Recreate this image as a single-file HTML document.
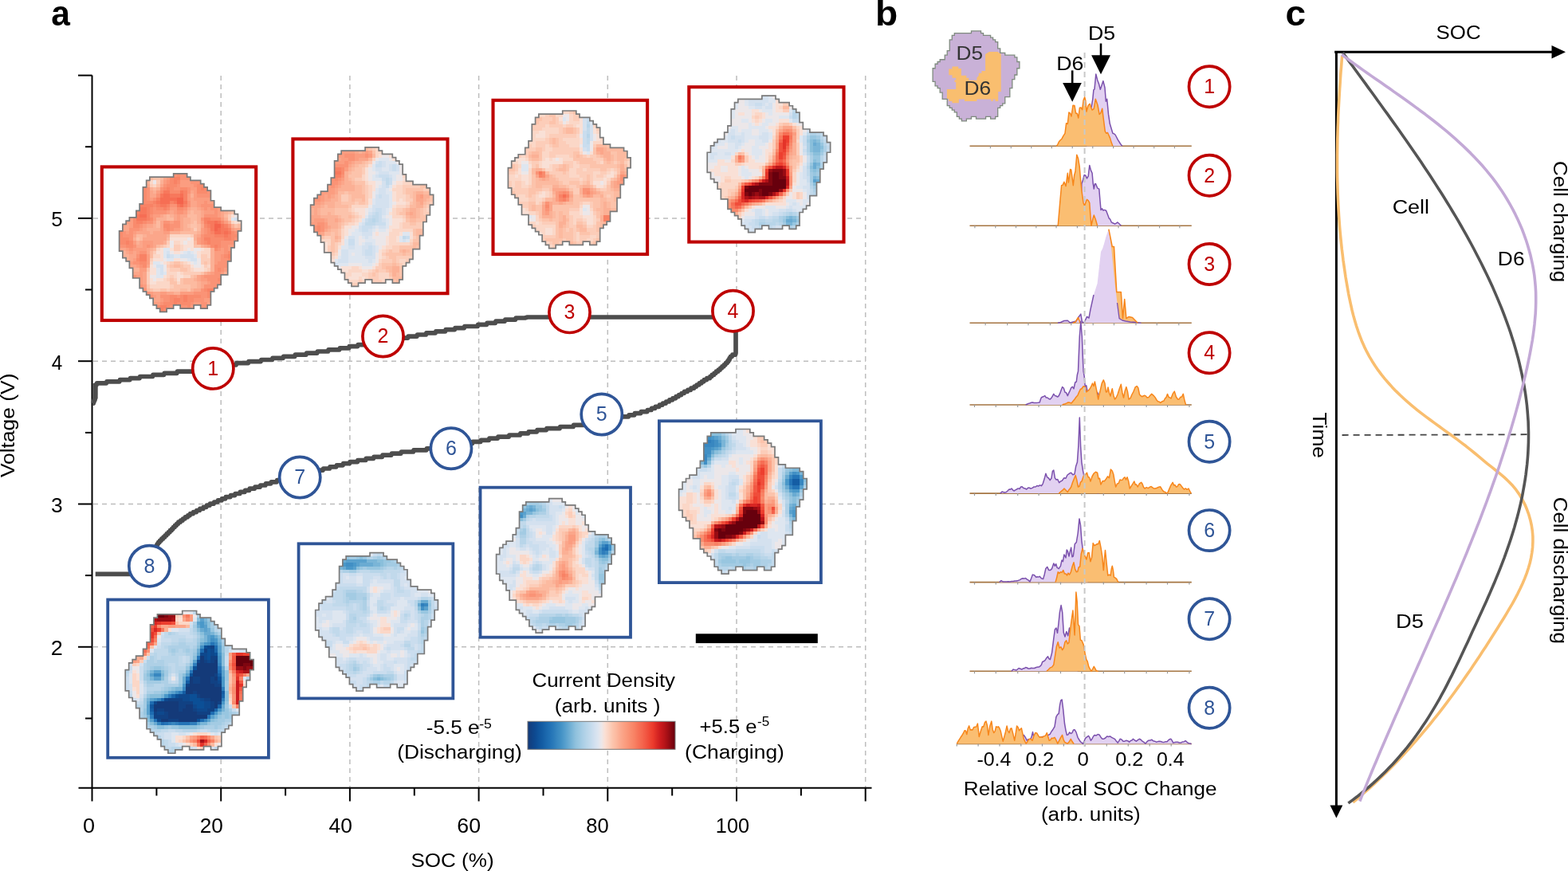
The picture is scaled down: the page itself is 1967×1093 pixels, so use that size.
<!DOCTYPE html>
<html><head><meta charset="utf-8"><title>Figure</title>
<style>html,body{margin:0;padding:0;background:#fff;} svg{display:block;}</style>
</head><body>
<svg width="1967" height="1093" viewBox="0 0 1967 1093" font-family="'Liberation Sans', Arial, Helvetica, sans-serif">
<rect width="1967" height="1093" fill="#fff"/>
<line x1="277.2" y1="95" x2="277.2" y2="988" stroke="#BDBDBD" stroke-width="1.5" stroke-dasharray="6,5"/>
<line x1="438.9" y1="95" x2="438.9" y2="988" stroke="#BDBDBD" stroke-width="1.5" stroke-dasharray="6,5"/>
<line x1="600.6" y1="95" x2="600.6" y2="988" stroke="#BDBDBD" stroke-width="1.5" stroke-dasharray="6,5"/>
<line x1="762.3" y1="95" x2="762.3" y2="988" stroke="#BDBDBD" stroke-width="1.5" stroke-dasharray="6,5"/>
<line x1="924" y1="95" x2="924" y2="988" stroke="#BDBDBD" stroke-width="1.5" stroke-dasharray="6,5"/>
<line x1="1085.7" y1="95" x2="1085.7" y2="988" stroke="#BDBDBD" stroke-width="1.5" stroke-dasharray="6,5"/>
<line x1="117" y1="811.8" x2="1086" y2="811.8" stroke="#BDBDBD" stroke-width="1.5" stroke-dasharray="6,5"/>
<line x1="117" y1="632.5" x2="1086" y2="632.5" stroke="#BDBDBD" stroke-width="1.5" stroke-dasharray="6,5"/>
<line x1="117" y1="453.2" x2="1086" y2="453.2" stroke="#BDBDBD" stroke-width="1.5" stroke-dasharray="6,5"/>
<line x1="117" y1="273.9" x2="1086" y2="273.9" stroke="#BDBDBD" stroke-width="1.5" stroke-dasharray="6,5"/>
<line x1="115.5" y1="94.5" x2="115.5" y2="989.5" stroke="#000" stroke-width="2"/>
<line x1="98.5" y1="988.8" x2="1093.5" y2="988.8" stroke="#000" stroke-width="2"/>
<line x1="107" y1="901.5" x2="115.5" y2="901.5" stroke="#000" stroke-width="2"/>
<line x1="98" y1="811.8" x2="115.5" y2="811.8" stroke="#000" stroke-width="2"/>
<line x1="107" y1="722.1" x2="115.5" y2="722.1" stroke="#000" stroke-width="2"/>
<line x1="98" y1="632.5" x2="115.5" y2="632.5" stroke="#000" stroke-width="2"/>
<line x1="107" y1="542.9" x2="115.5" y2="542.9" stroke="#000" stroke-width="2"/>
<line x1="98" y1="453.2" x2="115.5" y2="453.2" stroke="#000" stroke-width="2"/>
<line x1="107" y1="363.5" x2="115.5" y2="363.5" stroke="#000" stroke-width="2"/>
<line x1="98" y1="273.9" x2="115.5" y2="273.9" stroke="#000" stroke-width="2"/>
<line x1="107" y1="184.2" x2="115.5" y2="184.2" stroke="#000" stroke-width="2"/>
<line x1="98" y1="94.6" x2="115.5" y2="94.6" stroke="#000" stroke-width="2"/>
<line x1="115.5" y1="988" x2="115.5" y2="1005.5" stroke="#000" stroke-width="2"/>
<line x1="196.4" y1="988" x2="196.4" y2="998.5" stroke="#000" stroke-width="2"/>
<line x1="277.2" y1="988" x2="277.2" y2="1005.5" stroke="#000" stroke-width="2"/>
<line x1="358.1" y1="988" x2="358.1" y2="998.5" stroke="#000" stroke-width="2"/>
<line x1="438.9" y1="988" x2="438.9" y2="1005.5" stroke="#000" stroke-width="2"/>
<line x1="519.8" y1="988" x2="519.8" y2="998.5" stroke="#000" stroke-width="2"/>
<line x1="600.6" y1="988" x2="600.6" y2="1005.5" stroke="#000" stroke-width="2"/>
<line x1="681.5" y1="988" x2="681.5" y2="998.5" stroke="#000" stroke-width="2"/>
<line x1="762.3" y1="988" x2="762.3" y2="1005.5" stroke="#000" stroke-width="2"/>
<line x1="843.2" y1="988" x2="843.2" y2="998.5" stroke="#000" stroke-width="2"/>
<line x1="924" y1="988" x2="924" y2="1005.5" stroke="#000" stroke-width="2"/>
<line x1="1004.9" y1="988" x2="1004.9" y2="998.5" stroke="#000" stroke-width="2"/>
<line x1="1085.7" y1="988" x2="1085.7" y2="1005.5" stroke="#000" stroke-width="2"/>
<text x="63.85" y="822.30" font-size="25" textLength="14.99" lengthAdjust="spacingAndGlyphs">2</text>
<text x="64.14" y="643.00" font-size="25" textLength="14.67" lengthAdjust="spacingAndGlyphs">3</text>
<text x="64.71" y="463.70" font-size="25" textLength="13.52" lengthAdjust="spacingAndGlyphs">4</text>
<text x="64.17" y="284.40" font-size="25" textLength="14.37" lengthAdjust="spacingAndGlyphs">5</text>
<text x="103.92" y="1044.80" font-size="25" textLength="15.06" lengthAdjust="spacingAndGlyphs">0</text>
<text x="250.69" y="1044.80" font-size="25" textLength="29.15" lengthAdjust="spacingAndGlyphs">20</text>
<text x="412.47" y="1044.80" font-size="25" textLength="29.38" lengthAdjust="spacingAndGlyphs">40</text>
<text x="573.37" y="1044.80" font-size="25" textLength="29.69" lengthAdjust="spacingAndGlyphs">60</text>
<text x="735.38" y="1044.80" font-size="25" textLength="28.45" lengthAdjust="spacingAndGlyphs">80</text>
<text x="897.88" y="1044.80" font-size="25" textLength="42.08" lengthAdjust="spacingAndGlyphs">100</text>
<text x="515.40" y="1088.10" font-size="24.7" textLength="104.27" lengthAdjust="spacingAndGlyphs">SOC (%)</text>
<text transform="translate(17.90,599.06) rotate(-90)" font-size="24.7" textLength="130.53" lengthAdjust="spacingAndGlyphs">Voltage (V)</text>
<text x="64.23" y="31.70" font-size="45" font-weight="bold" textLength="23.61" lengthAdjust="spacingAndGlyphs">a</text>
<polygon points="116.5,481 122.6,481 122.6,500 117.5,508.5 116.5,508.5" fill="#4D4D4D"/>
<polyline points="116.5,506.1 117.2,506.1 117.4,504 118,504 118.2,501.9 118.9,501.9 119.1,499.8 119.3,499.8 119.3,497.7 119.3,497.7 119.3,495.6 119.4,495.6 119.4,493.5 119.4,493.5 119.4,491.4 119.4,491.4 119.4,489.3 119.4,489.3 119.4,487.2 119.5,487.2 119.5,485.1 119.5,485.1 119.5,483 121.2,483 121.6,480.9 133.4,480.9 133.9,478.8 149.9,478.8 150.4,476.7 162.9,476.7 163.4,474.6 175.1,474.6 175.6,472.5 191.4,472.5 191.9,470.4 205.6,470.4 206.1,468.3 221.9,468.3 222.4,466.2 244.1,466.2 244.6,464.1 259,464.1 259.5,462 272.4,462 272.9,459.9 284.3,459.9 284.8,457.8 296.2,457.8 296.7,455.7 311.4,455.7 311.9,453.6 327.1,453.6 327.7,451.5 341.4,451.5 341.9,449.4 355.1,449.4 355.6,447.3 369.8,447.3 370.3,445.2 384,445.2 384.5,443.1 397.8,443.1 398.3,441 411.5,441 412,438.9 425.8,438.9 426.3,436.8 437.7,436.8 438.2,434.7 448.6,434.7 449.1,432.6 459,432.6 459.5,430.5 471.5,430.5 472,428.4 484,428.4 484.5,426.3 498.6,426.3 499.1,424.2 511.6,424.2 512.1,422.1 523,422.1 523.5,420 534.3,420 534.8,417.9 546.2,417.9 546.7,415.8 558.6,415.8 559.1,413.7 570.4,413.7 570.9,411.6 582.3,411.6 582.8,409.5 599.1,409.5 599.6,407.4 610.5,407.4 611,405.3 621.4,405.3 621.9,403.2 633.2,403.2 633.7,401.1 646.6,401.1 647.1,399 658.5,399 661.7,398 923,398 923,443.1 922.5,445.2 918.8,445.2 918.4,447.3 916.5,447.3 916.2,449.4 915.2,449.4 915,451.5 913.9,451.5 913.7,453.6 912.5,453.6 912.2,455.7 910.4,455.7 910,457.8 908.3,457.8 907.9,459.9 905.9,459.9 905.5,462 903.6,462 903.2,464.1 901.2,464.1 900.8,466.2 898.4,466.2 898,468.3 896,468.3 895.6,470.4 893.2,470.4 892.8,472.5 890.8,472.5 890.4,474.6 886.8,474.6 886.4,476.7 883.3,476.7 882.9,478.8 880.3,478.8 879.9,480.9 877.3,480.9 876.9,483 874,483 873.5,485.1 871,485.1 870.6,487.2 866.9,487.2 866.4,489.3 862.8,489.3 862.3,491.4 858.6,491.4 858.2,493.5 855.1,493.5 854.6,495.6 851.6,495.6 851.1,497.7 848,497.7 847.6,499.8 843.9,499.8 843.5,501.9 839.8,501.9 839.3,504 835.6,504 835.2,506.1 831.5,506.1 831,508.2 827.3,508.2 826.9,510.3 822.2,510.3 821.7,512.4 817.5,512.4 817,514.5 812.3,514.5 811.8,516.6 804.2,516.6 803.7,518.7 796.3,518.7 795.8,520.8 789,520.8 788.5,522.9 779.2,522.9 778.7,525 768.3,525 767.8,527.1 757,527.1 756.5,529.2 745.5,529.2 745,531.3 734,531.3 733.5,533.4 719.6,533.4 719.1,535.5 702.7,535.5 702.2,537.6 685.8,537.6 685.3,539.7 673.9,539.7 673.4,541.8 663.1,541.8 662.6,543.9 652.8,543.9 652.3,546 638.8,546 638.3,548.1 624.8,548.1 624.3,550.2 613.8,550.2 613.3,552.3 603.4,552.3 602.9,554.4 592.9,554.4 592.4,556.5 580.4,556.5 579.9,558.6 568.5,558.6 568,560.7 551.9,560.7 551.4,562.8 535.3,562.8 534.8,564.9 518.9,564.9 518.4,567 503.4,567 502.9,569.1 491.4,569.1 490.9,571.2 479.9,571.2 479.4,573.3 469,573.3 468.5,575.4 459.2,575.4 458.7,577.5 448.8,577.5 448.4,579.6 439,579.6 438.5,581.7 430.6,581.7 430.2,583.8 422.3,583.8 421.8,585.9 413.9,585.9 413.4,588 405.6,588 405.1,590.1 396.7,590.1 396.2,592.2 387.8,592.2 387.3,594.3 379,594.3 378.5,596.4 370.6,596.4 370.1,598.5 362.8,598.5 362.3,600.6 354.9,600.6 354.4,602.7 347.6,602.7 347.1,604.8 340.2,604.8 339.7,606.9 333.4,606.9 332.9,609 326.7,609 326.2,611.1 319.9,611.1 319.4,613.2 313.2,613.2 312.7,615.3 307.5,615.3 307,617.4 301.3,617.4 300.8,619.5 295.1,619.5 294.6,621.6 289.4,621.6 288.9,623.7 283.2,623.7 282.7,625.8 278.5,625.8 278.1,627.9 273.4,627.9 272.9,630 268.7,630 268.2,632.1 263.5,632.1 263.1,634.2 259.4,634.2 259,636.3 255.3,636.3 254.9,638.4 250.8,638.4 250.3,640.5 246.7,640.5 246.3,642.6 242.6,642.6 242.2,644.7 238.6,644.7 238.2,646.8 235.7,646.8 235.3,648.9 232.4,648.9 232,651 229.5,651 229.1,653.1 226.7,653.1 226.3,655.2 223.8,655.2 223.5,657.3 221.7,657.3 221.3,659.4 219.5,659.4 219.2,661.5 217.4,661.5 217,663.6 215.6,663.6 215.2,665.7 213.4,665.7 213.1,667.8 211.3,667.8 210.9,669.9 209.1,669.9 208.8,672 207,672 206.6,674.1 204.9,674.1 204.5,676.2 202.7,676.2 202.3,678.3 200.6,678.3 200.2,680.4 198.8,680.4 198.4,682.5 197.3,682.5 197.1,684.6 196.3,684.6 196.1,686.7 195.5,686.7 195.3,688.8 194.5,688.8 194.3,690.9 193.6,690.9 193.4,693 192.6,693 192.4,695.1 191.8,695.1 191.6,697.2 190.8,697.2 190.6,699.3 190,699.3 189.9,701.4 189.7,701.4 189.6,703.5 189.3,703.5 189.3,705.6 189,705.6 189,707.7 188.8,707.7 188.7,709.8 188.5,709.8 188.4,711.9 188.1,711.9 188,714 187.8,714 187.7,716.1 187.5,716.1 187.4,718.2 187.2,718.2 187.1,720.3 187,720.3 187,720.4 119.7,720.4" fill="none" stroke="#4D4D4D" stroke-width="5.7" stroke-linejoin="round"/>
<rect x="127.8" y="209.4" width="193.4" height="192.6" fill="#fff" stroke="#BE0000" stroke-width="4.1"/>
<rect x="367.4" y="174.4" width="194.1" height="193.8" fill="#fff" stroke="#BE0000" stroke-width="4.1"/>
<rect x="618.5" y="125.8" width="193.6" height="193.2" fill="#fff" stroke="#BE0000" stroke-width="4.1"/>
<rect x="864.3" y="109.2" width="194.2" height="194.4" fill="#fff" stroke="#BE0000" stroke-width="4.1"/>
<rect x="826.9" y="528.3" width="203" height="202.8" fill="#fff" stroke="#2F5597" stroke-width="3.8"/>
<rect x="602.5" y="611.7" width="188.5" height="188" fill="#fff" stroke="#2F5597" stroke-width="3.8"/>
<rect x="374.6" y="682.3" width="193.7" height="194.1" fill="#fff" stroke="#2F5597" stroke-width="3.8"/>
<rect x="135.2" y="752.5" width="201.7" height="198.3" fill="#fff" stroke="#2F5597" stroke-width="3.8"/>
<g transform="translate(149.6,217.9) scale(4.2528,4.2293)" shape-rendering="crispEdges">
<path d="M0 23 L0 17 L1 17 L1 15 L2 15 L2 14 L3 14 L3 13 L5 13 L5 11 L6 11 L6 9 L7 9 L7 4 L8 4 L8 2 L9 2 L9 1 L16 1 L16 0 L20 0 L20 1 L21 1 L21 2 L24 2 L24 3 L25 3 L25 4 L26 4 L26 5 L27 5 L27 8 L28 8 L28 10 L30 10 L30 11 L34 11 L34 12 L35 12 L35 14 L36 14 L36 17 L35 17 L35 20 L34 20 L34 22 L33 22 L33 26 L32 26 L32 30 L30 30 L30 33 L29 33 L29 34 L28 34 L28 35 L27 35 L27 39 L26 39 L26 40 L24 40 L24 39 L22 39 L22 40 L18 40 L18 39 L16 39 L16 40 L14 40 L14 41 L12 41 L12 40 L11 40 L11 39 L10 39 L10 37 L9 37 L9 36 L8 36 L8 35 L7 35 L7 34 L6 34 L6 31 L4 31 L4 28 L3 28 L3 26 L2 26 L2 25 L1 25 L1 23 Z" fill="#fa9a7d"/>
<path fill="#fa9376" d="M16 0h1v1h-1zM18 0h2v1h-2zM18 1h3v1h-3zM14 2h1v1h-1zM21 2h3v1h-3zM13 3h1v1h-1zM17 3h1v1h-1zM22 3h1v1h-1zM8 4h1v1h-1zM12 4h1v1h-1zM16 4h2v1h-2zM20 4h1v1h-1zM8 5h1v1h-1zM20 5h1v1h-1zM26 5h1v1h-1zM8 6h1v1h-1zM11 6h1v1h-1zM23 6h4v1h-4zM8 7h1v1h-1zM10 7h1v1h-1zM20 8h1v1h-1zM25 8h1v1h-1zM15 9h2v1h-2zM20 9h1v1h-1zM24 9h4v1h-4zM10 10h1v1h-1zM19 10h1v1h-1zM25 10h1v1h-1zM27 10h2v1h-2zM10 11h4v1h-4zM17 11h2v1h-2zM28 11h1v1h-1zM9 12h1v1h-1zM25 12h4v1h-4zM24 13h1v1h-1zM8 14h2v1h-2zM13 14h2v1h-2zM16 14h2v1h-2zM6 15h1v1h-1zM15 15h3v1h-3zM32 15h1v1h-1zM3 16h3v1h-3zM13 16h1v1h-1zM15 16h1v1h-1zM25 16h1v1h-1zM1 17h1v1h-1zM3 17h1v1h-1zM25 17h1v1h-1zM34 17h1v1h-1zM1 18h3v1h-3zM24 18h1v1h-1zM3 19h1v1h-1zM24 19h1v1h-1zM34 19h1v1h-1zM24 20h1v1h-1zM30 20h4v1h-4zM0 21h2v1h-2zM4 21h1v1h-1zM8 21h1v1h-1zM30 21h2v1h-2zM3 22h1v1h-1zM29 22h1v1h-1zM31 22h1v1h-1zM6 23h2v1h-2zM31 23h1v1h-1zM5 24h1v1h-1zM30 24h1v1h-1zM30 25h2v1h-2zM4 26h2v1h-2zM29 26h3v1h-3zM6 27h1v1h-1zM28 27h4v1h-4zM28 28h1v1h-1zM30 28h1v1h-1zM28 29h2v1h-2zM4 30h1v1h-1zM25 30h5v1h-5zM26 31h3v1h-3zM27 32h3v1h-3zM6 33h1v1h-1zM25 33h4v1h-4zM7 34h1v1h-1zM24 34h1v1h-1zM8 35h1v1h-1zM22 35h4v1h-4zM9 36h1v1h-1zM12 36h3v1h-3zM17 36h1v1h-1zM24 36h2v1h-2zM13 37h2v1h-2zM22 37h3v1h-3zM12 38h1v1h-1zM21 38h1v1h-1zM24 38h2v1h-2zM15 39h1v1h-1zM18 39h2v1h-2zM24 39h2v1h-2z"/>
<path fill="#f98b6d" d="M17 0h1v1h-1zM15 1h1v1h-1zM15 2h1v1h-1zM17 2h1v1h-1zM14 3h3v1h-3zM23 3h2v1h-2zM7 4h1v1h-1zM13 4h1v1h-1zM15 4h1v1h-1zM18 4h2v1h-2zM23 4h1v1h-1zM25 4h1v1h-1zM7 5h1v1h-1zM12 5h1v1h-1zM15 5h3v1h-3zM23 5h3v1h-3zM7 6h1v1h-1zM7 7h1v1h-1zM7 8h3v1h-3zM10 9h1v1h-1zM9 10h1v1h-1zM11 10h2v1h-2zM14 10h1v1h-1zM17 10h2v1h-2zM9 11h1v1h-1zM4 13h1v1h-1zM9 13h1v1h-1zM27 13h3v1h-3zM4 14h1v1h-1zM7 14h1v1h-1zM30 14h1v1h-1zM4 15h2v1h-2zM13 15h2v1h-2zM25 15h1v1h-1zM14 16h1v1h-1zM26 16h1v1h-1zM0 17h1v1h-1zM26 17h1v1h-1zM33 17h1v1h-1zM0 18h1v1h-1zM25 18h3v1h-3zM33 18h2v1h-2zM0 19h3v1h-3zM27 19h4v1h-4zM33 19h1v1h-1zM0 20h2v1h-2zM3 20h1v1h-1zM25 20h1v1h-1zM27 20h3v1h-3zM2 21h2v1h-2zM27 21h1v1h-1zM29 21h1v1h-1zM28 22h1v1h-1zM32 23h1v1h-1zM31 24h1v1h-1zM5 25h1v1h-1zM32 25h1v1h-1zM6 26h2v1h-2zM7 27h1v1h-1zM29 28h1v1h-1zM29 31h1v1h-1zM25 34h1v1h-1zM26 35h1v1h-1zM15 36h2v1h-2zM18 36h1v1h-1zM20 36h4v1h-4zM26 36h1v1h-1zM15 37h1v1h-1zM18 37h1v1h-1zM20 37h2v1h-2zM13 38h3v1h-3zM17 38h4v1h-4zM11 39h1v1h-1zM14 39h1v1h-1zM20 39h1v1h-1zM13 40h1v1h-1z"/>
<path fill="#fcbaa0" d="M9 1h1v1h-1zM12 1h1v1h-1zM10 4h1v1h-1zM21 11h1v1h-1zM32 11h1v1h-1zM14 12h1v1h-1zM20 12h3v1h-3zM31 12h1v1h-1zM14 13h2v1h-2zM21 13h2v1h-2zM11 14h1v1h-1zM21 14h1v1h-1zM11 15h1v1h-1zM20 15h1v1h-1zM23 15h1v1h-1zM35 15h1v1h-1zM21 16h1v1h-1zM23 16h1v1h-1zM18 17h5v1h-5zM5 18h2v1h-2zM6 19h1v1h-1zM14 19h1v1h-1zM22 20h1v1h-1zM11 21h1v1h-1zM10 22h1v1h-1zM9 23h1v1h-1zM9 24h1v1h-1zM16 27h2v1h-2zM22 30h1v1h-1zM19 31h3v1h-3zM19 32h4v1h-4zM21 33h2v1h-2zM8 34h1v1h-1zM18 34h2v1h-2z"/>
<path fill="#fcc3ab" d="M10 1h2v1h-2zM11 3h1v1h-1zM33 11h1v1h-1zM22 14h1v1h-1zM21 15h2v1h-2zM34 15h1v1h-1zM5 19h1v1h-1zM12 21h1v1h-1zM22 21h2v1h-2zM16 26h2v1h-2zM25 26h1v1h-1zM15 27h1v1h-1zM18 27h1v1h-1zM8 28h1v1h-1zM18 28h2v1h-2zM24 29h1v1h-1zM21 30h1v1h-1zM15 31h1v1h-1zM18 31h1v1h-1zM15 32h2v1h-2zM18 32h1v1h-1zM8 33h1v1h-1zM16 33h5v1h-5zM9 34h1v1h-1zM12 34h2v1h-2zM15 34h3v1h-3zM20 34h1v1h-1z"/>
<path fill="#fba68a" d="M13 1h1v1h-1zM8 3h1v1h-1zM12 3h1v1h-1zM9 5h1v1h-1zM21 5h1v1h-1zM9 6h2v1h-2zM21 7h1v1h-1zM21 8h2v1h-2zM21 9h2v1h-2zM20 10h1v1h-1zM23 10h1v1h-1zM15 11h1v1h-1zM24 11h1v1h-1zM30 11h1v1h-1zM12 12h1v1h-1zM16 12h1v1h-1zM18 12h2v1h-2zM24 12h1v1h-1zM30 12h1v1h-1zM16 13h1v1h-1zM18 13h1v1h-1zM10 14h1v1h-1zM12 14h1v1h-1zM18 14h1v1h-1zM1 15h2v1h-2zM8 15h2v1h-2zM12 15h1v1h-1zM18 15h1v1h-1zM24 15h1v1h-1zM1 16h2v1h-2zM7 16h1v1h-1zM12 16h1v1h-1zM18 16h1v1h-1zM34 16h2v1h-2zM5 17h4v1h-4zM10 17h3v1h-3zM4 18h1v1h-1zM8 18h6v1h-6zM23 18h1v1h-1zM7 19h7v1h-7zM6 20h1v1h-1zM10 20h3v1h-3zM5 21h2v1h-2zM10 21h1v1h-1zM25 21h1v1h-1zM0 22h2v1h-2zM8 22h1v1h-1zM2 23h1v1h-1zM4 23h1v1h-1zM8 23h1v1h-1zM3 24h2v1h-2zM3 25h1v1h-1zM3 27h2v1h-2zM8 27h1v1h-1zM4 29h2v1h-2zM7 29h1v1h-1zM26 29h1v1h-1zM7 30h1v1h-1zM23 30h1v1h-1zM7 31h1v1h-1zM23 31h1v1h-1zM7 32h1v1h-1zM24 32h2v1h-2zM24 33h1v1h-1zM22 34h2v1h-2zM10 35h2v1h-2zM14 35h2v1h-2zM11 36h1v1h-1zM10 37h2v1h-2zM26 38h1v1h-1z"/>
<path fill="#fb9d80" d="M14 1h1v1h-1zM13 2h1v1h-1zM18 2h3v1h-3zM18 3h4v1h-4zM21 4h2v1h-2zM11 5h1v1h-1zM22 5h1v1h-1zM20 6h1v1h-1zM22 6h1v1h-1zM9 7h1v1h-1zM20 7h1v1h-1zM22 7h5v1h-5zM23 8h2v1h-2zM26 8h2v1h-2zM23 9h1v1h-1zM15 10h2v1h-2zM24 10h1v1h-1zM26 10h1v1h-1zM29 10h1v1h-1zM14 11h1v1h-1zM16 11h1v1h-1zM19 11h1v1h-1zM25 11h3v1h-3zM29 11h1v1h-1zM10 12h2v1h-2zM17 12h1v1h-1zM29 12h1v1h-1zM3 13h1v1h-1zM10 13h1v1h-1zM17 13h1v1h-1zM30 13h1v1h-1zM2 14h2v1h-2zM15 14h1v1h-1zM24 14h1v1h-1zM31 14h1v1h-1zM3 15h1v1h-1zM7 15h1v1h-1zM6 16h1v1h-1zM16 16h2v1h-2zM24 16h1v1h-1zM33 16h1v1h-1zM2 17h1v1h-1zM4 17h1v1h-1zM13 17h2v1h-2zM24 17h1v1h-1zM23 19h1v1h-1zM4 20h1v1h-1zM7 20h3v1h-3zM23 20h1v1h-1zM7 21h1v1h-1zM9 21h1v1h-1zM26 21h1v1h-1zM32 21h2v1h-2zM2 22h1v1h-1zM4 22h4v1h-4zM30 22h1v1h-1zM32 22h1v1h-1zM3 23h1v1h-1zM5 23h1v1h-1zM28 23h3v1h-3zM8 24h1v1h-1zM28 24h2v1h-2zM4 25h1v1h-1zM8 25h1v1h-1zM28 25h2v1h-2zM3 26h1v1h-1zM8 26h1v1h-1zM28 26h1v1h-1zM5 27h1v1h-1zM6 28h2v1h-2zM31 28h1v1h-1zM6 29h1v1h-1zM27 29h1v1h-1zM30 29h1v1h-1zM5 30h2v1h-2zM24 30h1v1h-1zM6 31h1v1h-1zM24 31h2v1h-2zM6 32h1v1h-1zM26 32h1v1h-1zM7 33h1v1h-1zM9 35h1v1h-1zM12 35h2v1h-2zM18 35h4v1h-4zM10 36h1v1h-1zM12 37h1v1h-1zM25 37h2v1h-2zM10 38h2v1h-2zM22 38h2v1h-2zM21 39h1v1h-1z"/>
<path fill="#f88265" d="M16 1h2v1h-2zM16 2h1v1h-1zM14 4h1v1h-1zM24 4h1v1h-1zM19 5h1v1h-1zM19 6h1v1h-1zM11 7h1v1h-1zM19 7h1v1h-1zM10 8h1v1h-1zM15 8h1v1h-1zM6 9h4v1h-4zM11 9h1v1h-1zM14 9h1v1h-1zM19 9h1v1h-1zM8 10h1v1h-1zM13 10h1v1h-1zM5 11h1v1h-1zM8 11h1v1h-1zM8 12h1v1h-1zM8 13h1v1h-1zM25 13h2v1h-2zM5 14h2v1h-2zM25 14h1v1h-1zM26 15h1v1h-1zM31 15h1v1h-1zM32 16h1v1h-1zM27 17h1v1h-1zM28 18h3v1h-3zM32 18h1v1h-1zM25 19h2v1h-2zM31 19h2v1h-2zM2 20h1v1h-1zM26 20h1v1h-1zM28 21h1v1h-1zM6 24h2v1h-2zM32 24h1v1h-1zM6 25h2v1h-2zM26 34h2v1h-2zM19 36h1v1h-1zM16 37h2v1h-2zM19 37h1v1h-1zM16 38h1v1h-1zM12 39h2v1h-2zM12 40h1v1h-1z"/>
<path fill="#fbb095" d="M8 2h1v1h-1zM12 2h1v1h-1zM9 4h1v1h-1zM11 4h1v1h-1zM10 5h1v1h-1zM21 6h1v1h-1zM21 10h2v1h-2zM20 11h1v1h-1zM22 11h2v1h-2zM31 11h1v1h-1zM13 12h1v1h-1zM15 12h1v1h-1zM23 12h1v1h-1zM11 13h3v1h-3zM19 13h2v1h-2zM23 13h1v1h-1zM31 13h1v1h-1zM19 14h2v1h-2zM23 14h1v1h-1zM32 14h1v1h-1zM10 15h1v1h-1zM19 15h1v1h-1zM33 15h1v1h-1zM8 16h4v1h-4zM19 16h2v1h-2zM9 17h1v1h-1zM15 17h3v1h-3zM23 17h1v1h-1zM7 18h1v1h-1zM14 18h1v1h-1zM22 18h1v1h-1zM4 19h1v1h-1zM22 19h1v1h-1zM5 20h1v1h-1zM13 20h1v1h-1zM24 21h1v1h-1zM9 22h1v1h-1zM27 22h1v1h-1zM1 23h1v1h-1zM27 23h1v1h-1zM1 24h2v1h-2zM27 24h1v1h-1zM2 25h1v1h-1zM27 25h1v1h-1zM27 26h1v1h-1zM27 27h1v1h-1zM4 28h2v1h-2zM27 28h1v1h-1zM25 29h1v1h-1zM31 29h1v1h-1zM22 31h1v1h-1zM23 32h1v1h-1zM23 33h1v1h-1zM21 34h1v1h-1zM16 35h2v1h-2z"/>
<path fill="#fbd7c7" d="M9 2h1v1h-1zM10 3h1v1h-1zM33 14h1v1h-1zM35 14h1v1h-1zM15 18h6v1h-6zM16 20h2v1h-2zM14 21h1v1h-1zM18 21h1v1h-1zM11 22h1v1h-1zM18 22h1v1h-1zM25 22h2v1h-2zM24 23h3v1h-3zM10 24h2v1h-2zM26 24h1v1h-1zM9 26h1v1h-1zM14 26h1v1h-1zM19 26h1v1h-1zM26 27h1v1h-1zM14 28h1v1h-1zM21 28h1v1h-1zM25 28h1v1h-1zM14 29h3v1h-3zM18 29h1v1h-1zM14 30h1v1h-1zM16 30h1v1h-1zM19 30h2v1h-2zM13 31h1v1h-1zM11 32h4v1h-4zM17 32h1v1h-1zM9 33h6v1h-6z"/>
<path fill="#ece7e9" d="M10 2h1v1h-1zM34 12h1v1h-1zM20 19h1v1h-1zM15 20h1v1h-1zM19 20h1v1h-1zM15 21h1v1h-1zM20 22h1v1h-1zM22 22h2v1h-2zM15 23h1v1h-1zM18 23h1v1h-1zM22 23h1v1h-1zM13 25h1v1h-1zM18 25h2v1h-2zM23 25h1v1h-1zM12 26h1v1h-1zM21 26h1v1h-1zM23 26h1v1h-1zM10 27h1v1h-1zM13 27h1v1h-1zM22 27h2v1h-2zM13 28h1v1h-1zM9 30h2v1h-2zM10 31h1v1h-1z"/>
<path fill="#fccdb9" d="M11 2h1v1h-1zM9 3h1v1h-1zM32 12h1v1h-1zM32 13h1v1h-1zM22 16h1v1h-1zM21 18h1v1h-1zM14 20h1v1h-1zM13 21h1v1h-1zM16 21h2v1h-2zM16 22h2v1h-2zM10 23h1v1h-1zM24 24h2v1h-2zM9 25h1v1h-1zM24 25h3v1h-3zM15 26h1v1h-1zM18 26h1v1h-1zM24 26h1v1h-1zM26 26h1v1h-1zM14 27h1v1h-1zM19 27h2v1h-2zM25 27h1v1h-1zM15 28h3v1h-3zM20 28h1v1h-1zM26 28h1v1h-1zM8 29h1v1h-1zM19 29h5v1h-5zM8 30h1v1h-1zM15 30h1v1h-1zM8 31h1v1h-1zM14 31h1v1h-1zM16 31h1v1h-1zM8 32h1v1h-1zM15 33h1v1h-1zM10 34h2v1h-2zM14 34h1v1h-1z"/>
<path fill="#f7785c" d="M13 5h2v1h-2zM18 5h1v1h-1zM12 6h1v1h-1zM15 6h3v1h-3zM11 8h1v1h-1zM16 8h1v1h-1zM19 8h1v1h-1zM12 9h2v1h-2zM17 9h1v1h-1zM6 10h2v1h-2zM6 11h2v1h-2zM5 12h1v1h-1zM5 13h3v1h-3zM26 14h2v1h-2zM29 14h1v1h-1zM27 15h1v1h-1zM30 15h1v1h-1zM27 16h1v1h-1zM30 16h2v1h-2zM30 17h1v1h-1zM32 17h1v1h-1zM31 18h1v1h-1z"/>
<path fill="#f66e54" d="M13 6h2v1h-2zM18 6h1v1h-1zM12 7h5v1h-5zM12 8h3v1h-3zM18 9h1v1h-1zM6 12h2v1h-2zM28 14h1v1h-1zM29 16h1v1h-1zM28 17h2v1h-2zM31 17h1v1h-1z"/>
<path fill="#f4634c" d="M17 7h2v1h-2zM17 8h2v1h-2zM28 15h2v1h-2zM28 16h1v1h-1z"/>
<path fill="#f9e0d6" d="M33 12h1v1h-1zM34 14h1v1h-1zM15 19h5v1h-5zM21 19h1v1h-1zM18 20h1v1h-1zM20 20h2v1h-2zM19 21h3v1h-3zM12 22h1v1h-1zM15 22h1v1h-1zM19 22h1v1h-1zM21 22h1v1h-1zM24 22h1v1h-1zM11 23h2v1h-2zM16 23h2v1h-2zM23 23h1v1h-1zM12 24h1v1h-1zM23 24h1v1h-1zM10 25h3v1h-3zM16 25h2v1h-2zM13 26h1v1h-1zM20 26h1v1h-1zM9 27h1v1h-1zM21 27h1v1h-1zM24 27h1v1h-1zM9 28h2v1h-2zM22 28h3v1h-3zM9 29h2v1h-2zM17 29h1v1h-1zM13 30h1v1h-1zM17 30h2v1h-2zM9 31h1v1h-1zM11 31h2v1h-2zM17 31h1v1h-1zM9 32h2v1h-2z"/>
<path fill="#dee6f0" d="M33 13h1v1h-1zM13 22h2v1h-2zM13 23h1v1h-1zM19 23h1v1h-1zM21 23h1v1h-1zM13 24h1v1h-1zM16 24h2v1h-2zM22 24h1v1h-1zM14 25h2v1h-2zM20 25h1v1h-1zM10 26h2v1h-2zM22 26h1v1h-1zM11 28h1v1h-1zM11 29h1v1h-1zM13 29h1v1h-1zM11 30h2v1h-2z"/>
<path fill="#d4e1ef" d="M34 13h1v1h-1zM14 23h1v1h-1zM20 23h1v1h-1zM15 24h1v1h-1zM18 24h4v1h-4zM21 25h2v1h-2zM11 27h2v1h-2zM12 28h1v1h-1zM12 29h1v1h-1z"/>
<path fill="#caddee" d="M14 24h1v1h-1z"/>
<path d="M0 23 L0 17 L1 17 L1 15 L2 15 L2 14 L3 14 L3 13 L5 13 L5 11 L6 11 L6 9 L7 9 L7 4 L8 4 L8 2 L9 2 L9 1 L16 1 L16 0 L20 0 L20 1 L21 1 L21 2 L24 2 L24 3 L25 3 L25 4 L26 4 L26 5 L27 5 L27 8 L28 8 L28 10 L30 10 L30 11 L34 11 L34 12 L35 12 L35 14 L36 14 L36 17 L35 17 L35 20 L34 20 L34 22 L33 22 L33 26 L32 26 L32 30 L30 30 L30 33 L29 33 L29 34 L28 34 L28 35 L27 35 L27 39 L26 39 L26 40 L24 40 L24 39 L22 39 L22 40 L18 40 L18 39 L16 39 L16 40 L14 40 L14 41 L12 41 L12 40 L11 40 L11 39 L10 39 L10 37 L9 37 L9 36 L8 36 L8 35 L7 35 L7 34 L6 34 L6 31 L4 31 L4 28 L3 28 L3 26 L2 26 L2 25 L1 25 L1 23 Z" fill="none" stroke="#7a7a7a" stroke-width="1.7" vector-effect="non-scaling-stroke" shape-rendering="auto"/>
</g>
<g transform="translate(389.6,184.8) scale(4.2800,4.2600)" shape-rendering="crispEdges">
<path d="M0 23 L0 17 L1 17 L1 15 L2 15 L2 14 L3 14 L3 13 L5 13 L5 11 L6 11 L6 9 L7 9 L7 4 L8 4 L8 2 L9 2 L9 1 L16 1 L16 0 L20 0 L20 1 L21 1 L21 2 L24 2 L24 3 L25 3 L25 4 L26 4 L26 5 L27 5 L27 8 L28 8 L28 10 L30 10 L30 11 L34 11 L34 12 L35 12 L35 14 L36 14 L36 17 L35 17 L35 20 L34 20 L34 22 L33 22 L33 26 L32 26 L32 30 L30 30 L30 33 L29 33 L29 34 L28 34 L28 35 L27 35 L27 39 L26 39 L26 40 L24 40 L24 39 L22 39 L22 40 L18 40 L18 39 L16 39 L16 40 L14 40 L14 41 L12 41 L12 40 L11 40 L11 39 L10 39 L10 37 L9 37 L9 36 L8 36 L8 35 L7 35 L7 34 L6 34 L6 31 L4 31 L4 28 L3 28 L3 26 L2 26 L2 25 L1 25 L1 23 Z" fill="#fcc9b3"/>
<path fill="#fcbaa0" d="M16 0h1v1h-1zM18 2h1v1h-1zM17 3h1v1h-1zM15 4h1v1h-1zM13 5h1v1h-1zM12 6h1v1h-1zM11 7h1v1h-1zM11 9h1v1h-1zM12 10h1v1h-1zM13 11h2v1h-2zM13 12h2v1h-2zM8 13h2v1h-2zM11 13h4v1h-4zM30 13h1v1h-1zM33 13h2v1h-2zM8 14h1v1h-1zM12 14h4v1h-4zM30 14h1v1h-1zM8 15h1v1h-1zM12 15h1v1h-1zM15 15h1v1h-1zM30 15h1v1h-1zM34 15h1v1h-1zM7 16h2v1h-2zM30 16h1v1h-1zM33 16h1v1h-1zM4 17h1v1h-1zM7 17h4v1h-4zM29 17h2v1h-2zM3 18h4v1h-4zM28 18h1v1h-1zM31 18h1v1h-1zM3 19h2v1h-2zM6 19h1v1h-1zM31 19h1v1h-1zM8 20h1v1h-1zM11 20h1v1h-1zM28 20h1v1h-1zM31 20h1v1h-1zM9 21h1v1h-1zM29 21h2v1h-2zM8 22h1v1h-1zM8 23h1v1h-1zM6 24h2v1h-2zM31 24h2v1h-2zM4 25h2v1h-2zM7 25h1v1h-1zM31 25h2v1h-2zM8 26h1v1h-1zM7 27h1v1h-1zM30 28h2v1h-2zM30 29h1v1h-1zM26 30h1v1h-1zM28 30h1v1h-1zM27 31h1v1h-1zM24 34h1v1h-1zM22 35h2v1h-2zM23 36h1v1h-1zM25 37h1v1h-1zM24 38h3v1h-3zM25 39h1v1h-1z"/>
<path fill="#fcc3ab" d="M17 0h1v1h-1zM18 1h1v1h-1zM16 4h1v1h-1zM14 5h2v1h-2zM13 6h2v1h-2zM12 7h3v1h-3zM11 8h4v1h-4zM12 9h1v1h-1zM13 10h3v1h-3zM15 11h1v1h-1zM32 11h2v1h-2zM15 12h1v1h-1zM28 12h5v1h-5zM10 13h1v1h-1zM15 13h1v1h-1zM28 13h2v1h-2zM11 14h1v1h-1zM29 14h1v1h-1zM35 14h1v1h-1zM11 15h1v1h-1zM13 15h2v1h-2zM35 15h1v1h-1zM9 16h4v1h-4zM14 16h2v1h-2zM29 16h1v1h-1zM34 16h1v1h-1zM11 17h1v1h-1zM33 17h1v1h-1zM7 18h4v1h-4zM27 18h1v1h-1zM32 18h1v1h-1zM7 19h5v1h-5zM26 19h2v1h-2zM32 19h1v1h-1zM9 20h2v1h-2zM12 20h1v1h-1zM32 20h2v1h-2zM10 21h2v1h-2zM28 21h1v1h-1zM31 21h3v1h-3zM9 22h1v1h-1zM29 22h2v1h-2zM8 24h1v1h-1zM30 24h1v1h-1zM6 25h1v1h-1zM8 25h1v1h-1zM30 25h1v1h-1zM3 26h1v1h-1zM6 26h1v1h-1zM31 26h1v1h-1zM6 27h1v1h-1zM8 27h1v1h-1zM30 27h2v1h-2zM6 28h1v1h-1zM6 29h1v1h-1zM26 29h4v1h-4zM31 29h1v1h-1zM6 30h1v1h-1zM23 30h1v1h-1zM29 30h1v1h-1zM22 31h5v1h-5zM28 31h2v1h-2zM23 32h2v1h-2zM24 33h1v1h-1zM21 34h3v1h-3zM25 34h1v1h-1zM21 35h1v1h-1zM26 35h1v1h-1zM19 36h1v1h-1zM22 36h1v1h-1zM26 36h1v1h-1zM18 37h1v1h-1zM23 37h1v1h-1zM26 37h1v1h-1zM24 39h1v1h-1z"/>
<path fill="#fccdb9" d="M18 0h1v1h-1zM17 4h1v1h-1zM16 5h1v1h-1zM15 6h1v1h-1zM15 7h1v1h-1zM13 9h2v1h-2zM16 11h1v1h-1zM27 11h5v1h-5zM16 12h1v1h-1zM27 12h1v1h-1zM33 12h2v1h-2zM16 13h1v1h-1zM27 13h1v1h-1zM9 14h2v1h-2zM16 14h1v1h-1zM28 14h1v1h-1zM9 15h2v1h-2zM16 15h1v1h-1zM28 15h2v1h-2zM13 16h1v1h-1zM16 16h1v1h-1zM35 16h1v1h-1zM28 17h1v1h-1zM34 17h1v1h-1zM11 18h1v1h-1zM25 18h2v1h-2zM33 18h1v1h-1zM12 19h1v1h-1zM25 19h1v1h-1zM33 19h2v1h-2zM13 20h1v1h-1zM27 20h1v1h-1zM12 21h1v1h-1zM10 22h1v1h-1zM27 22h2v1h-2zM31 22h2v1h-2zM9 23h1v1h-1zM27 23h6v1h-6zM4 26h2v1h-2zM30 26h1v1h-1zM7 28h1v1h-1zM29 28h1v1h-1zM5 29h1v1h-1zM7 29h1v1h-1zM24 29h2v1h-2zM5 30h1v1h-1zM7 30h1v1h-1zM22 30h1v1h-1zM24 30h2v1h-2zM6 31h1v1h-1zM21 31h1v1h-1zM22 32h1v1h-1zM25 32h5v1h-5zM21 33h3v1h-3zM25 33h1v1h-1zM28 33h1v1h-1zM20 34h1v1h-1zM26 34h1v1h-1zM19 35h2v1h-2zM18 36h1v1h-1zM20 36h2v1h-2zM17 37h1v1h-1zM19 37h1v1h-1zM17 38h3v1h-3zM23 38h1v1h-1zM14 39h1v1h-1zM18 39h3v1h-3zM12 40h2v1h-2z"/>
<path fill="#fbd7c7" d="M19 0h1v1h-1zM19 1h2v1h-2zM19 2h1v1h-1zM18 3h1v1h-1zM15 8h1v1h-1zM27 8h1v1h-1zM15 9h1v1h-1zM16 10h1v1h-1zM27 10h3v1h-3zM17 11h1v1h-1zM25 11h2v1h-2zM17 12h1v1h-1zM24 12h3v1h-3zM17 13h1v1h-1zM25 13h2v1h-2zM17 14h1v1h-1zM25 14h3v1h-3zM25 15h1v1h-1zM27 15h1v1h-1zM28 16h1v1h-1zM12 17h5v1h-5zM25 17h3v1h-3zM12 18h1v1h-1zM24 18h1v1h-1zM34 18h1v1h-1zM13 19h1v1h-1zM24 19h1v1h-1zM14 20h1v1h-1zM24 20h3v1h-3zM13 21h1v1h-1zM27 21h1v1h-1zM11 22h2v1h-2zM26 22h1v1h-1zM26 23h1v1h-1zM9 24h1v1h-1zM24 24h6v1h-6zM9 25h1v1h-1zM23 25h3v1h-3zM9 26h1v1h-1zM23 26h2v1h-2zM3 27h3v1h-3zM23 27h2v1h-2zM29 27h1v1h-1zM5 28h1v1h-1zM8 28h1v1h-1zM23 28h6v1h-6zM22 29h2v1h-2zM21 30h1v1h-1zM7 31h1v1h-1zM6 32h1v1h-1zM21 32h1v1h-1zM20 33h1v1h-1zM26 33h2v1h-2zM27 34h1v1h-1zM12 35h2v1h-2zM11 36h4v1h-4zM17 36h1v1h-1zM10 37h2v1h-2zM15 37h2v1h-2zM20 37h3v1h-3zM10 38h1v1h-1zM14 38h1v1h-1zM16 38h1v1h-1zM20 38h3v1h-3zM11 39h3v1h-3zM15 39h1v1h-1zM21 39h1v1h-1z"/>
<path fill="#fb9d80" d="M9 1h4v1h-4zM16 1h1v1h-1zM8 2h2v1h-2zM13 2h3v1h-3zM17 2h1v1h-1zM9 3h2v1h-2zM13 3h1v1h-1zM7 4h3v1h-3zM11 4h1v1h-1zM10 6h1v1h-1zM9 9h1v1h-1zM8 10h1v1h-1zM5 11h1v1h-1zM7 11h1v1h-1zM5 12h2v1h-2zM3 13h4v1h-4zM3 14h1v1h-1zM5 14h1v1h-1zM32 14h1v1h-1zM3 15h1v1h-1zM1 16h2v1h-2zM1 21h3v1h-3zM0 22h2v1h-2zM4 22h1v1h-1zM4 23h1v1h-1zM2 25h1v1h-1z"/>
<path fill="#fba68a" d="M13 1h1v1h-1zM15 1h1v1h-1zM17 1h1v1h-1zM8 3h1v1h-1zM14 3h3v1h-3zM12 4h1v1h-1zM11 5h1v1h-1zM9 10h1v1h-1zM8 11h1v1h-1zM7 12h1v1h-1zM7 13h1v1h-1zM4 14h1v1h-1zM6 14h1v1h-1zM31 14h1v1h-1zM4 15h2v1h-2zM31 15h2v1h-2zM3 16h1v1h-1zM32 16h1v1h-1zM0 17h3v1h-3zM1 18h1v1h-1zM1 19h1v1h-1zM29 19h1v1h-1zM0 20h3v1h-3zM0 21h1v1h-1zM4 21h1v1h-1zM7 21h1v1h-1zM5 23h1v1h-1zM4 24h1v1h-1zM3 25h1v1h-1z"/>
<path fill="#fbb095" d="M14 1h1v1h-1zM13 4h2v1h-2zM12 5h1v1h-1zM11 6h1v1h-1zM10 7h1v1h-1zM10 8h1v1h-1zM10 9h1v1h-1zM10 10h2v1h-2zM9 11h4v1h-4zM8 12h5v1h-5zM31 13h2v1h-2zM7 14h1v1h-1zM33 14h2v1h-2zM6 15h2v1h-2zM33 15h1v1h-1zM4 16h3v1h-3zM31 16h1v1h-1zM3 17h1v1h-1zM5 17h2v1h-2zM31 17h2v1h-2zM0 18h1v1h-1zM2 18h1v1h-1zM29 18h2v1h-2zM0 19h1v1h-1zM2 19h1v1h-1zM5 19h1v1h-1zM28 19h1v1h-1zM30 19h1v1h-1zM3 20h5v1h-5zM29 20h2v1h-2zM5 21h2v1h-2zM8 21h1v1h-1zM5 22h3v1h-3zM6 23h2v1h-2zM5 24h1v1h-1zM7 26h1v1h-1zM27 30h1v1h-1zM24 35h2v1h-2zM24 36h2v1h-2zM24 37h1v1h-1z"/>
<path fill="#fa9376" d="M10 2h3v1h-3zM16 2h1v1h-1zM11 3h2v1h-2zM10 4h1v1h-1zM7 5h4v1h-4zM9 8h1v1h-1zM6 9h1v1h-1zM8 9h1v1h-1zM6 10h2v1h-2zM6 11h1v1h-1zM2 14h1v1h-1zM1 15h2v1h-2zM2 22h2v1h-2zM1 23h1v1h-1zM3 23h1v1h-1zM1 24h1v1h-1zM3 24h1v1h-1z"/>
<path fill="#f9e0d6" d="M20 2h1v1h-1zM23 2h1v1h-1zM24 3h1v1h-1zM17 5h1v1h-1zM16 6h1v1h-1zM16 7h1v1h-1zM16 8h1v1h-1zM16 9h1v1h-1zM27 9h1v1h-1zM17 10h2v1h-2zM25 10h2v1h-2zM18 11h1v1h-1zM24 11h1v1h-1zM18 12h1v1h-1zM24 13h1v1h-1zM24 14h1v1h-1zM17 15h1v1h-1zM24 15h1v1h-1zM26 15h1v1h-1zM17 16h1v1h-1zM25 16h3v1h-3zM24 17h1v1h-1zM13 18h3v1h-3zM14 19h2v1h-2zM23 19h1v1h-1zM15 20h1v1h-1zM14 21h1v1h-1zM24 21h3v1h-3zM13 22h1v1h-1zM24 22h2v1h-2zM10 23h2v1h-2zM23 23h3v1h-3zM10 24h1v1h-1zM23 24h1v1h-1zM10 25h1v1h-1zM19 25h1v1h-1zM26 25h1v1h-1zM29 25h1v1h-1zM22 26h1v1h-1zM25 26h1v1h-1zM29 26h1v1h-1zM9 27h1v1h-1zM22 27h1v1h-1zM25 27h1v1h-1zM4 28h1v1h-1zM9 28h1v1h-1zM22 28h1v1h-1zM4 29h1v1h-1zM8 29h1v1h-1zM21 29h1v1h-1zM4 30h1v1h-1zM20 30h1v1h-1zM20 31h1v1h-1zM7 32h1v1h-1zM20 32h1v1h-1zM6 33h1v1h-1zM19 34h1v1h-1zM9 35h3v1h-3zM14 35h1v1h-1zM18 35h1v1h-1zM9 36h2v1h-2zM15 36h2v1h-2zM12 37h3v1h-3zM11 38h3v1h-3zM15 38h1v1h-1z"/>
<path fill="#ece7e9" d="M21 2h2v1h-2zM19 3h1v1h-1zM23 3h1v1h-1zM18 4h1v1h-1zM25 4h1v1h-1zM26 5h1v1h-1zM17 6h1v1h-1zM26 6h1v1h-1zM17 7h2v1h-2zM26 7h1v1h-1zM17 8h1v1h-1zM25 8h2v1h-2zM17 9h1v1h-1zM25 9h2v1h-2zM19 10h2v1h-2zM24 10h1v1h-1zM19 11h1v1h-1zM23 12h1v1h-1zM18 13h1v1h-1zM18 14h1v1h-1zM24 16h1v1h-1zM17 17h1v1h-1zM16 18h1v1h-1zM23 18h1v1h-1zM16 19h1v1h-1zM22 20h2v1h-2zM23 21h1v1h-1zM23 22h1v1h-1zM12 23h2v1h-2zM11 24h2v1h-2zM19 24h1v1h-1zM22 24h1v1h-1zM11 25h1v1h-1zM18 25h1v1h-1zM20 25h3v1h-3zM10 26h1v1h-1zM14 26h1v1h-1zM18 26h4v1h-4zM14 27h2v1h-2zM19 27h3v1h-3zM14 28h1v1h-1zM19 28h3v1h-3zM20 29h1v1h-1zM8 30h1v1h-1zM8 31h1v1h-1zM12 31h1v1h-1zM19 31h1v1h-1zM19 32h1v1h-1zM19 33h1v1h-1zM11 34h4v1h-4zM18 34h1v1h-1zM8 35h1v1h-1zM15 35h3v1h-3z"/>
<path fill="#dee6f0" d="M20 3h3v1h-3zM22 4h3v1h-3zM18 5h1v1h-1zM22 5h1v1h-1zM18 6h1v1h-1zM21 6h2v1h-2zM19 7h1v1h-1zM23 7h3v1h-3zM18 8h1v1h-1zM24 8h1v1h-1zM18 9h3v1h-3zM24 9h1v1h-1zM20 11h1v1h-1zM23 11h1v1h-1zM19 12h1v1h-1zM22 12h1v1h-1zM19 13h1v1h-1zM22 13h2v1h-2zM23 14h1v1h-1zM18 15h1v1h-1zM23 15h1v1h-1zM18 16h1v1h-1zM23 16h1v1h-1zM23 17h1v1h-1zM17 18h1v1h-1zM22 18h1v1h-1zM22 19h1v1h-1zM16 20h1v1h-1zM21 20h1v1h-1zM15 21h1v1h-1zM22 21h1v1h-1zM14 22h1v1h-1zM22 22h1v1h-1zM19 23h1v1h-1zM22 23h1v1h-1zM13 24h1v1h-1zM18 24h1v1h-1zM20 24h2v1h-2zM12 25h3v1h-3zM27 25h2v1h-2zM13 26h1v1h-1zM15 26h1v1h-1zM17 26h1v1h-1zM26 26h1v1h-1zM10 27h1v1h-1zM13 27h1v1h-1zM16 27h3v1h-3zM26 27h1v1h-1zM28 27h1v1h-1zM10 28h1v1h-1zM13 28h1v1h-1zM15 28h1v1h-1zM18 28h1v1h-1zM9 29h2v1h-2zM13 29h2v1h-2zM19 29h1v1h-1zM11 30h4v1h-4zM19 30h1v1h-1zM11 31h1v1h-1zM13 31h2v1h-2zM8 32h1v1h-1zM11 32h5v1h-5zM7 33h1v1h-1zM11 33h6v1h-6zM18 33h1v1h-1zM8 34h3v1h-3zM15 34h3v1h-3z"/>
<path fill="#d4e1ef" d="M19 4h1v1h-1zM21 4h1v1h-1zM21 5h1v1h-1zM23 5h1v1h-1zM25 5h1v1h-1zM19 6h2v1h-2zM23 6h1v1h-1zM25 6h1v1h-1zM20 7h3v1h-3zM19 8h1v1h-1zM23 8h1v1h-1zM21 10h1v1h-1zM21 11h1v1h-1zM20 12h2v1h-2zM20 13h2v1h-2zM19 14h1v1h-1zM21 14h2v1h-2zM19 15h4v1h-4zM19 16h4v1h-4zM18 17h5v1h-5zM18 18h1v1h-1zM21 18h1v1h-1zM17 19h1v1h-1zM21 19h1v1h-1zM21 21h1v1h-1zM15 22h1v1h-1zM14 23h1v1h-1zM18 23h1v1h-1zM20 23h2v1h-2zM14 24h1v1h-1zM17 24h1v1h-1zM15 25h3v1h-3zM11 26h2v1h-2zM16 26h1v1h-1zM27 27h1v1h-1zM16 28h2v1h-2zM11 29h2v1h-2zM15 29h2v1h-2zM18 29h1v1h-1zM9 30h2v1h-2zM15 30h1v1h-1zM18 30h1v1h-1zM9 31h2v1h-2zM15 31h1v1h-1zM18 31h1v1h-1zM9 32h2v1h-2zM16 32h3v1h-3zM8 33h3v1h-3zM17 33h1v1h-1zM7 34h1v1h-1z"/>
<path fill="#caddee" d="M20 4h1v1h-1zM19 5h2v1h-2zM24 5h1v1h-1zM24 6h1v1h-1zM20 8h3v1h-3zM21 9h1v1h-1zM23 9h1v1h-1zM23 10h1v1h-1zM22 11h1v1h-1zM20 14h1v1h-1zM19 18h2v1h-2zM18 19h1v1h-1zM20 19h1v1h-1zM17 20h1v1h-1zM20 20h1v1h-1zM16 21h1v1h-1zM20 21h1v1h-1zM19 22h3v1h-3zM15 23h3v1h-3zM15 24h2v1h-2zM28 26h1v1h-1zM11 27h2v1h-2zM11 28h2v1h-2zM17 29h1v1h-1zM16 30h2v1h-2zM16 31h2v1h-2z"/>
<path fill="#f88265" d="M7 6h2v1h-2zM7 8h2v1h-2z"/>
<path fill="#f98b6d" d="M9 6h1v1h-1zM9 7h1v1h-1zM7 9h1v1h-1zM2 23h1v1h-1zM2 24h1v1h-1z"/>
<path fill="#f7785c" d="M7 7h2v1h-2z"/>
<path fill="#c1d9eb" d="M22 9h1v1h-1zM22 10h1v1h-1zM19 19h1v1h-1zM18 20h2v1h-2zM17 21h1v1h-1zM19 21h1v1h-1zM16 22h3v1h-3zM27 26h1v1h-1z"/>
<path fill="#b8d5e9" d="M18 21h1v1h-1z"/>
<path d="M0 23 L0 17 L1 17 L1 15 L2 15 L2 14 L3 14 L3 13 L5 13 L5 11 L6 11 L6 9 L7 9 L7 4 L8 4 L8 2 L9 2 L9 1 L16 1 L16 0 L20 0 L20 1 L21 1 L21 2 L24 2 L24 3 L25 3 L25 4 L26 4 L26 5 L27 5 L27 8 L28 8 L28 10 L30 10 L30 11 L34 11 L34 12 L35 12 L35 14 L36 14 L36 17 L35 17 L35 20 L34 20 L34 22 L33 22 L33 26 L32 26 L32 30 L30 30 L30 33 L29 33 L29 34 L28 34 L28 35 L27 35 L27 39 L26 39 L26 40 L24 40 L24 39 L22 39 L22 40 L18 40 L18 39 L16 39 L16 40 L14 40 L14 41 L12 41 L12 40 L11 40 L11 39 L10 39 L10 37 L9 37 L9 36 L8 36 L8 35 L7 35 L7 34 L6 34 L6 31 L4 31 L4 28 L3 28 L3 26 L2 26 L2 25 L1 25 L1 23 Z" fill="none" stroke="#7a7a7a" stroke-width="1.7" vector-effect="non-scaling-stroke" shape-rendering="auto"/>
</g>
<g transform="translate(637.4,139) scale(4.2700,4.2100)" shape-rendering="crispEdges">
<path d="M0 23 L0 17 L1 17 L1 15 L2 15 L2 14 L3 14 L3 13 L5 13 L5 11 L6 11 L6 9 L7 9 L7 4 L8 4 L8 2 L9 2 L9 1 L16 1 L16 0 L20 0 L20 1 L21 1 L21 2 L24 2 L24 3 L25 3 L25 4 L26 4 L26 5 L27 5 L27 8 L28 8 L28 10 L30 10 L30 11 L34 11 L34 12 L35 12 L35 14 L36 14 L36 17 L35 17 L35 20 L34 20 L34 22 L33 22 L33 26 L32 26 L32 30 L30 30 L30 33 L29 33 L29 34 L28 34 L28 35 L27 35 L27 39 L26 39 L26 40 L24 40 L24 39 L22 39 L22 40 L18 40 L18 39 L16 39 L16 40 L14 40 L14 41 L12 41 L12 40 L11 40 L11 39 L10 39 L10 37 L9 37 L9 36 L8 36 L8 35 L7 35 L7 34 L6 34 L6 31 L4 31 L4 28 L3 28 L3 26 L2 26 L2 25 L1 25 L1 23 Z" fill="#fccbb6"/>
<path fill="#fbd7c7" d="M16 0h2v1h-2zM9 1h2v1h-2zM14 1h2v1h-2zM18 1h1v1h-1zM18 2h1v1h-1zM15 3h1v1h-1zM18 3h3v1h-3zM11 4h1v1h-1zM16 4h1v1h-1zM19 4h1v1h-1zM25 4h1v1h-1zM10 5h5v1h-5zM7 6h2v1h-2zM11 6h4v1h-4zM26 6h1v1h-1zM7 7h1v1h-1zM11 7h1v1h-1zM20 7h1v1h-1zM7 8h4v1h-4zM16 8h5v1h-5zM27 8h1v1h-1zM6 9h2v1h-2zM17 9h4v1h-4zM25 9h3v1h-3zM7 10h1v1h-1zM11 10h1v1h-1zM18 10h3v1h-3zM11 11h2v1h-2zM10 12h2v1h-2zM21 12h1v1h-1zM4 13h1v1h-1zM10 13h2v1h-2zM14 13h4v1h-4zM23 13h1v1h-1zM5 14h1v1h-1zM10 14h1v1h-1zM12 14h1v1h-1zM16 14h3v1h-3zM1 15h2v1h-2zM6 15h1v1h-1zM9 15h1v1h-1zM19 15h1v1h-1zM27 15h1v1h-1zM35 15h1v1h-1zM3 16h1v1h-1zM9 16h1v1h-1zM12 16h1v1h-1zM19 16h2v1h-2zM35 16h1v1h-1zM6 17h1v1h-1zM11 17h2v1h-2zM18 17h2v1h-2zM22 17h1v1h-1zM30 17h1v1h-1zM2 18h1v1h-1zM6 18h1v1h-1zM18 18h2v1h-2zM25 18h2v1h-2zM29 18h1v1h-1zM31 18h1v1h-1zM0 19h2v1h-2zM3 19h1v1h-1zM6 19h1v1h-1zM18 19h3v1h-3zM25 19h1v1h-1zM28 19h1v1h-1zM0 20h4v1h-4zM6 20h1v1h-1zM21 20h1v1h-1zM25 20h3v1h-3zM29 20h1v1h-1zM1 21h1v1h-1zM4 21h1v1h-1zM6 21h1v1h-1zM1 22h1v1h-1zM4 22h2v1h-2zM28 22h1v1h-1zM9 24h1v1h-1zM11 24h1v1h-1zM3 25h2v1h-2zM8 25h1v1h-1zM11 25h1v1h-1zM3 26h3v1h-3zM8 26h2v1h-2zM8 27h1v1h-1zM22 27h2v1h-2zM21 28h1v1h-1zM5 29h1v1h-1zM24 29h1v1h-1zM6 30h2v1h-2zM18 30h3v1h-3zM8 31h1v1h-1zM19 31h3v1h-3zM25 31h1v1h-1zM8 32h1v1h-1zM19 32h1v1h-1zM22 32h1v1h-1zM25 32h1v1h-1zM6 33h2v1h-2zM9 33h1v1h-1zM19 33h1v1h-1zM25 33h1v1h-1zM8 34h6v1h-6zM23 34h2v1h-2zM8 35h3v1h-3zM13 35h1v1h-1zM10 36h1v1h-1zM13 36h1v1h-1zM20 36h1v1h-1zM20 37h1v1h-1zM24 37h2v1h-2zM20 38h1v1h-1zM23 38h2v1h-2zM11 39h1v1h-1zM12 40h1v1h-1z"/>
<path fill="#fccdb9" d="M18 0h1v1h-1zM11 1h1v1h-1zM19 1h2v1h-2zM10 2h3v1h-3zM14 2h1v1h-1zM19 2h2v1h-2zM9 3h3v1h-3zM14 3h1v1h-1zM7 4h4v1h-4zM12 4h4v1h-4zM17 4h2v1h-2zM7 5h3v1h-3zM15 5h1v1h-1zM20 5h1v1h-1zM26 5h1v1h-1zM15 6h1v1h-1zM20 6h1v1h-1zM12 7h8v1h-8zM11 8h1v1h-1zM15 8h1v1h-1zM8 9h4v1h-4zM15 9h2v1h-2zM6 10h1v1h-1zM8 10h3v1h-3zM12 10h1v1h-1zM15 10h3v1h-3zM25 10h1v1h-1zM5 11h3v1h-3zM10 11h1v1h-1zM13 11h8v1h-8zM5 12h1v1h-1zM12 12h7v1h-7zM3 13h1v1h-1zM5 13h1v1h-1zM12 13h2v1h-2zM18 13h1v1h-1zM22 13h1v1h-1zM24 13h2v1h-2zM25 14h3v1h-3zM35 14h1v1h-1zM7 15h2v1h-2zM16 15h3v1h-3zM20 15h1v1h-1zM26 15h1v1h-1zM31 15h1v1h-1zM34 15h1v1h-1zM2 16h1v1h-1zM7 16h1v1h-1zM13 16h2v1h-2zM18 16h1v1h-1zM21 16h3v1h-3zM2 17h1v1h-1zM13 17h1v1h-1zM20 17h2v1h-2zM23 17h4v1h-4zM29 17h1v1h-1zM31 17h1v1h-1zM0 18h2v1h-2zM12 18h4v1h-4zM17 18h1v1h-1zM20 18h5v1h-5zM27 18h2v1h-2zM14 19h4v1h-4zM21 19h2v1h-2zM24 19h1v1h-1zM26 19h2v1h-2zM31 19h1v1h-1zM15 20h6v1h-6zM22 20h1v1h-1zM24 20h1v1h-1zM0 21h1v1h-1zM2 21h2v1h-2zM16 21h2v1h-2zM21 21h1v1h-1zM24 21h1v1h-1zM29 21h1v1h-1zM0 22h1v1h-1zM2 22h2v1h-2zM6 22h1v1h-1zM18 22h2v1h-2zM25 22h1v1h-1zM1 23h5v1h-5zM10 23h2v1h-2zM19 23h2v1h-2zM27 23h2v1h-2zM2 24h4v1h-4zM8 24h1v1h-1zM12 24h1v1h-1zM19 24h2v1h-2zM2 25h1v1h-1zM5 25h1v1h-1zM7 25h1v1h-1zM12 25h1v1h-1zM29 25h1v1h-1zM6 26h2v1h-2zM10 26h1v1h-1zM3 27h3v1h-3zM9 27h1v1h-1zM21 27h1v1h-1zM24 27h1v1h-1zM4 28h2v1h-2zM24 28h1v1h-1zM18 29h3v1h-3zM8 30h1v1h-1zM25 30h1v1h-1zM18 31h1v1h-1zM9 32h1v1h-1zM18 32h1v1h-1zM20 32h2v1h-2zM26 32h1v1h-1zM10 33h4v1h-4zM18 33h1v1h-1zM22 33h1v1h-1zM7 34h1v1h-1zM18 34h2v1h-2zM25 34h1v1h-1zM17 35h1v1h-1zM19 35h1v1h-1zM23 35h3v1h-3zM19 36h1v1h-1zM24 36h3v1h-3zM10 37h4v1h-4zM19 37h1v1h-1zM21 37h3v1h-3zM26 37h1v1h-1zM10 38h1v1h-1zM16 38h1v1h-1zM19 38h1v1h-1zM21 38h2v1h-2zM25 38h1v1h-1zM12 39h1v1h-1zM15 39h1v1h-1zM20 39h2v1h-2zM24 39h1v1h-1zM13 40h1v1h-1z"/>
<path fill="#fcc3ab" d="M19 0h1v1h-1zM12 1h2v1h-2zM8 2h2v1h-2zM13 2h1v1h-1zM8 3h1v1h-1zM12 3h2v1h-2zM16 5h1v1h-1zM19 5h1v1h-1zM16 6h1v1h-1zM19 6h1v1h-1zM12 8h1v1h-1zM14 8h1v1h-1zM12 9h1v1h-1zM14 9h1v1h-1zM13 10h2v1h-2zM29 10h1v1h-1zM8 11h2v1h-2zM25 11h1v1h-1zM6 12h1v1h-1zM9 12h1v1h-1zM19 12h2v1h-2zM25 12h1v1h-1zM30 12h2v1h-2zM9 13h1v1h-1zM19 13h1v1h-1zM21 13h1v1h-1zM26 13h1v1h-1zM31 13h1v1h-1zM6 14h1v1h-1zM9 14h1v1h-1zM19 14h6v1h-6zM31 14h1v1h-1zM34 14h1v1h-1zM21 15h5v1h-5zM28 15h1v1h-1zM30 15h1v1h-1zM32 15h1v1h-1zM1 16h1v1h-1zM8 16h1v1h-1zM15 16h1v1h-1zM17 16h1v1h-1zM24 16h8v1h-8zM34 16h1v1h-1zM0 17h2v1h-2zM10 17h1v1h-1zM14 17h1v1h-1zM17 17h1v1h-1zM27 17h2v1h-2zM32 17h1v1h-1zM16 18h1v1h-1zM32 18h1v1h-1zM7 19h1v1h-1zM13 19h1v1h-1zM23 19h1v1h-1zM7 20h1v1h-1zM14 20h1v1h-1zM23 20h1v1h-1zM30 20h1v1h-1zM7 21h1v1h-1zM15 21h1v1h-1zM18 21h3v1h-3zM22 21h1v1h-1zM7 22h1v1h-1zM10 22h3v1h-3zM17 22h1v1h-1zM20 22h1v1h-1zM29 22h1v1h-1zM6 23h4v1h-4zM12 23h1v1h-1zM18 23h1v1h-1zM26 23h1v1h-1zM29 23h1v1h-1zM1 24h1v1h-1zM6 24h2v1h-2zM28 24h3v1h-3zM6 25h1v1h-1zM19 25h2v1h-2zM28 25h1v1h-1zM30 25h1v1h-1zM19 26h8v1h-8zM29 26h2v1h-2zM6 27h2v1h-2zM19 27h2v1h-2zM25 27h2v1h-2zM30 27h2v1h-2zM6 28h1v1h-1zM8 28h2v1h-2zM13 28h8v1h-8zM25 28h2v1h-2zM30 28h2v1h-2zM6 29h1v1h-1zM8 29h2v1h-2zM13 29h5v1h-5zM25 29h1v1h-1zM9 30h1v1h-1zM14 30h1v1h-1zM16 30h2v1h-2zM26 30h1v1h-1zM9 31h1v1h-1zM14 31h1v1h-1zM17 31h1v1h-1zM26 31h1v1h-1zM10 32h2v1h-2zM13 32h2v1h-2zM14 33h1v1h-1zM17 33h1v1h-1zM20 33h2v1h-2zM26 33h1v1h-1zM14 34h1v1h-1zM17 34h1v1h-1zM22 34h1v1h-1zM26 34h1v1h-1zM14 35h1v1h-1zM16 35h1v1h-1zM18 35h1v1h-1zM20 35h1v1h-1zM26 35h1v1h-1zM14 36h1v1h-1zM16 36h3v1h-3zM21 36h3v1h-3zM14 37h1v1h-1zM16 37h3v1h-3zM11 38h5v1h-5zM17 38h2v1h-2zM26 38h1v1h-1zM13 39h2v1h-2zM19 39h1v1h-1zM25 39h1v1h-1z"/>
<path fill="#ece7e9" d="M16 1h2v1h-2zM17 2h1v1h-1zM16 3h1v1h-1zM21 7h1v1h-1zM25 7h1v1h-1zM25 8h1v1h-1zM24 9h1v1h-1zM21 10h1v1h-1zM24 10h1v1h-1zM24 11h1v1h-1zM22 12h1v1h-1zM14 14h1v1h-1zM4 15h2v1h-2zM4 18h2v1h-2zM27 21h1v1h-1zM22 28h2v1h-2zM23 29h1v1h-1zM22 30h2v1h-2zM7 31h1v1h-1zM6 32h2v1h-2z"/>
<path fill="#f9e0d6" d="M15 2h1v1h-1zM21 2h1v1h-1zM17 3h1v1h-1zM21 3h1v1h-1zM20 4h2v1h-2zM21 5h1v1h-1zM25 5h1v1h-1zM9 6h2v1h-2zM21 6h1v1h-1zM25 6h1v1h-1zM8 7h3v1h-3zM26 7h1v1h-1zM21 8h1v1h-1zM26 8h1v1h-1zM21 9h1v1h-1zM21 11h1v1h-1zM24 12h1v1h-1zM2 14h3v1h-3zM11 14h1v1h-1zM13 14h1v1h-1zM15 14h1v1h-1zM3 15h1v1h-1zM10 15h6v1h-6zM6 16h1v1h-1zM10 16h2v1h-2zM3 17h1v1h-1zM3 18h1v1h-1zM30 18h1v1h-1zM2 19h1v1h-1zM4 19h2v1h-2zM29 19h2v1h-2zM4 20h2v1h-2zM28 20h1v1h-1zM5 21h1v1h-1zM25 21h2v1h-2zM28 21h1v1h-1zM26 22h2v1h-2zM10 24h1v1h-1zM9 25h2v1h-2zM4 29h1v1h-1zM21 29h1v1h-1zM4 30h2v1h-2zM21 30h1v1h-1zM24 30h1v1h-1zM22 31h3v1h-3zM23 32h2v1h-2zM8 33h1v1h-1zM23 33h2v1h-2zM11 35h2v1h-2zM9 36h1v1h-1zM11 36h2v1h-2z"/>
<path fill="#dee6f0" d="M16 2h1v1h-1zM24 3h1v1h-1zM23 12h1v1h-1zM4 16h2v1h-2zM4 17h2v1h-2zM22 29h1v1h-1zM6 31h1v1h-1z"/>
<path fill="#d4e1ef" d="M22 2h1v1h-1zM22 3h1v1h-1zM22 4h1v1h-1zM24 4h1v1h-1zM22 5h1v1h-1zM24 5h1v1h-1zM24 6h1v1h-1zM24 7h1v1h-1zM24 8h1v1h-1zM22 11h1v1h-1z"/>
<path fill="#caddee" d="M23 2h1v1h-1zM22 6h1v1h-1zM22 7h1v1h-1zM22 8h1v1h-1zM22 9h1v1h-1zM22 10h2v1h-2zM23 11h1v1h-1z"/>
<path fill="#c1d9eb" d="M23 3h1v1h-1zM23 5h1v1h-1zM23 6h1v1h-1zM23 8h1v1h-1zM23 9h1v1h-1z"/>
<path fill="#b8d5e9" d="M23 4h1v1h-1zM23 7h1v1h-1z"/>
<path fill="#fcbaa0" d="M17 5h2v1h-2zM17 6h2v1h-2zM13 8h1v1h-1zM13 9h1v1h-1zM26 10h3v1h-3zM29 11h5v1h-5zM7 12h2v1h-2zM32 12h3v1h-3zM6 13h1v1h-1zM20 13h1v1h-1zM27 13h1v1h-1zM30 13h1v1h-1zM32 13h3v1h-3zM7 14h2v1h-2zM28 14h1v1h-1zM30 14h1v1h-1zM32 14h2v1h-2zM29 15h1v1h-1zM33 15h1v1h-1zM16 16h1v1h-1zM32 16h1v1h-1zM7 17h1v1h-1zM15 17h2v1h-2zM34 17h1v1h-1zM7 18h1v1h-1zM11 18h1v1h-1zM12 19h1v1h-1zM8 20h1v1h-1zM12 20h2v1h-2zM31 20h1v1h-1zM8 21h7v1h-7zM23 21h1v1h-1zM8 22h2v1h-2zM15 22h2v1h-2zM21 22h1v1h-1zM24 22h1v1h-1zM30 23h1v1h-1zM27 24h1v1h-1zM31 24h2v1h-2zM13 25h1v1h-1zM21 25h1v1h-1zM25 25h2v1h-2zM31 25h2v1h-2zM11 26h2v1h-2zM27 26h2v1h-2zM31 26h1v1h-1zM17 27h2v1h-2zM27 27h1v1h-1zM29 27h1v1h-1zM7 28h1v1h-1zM27 28h1v1h-1zM29 28h1v1h-1zM7 29h1v1h-1zM26 29h2v1h-2zM30 29h2v1h-2zM13 30h1v1h-1zM15 30h1v1h-1zM27 30h1v1h-1zM13 31h1v1h-1zM15 31h1v1h-1zM12 32h1v1h-1zM15 32h1v1h-1zM17 32h1v1h-1zM27 33h1v1h-1zM16 34h1v1h-1zM20 34h2v1h-2zM27 34h1v1h-1zM15 35h1v1h-1zM21 35h2v1h-2zM15 36h1v1h-1zM15 37h1v1h-1zM18 39h1v1h-1z"/>
<path fill="#fba68a" d="M26 11h2v1h-2zM27 12h1v1h-1zM33 18h1v1h-1zM8 19h1v1h-1zM11 19h1v1h-1zM10 20h1v1h-1zM32 20h1v1h-1zM31 21h1v1h-1zM31 22h2v1h-2zM13 23h4v1h-4zM24 23h1v1h-1zM25 24h1v1h-1zM18 25h1v1h-1zM22 25h1v1h-1zM24 25h1v1h-1zM12 27h1v1h-1zM15 27h1v1h-1zM10 28h1v1h-1zM12 28h1v1h-1zM10 29h1v1h-1zM12 29h1v1h-1zM10 30h1v1h-1z"/>
<path fill="#fbb095" d="M28 11h1v1h-1zM26 12h1v1h-1zM28 12h2v1h-2zM7 13h2v1h-2zM28 13h2v1h-2zM29 14h1v1h-1zM33 16h1v1h-1zM8 17h2v1h-2zM33 17h1v1h-1zM34 18h1v1h-1zM32 19h1v1h-1zM9 20h1v1h-1zM11 20h1v1h-1zM30 21h1v1h-1zM13 22h2v1h-2zM22 22h2v1h-2zM30 22h1v1h-1zM17 23h1v1h-1zM21 23h1v1h-1zM25 23h1v1h-1zM31 23h2v1h-2zM13 24h1v1h-1zM18 24h1v1h-1zM21 24h1v1h-1zM26 24h1v1h-1zM27 25h1v1h-1zM13 26h1v1h-1zM18 26h1v1h-1zM10 27h1v1h-1zM13 27h2v1h-2zM16 27h1v1h-1zM28 27h1v1h-1zM28 28h1v1h-1zM28 29h2v1h-2zM12 30h1v1h-1zM28 30h2v1h-2zM10 31h3v1h-3zM16 31h1v1h-1zM27 31h1v1h-1zM16 32h1v1h-1zM27 32h1v1h-1zM15 33h2v1h-2zM28 33h1v1h-1zM15 34h1v1h-1z"/>
<path fill="#fa9376" d="M8 18h1v1h-1zM33 19h1v1h-1zM33 20h1v1h-1zM22 23h2v1h-2zM15 24h1v1h-1zM17 24h1v1h-1zM22 24h1v1h-1zM17 26h1v1h-1zM11 27h1v1h-1zM11 29h1v1h-1z"/>
<path fill="#f7785c" d="M9 18h1v1h-1z"/>
<path fill="#f98b6d" d="M10 18h1v1h-1zM10 19h1v1h-1zM16 24h1v1h-1zM23 24h1v1h-1zM15 26h1v1h-1zM11 28h1v1h-1z"/>
<path fill="#f88265" d="M9 19h1v1h-1zM15 25h1v1h-1zM17 25h1v1h-1zM16 26h1v1h-1zM28 31h2v1h-2zM28 32h2v1h-2z"/>
<path fill="#fb9d80" d="M34 19h1v1h-1zM32 21h2v1h-2zM14 24h1v1h-1zM24 24h1v1h-1zM14 25h1v1h-1zM23 25h1v1h-1zM14 26h1v1h-1zM11 30h1v1h-1z"/>
<path fill="#f66e54" d="M16 25h1v1h-1z"/>
<path d="M0 23 L0 17 L1 17 L1 15 L2 15 L2 14 L3 14 L3 13 L5 13 L5 11 L6 11 L6 9 L7 9 L7 4 L8 4 L8 2 L9 2 L9 1 L16 1 L16 0 L20 0 L20 1 L21 1 L21 2 L24 2 L24 3 L25 3 L25 4 L26 4 L26 5 L27 5 L27 8 L28 8 L28 10 L30 10 L30 11 L34 11 L34 12 L35 12 L35 14 L36 14 L36 17 L35 17 L35 20 L34 20 L34 22 L33 22 L33 26 L32 26 L32 30 L30 30 L30 33 L29 33 L29 34 L28 34 L28 35 L27 35 L27 39 L26 39 L26 40 L24 40 L24 39 L22 39 L22 40 L18 40 L18 39 L16 39 L16 40 L14 40 L14 41 L12 41 L12 40 L11 40 L11 39 L10 39 L10 37 L9 37 L9 36 L8 36 L8 35 L7 35 L7 34 L6 34 L6 31 L4 31 L4 28 L3 28 L3 26 L2 26 L2 25 L1 25 L1 23 Z" fill="none" stroke="#7a7a7a" stroke-width="1.7" vector-effect="non-scaling-stroke" shape-rendering="auto"/>
</g>
<g transform="translate(887.2,120.2) scale(4.2900,4.1800)" shape-rendering="crispEdges">
<path d="M0 23 L0 17 L1 17 L1 15 L2 15 L2 14 L3 14 L3 13 L5 13 L5 11 L6 11 L6 9 L7 9 L7 4 L8 4 L8 2 L9 2 L9 1 L16 1 L16 0 L20 0 L20 1 L21 1 L21 2 L24 2 L24 3 L25 3 L25 4 L26 4 L26 5 L27 5 L27 8 L28 8 L28 10 L30 10 L30 11 L34 11 L34 12 L35 12 L35 14 L36 14 L36 17 L35 17 L35 20 L34 20 L34 22 L33 22 L33 26 L32 26 L32 30 L30 30 L30 33 L29 33 L29 34 L28 34 L28 35 L27 35 L27 39 L26 39 L26 40 L24 40 L24 39 L22 39 L22 40 L18 40 L18 39 L16 39 L16 40 L14 40 L14 41 L12 41 L12 40 L11 40 L11 39 L10 39 L10 37 L9 37 L9 36 L8 36 L8 35 L7 35 L7 34 L6 34 L6 31 L4 31 L4 28 L3 28 L3 26 L2 26 L2 25 L1 25 L1 23 Z" fill="#e3e7ee"/>
<path fill="#d4e1ef" d="M16 0h2v1h-2zM12 1h6v1h-6zM12 2h2v1h-2zM16 2h1v1h-1zM18 2h1v1h-1zM14 3h2v1h-2zM17 3h2v1h-2zM24 5h1v1h-1zM7 10h1v1h-1zM29 10h1v1h-1zM6 11h2v1h-2zM10 11h1v1h-1zM16 11h2v1h-2zM6 12h1v1h-1zM8 12h3v1h-3zM15 12h3v1h-3zM3 13h1v1h-1zM6 13h3v1h-3zM10 13h1v1h-1zM16 13h2v1h-2zM2 14h1v1h-1zM8 14h2v1h-2zM1 15h1v1h-1zM8 15h1v1h-1zM28 15h1v1h-1zM1 17h2v1h-2zM5 17h2v1h-2zM28 17h1v1h-1zM1 18h1v1h-1zM28 21h1v1h-1zM28 22h1v1h-1zM28 23h1v1h-1zM28 24h1v1h-1zM29 26h1v1h-1zM28 27h2v1h-2zM29 28h1v1h-1zM29 29h1v1h-1zM29 30h1v1h-1zM25 32h1v1h-1zM24 33h1v1h-1zM14 34h2v1h-2zM21 34h2v1h-2zM25 34h1v1h-1zM14 35h2v1h-2zM19 35h2v1h-2zM14 36h1v1h-1zM17 36h1v1h-1zM11 37h2v1h-2zM10 38h2v1h-2zM11 39h2v1h-2zM20 39h2v1h-2zM12 40h2v1h-2z"/>
<path fill="#dee6f0" d="M18 0h1v1h-1zM11 1h1v1h-1zM18 1h2v1h-2zM8 2h1v1h-1zM11 2h1v1h-1zM17 2h1v1h-1zM8 3h1v1h-1zM12 3h2v1h-2zM16 3h1v1h-1zM7 4h1v1h-1zM16 4h3v1h-3zM24 4h1v1h-1zM7 5h1v1h-1zM18 5h1v1h-1zM7 6h1v1h-1zM21 6h3v1h-3zM10 7h2v1h-2zM17 7h2v1h-2zM24 7h1v1h-1zM12 8h1v1h-1zM16 8h2v1h-2zM7 9h2v1h-2zM12 9h5v1h-5zM6 10h1v1h-1zM8 10h1v1h-1zM10 10h3v1h-3zM15 10h3v1h-3zM8 11h2v1h-2zM11 11h2v1h-2zM15 11h1v1h-1zM18 11h1v1h-1zM28 11h1v1h-1zM5 12h1v1h-1zM11 12h4v1h-4zM18 12h1v1h-1zM27 12h1v1h-1zM4 13h2v1h-2zM11 13h1v1h-1zM14 13h2v1h-2zM27 13h1v1h-1zM3 14h2v1h-2zM6 14h2v1h-2zM10 14h1v1h-1zM14 14h3v1h-3zM2 15h1v1h-1zM6 15h2v1h-2zM9 15h1v1h-1zM13 15h2v1h-2zM1 16h8v1h-8zM13 16h3v1h-3zM0 17h1v1h-1zM3 17h2v1h-2zM7 17h1v1h-1zM13 17h3v1h-3zM0 18h1v1h-1zM2 18h5v1h-5zM14 18h1v1h-1zM0 19h3v1h-3zM28 20h1v1h-1zM10 21h1v1h-1zM10 22h2v1h-2zM10 23h3v1h-3zM27 23h1v1h-1zM11 24h1v1h-1zM27 24h1v1h-1zM27 25h2v1h-2zM27 26h2v1h-2zM26 27h2v1h-2zM28 28h1v1h-1zM23 31h3v1h-3zM28 31h2v1h-2zM24 32h1v1h-1zM26 32h1v1h-1zM28 32h1v1h-1zM17 33h3v1h-3zM23 33h1v1h-1zM25 33h4v1h-4zM13 34h1v1h-1zM16 34h1v1h-1zM18 34h3v1h-3zM26 34h2v1h-2zM16 35h1v1h-1zM18 35h1v1h-1zM11 36h3v1h-3zM10 37h1v1h-1z"/>
<path fill="#ece7e9" d="M19 0h1v1h-1zM9 1h2v1h-2zM9 2h2v1h-2zM19 2h1v1h-1zM9 3h3v1h-3zM19 3h1v1h-1zM24 3h1v1h-1zM8 4h5v1h-5zM15 4h1v1h-1zM19 4h1v1h-1zM8 5h1v1h-1zM11 5h2v1h-2zM17 5h1v1h-1zM19 5h5v1h-5zM8 6h5v1h-5zM17 6h4v1h-4zM7 7h3v1h-3zM12 7h1v1h-1zM16 7h1v1h-1zM19 7h2v1h-2zM7 8h5v1h-5zM13 8h1v1h-1zM15 8h1v1h-1zM18 8h2v1h-2zM26 8h2v1h-2zM6 9h1v1h-1zM9 9h3v1h-3zM17 9h1v1h-1zM9 10h1v1h-1zM13 10h2v1h-2zM18 10h1v1h-1zM28 10h1v1h-1zM5 11h1v1h-1zM13 11h2v1h-2zM12 13h2v1h-2zM18 13h1v1h-1zM5 14h1v1h-1zM11 14h3v1h-3zM17 14h1v1h-1zM27 14h1v1h-1zM3 15h3v1h-3zM10 15h3v1h-3zM15 15h3v1h-3zM27 15h1v1h-1zM9 16h1v1h-1zM11 16h2v1h-2zM16 16h1v1h-1zM27 16h1v1h-1zM12 17h1v1h-1zM16 17h1v1h-1zM27 17h1v1h-1zM13 18h1v1h-1zM15 18h2v1h-2zM28 18h1v1h-1zM5 19h2v1h-2zM14 19h3v1h-3zM28 19h1v1h-1zM0 20h3v1h-3zM0 21h2v1h-2zM4 21h2v1h-2zM9 21h1v1h-1zM11 21h1v1h-1zM27 21h1v1h-1zM0 22h1v1h-1zM4 22h2v1h-2zM9 22h1v1h-1zM12 22h3v1h-3zM27 22h1v1h-1zM1 23h1v1h-1zM9 23h1v1h-1zM13 23h3v1h-3zM26 23h1v1h-1zM1 24h3v1h-3zM10 24h1v1h-1zM12 24h1v1h-1zM26 24h1v1h-1zM2 25h2v1h-2zM26 25h1v1h-1zM26 26h1v1h-1zM25 27h1v1h-1zM25 28h3v1h-3zM24 29h1v1h-1zM28 29h1v1h-1zM23 30h2v1h-2zM28 30h1v1h-1zM26 31h2v1h-2zM23 32h1v1h-1zM27 32h1v1h-1zM29 32h1v1h-1zM14 33h3v1h-3zM20 33h3v1h-3zM12 34h1v1h-1zM17 34h1v1h-1zM11 35h3v1h-3zM17 35h1v1h-1zM10 36h1v1h-1z"/>
<path fill="#f9e0d6" d="M20 1h1v1h-1zM20 2h2v1h-2zM20 3h1v1h-1zM13 4h2v1h-2zM20 4h2v1h-2zM9 5h2v1h-2zM13 5h1v1h-1zM16 5h1v1h-1zM16 6h1v1h-1zM13 7h1v1h-1zM15 7h1v1h-1zM21 7h3v1h-3zM14 8h1v1h-1zM20 8h1v1h-1zM25 8h1v1h-1zM18 9h2v1h-2zM27 9h1v1h-1zM19 10h1v1h-1zM27 10h1v1h-1zM19 11h1v1h-1zM27 11h1v1h-1zM18 14h1v1h-1zM18 15h1v1h-1zM10 16h1v1h-1zM17 16h2v1h-2zM11 17h1v1h-1zM17 17h1v1h-1zM7 18h1v1h-1zM12 18h1v1h-1zM17 18h1v1h-1zM3 19h2v1h-2zM12 19h2v1h-2zM17 19h1v1h-1zM3 20h5v1h-5zM11 20h6v1h-6zM27 20h1v1h-1zM2 21h2v1h-2zM6 21h3v1h-3zM12 21h3v1h-3zM1 22h3v1h-3zM6 22h3v1h-3zM15 22h1v1h-1zM26 22h1v1h-1zM2 23h7v1h-7zM4 24h1v1h-1zM7 24h3v1h-3zM13 24h1v1h-1zM4 25h1v1h-1zM3 26h1v1h-1zM25 26h1v1h-1zM25 29h1v1h-1zM25 30h1v1h-1zM22 31h1v1h-1zM17 32h6v1h-6zM13 33h1v1h-1zM11 34h1v1h-1zM10 35h1v1h-1z"/>
<path fill="#caddee" d="M14 2h2v1h-2zM24 6h1v1h-1zM25 7h2v1h-2zM7 12h1v1h-1zM28 12h1v1h-1zM34 12h1v1h-1zM9 13h1v1h-1zM28 13h1v1h-1zM28 14h1v1h-1zM35 14h1v1h-1zM28 16h1v1h-1zM35 16h1v1h-1zM29 18h1v1h-1zM34 18h1v1h-1zM29 19h1v1h-1zM34 19h1v1h-1zM29 24h1v1h-1zM29 25h1v1h-1zM23 34h2v1h-2zM21 35h1v1h-1zM15 36h2v1h-2zM18 36h1v1h-1zM13 37h1v1h-1zM12 38h2v1h-2zM13 39h2v1h-2zM19 39h1v1h-1z"/>
<path fill="#fccdb9" d="M22 2h2v1h-2zM22 4h2v1h-2zM14 6h1v1h-1zM21 8h1v1h-1zM24 8h1v1h-1zM26 10h1v1h-1zM26 11h1v1h-1zM26 12h1v1h-1zM19 13h1v1h-1zM19 14h1v1h-1zM26 14h1v1h-1zM19 15h1v1h-1zM26 15h1v1h-1zM26 16h1v1h-1zM26 17h1v1h-1zM11 18h1v1h-1zM18 18h1v1h-1zM11 19h1v1h-1zM8 20h2v1h-2zM26 20h1v1h-1zM25 22h1v1h-1zM5 25h2v1h-2zM10 25h1v1h-1zM8 27h1v1h-1zM6 28h2v1h-2zM24 28h1v1h-1zM6 29h1v1h-1zM23 29h1v1h-1zM26 29h1v1h-1zM5 30h1v1h-1zM26 30h1v1h-1zM20 31h1v1h-1zM16 32h1v1h-1zM12 33h1v1h-1zM9 35h1v1h-1z"/>
<path fill="#fbd7c7" d="M21 3h1v1h-1zM14 5h2v1h-2zM13 6h1v1h-1zM15 6h1v1h-1zM14 7h1v1h-1zM20 9h1v1h-1zM26 9h1v1h-1zM19 12h1v1h-1zM26 13h1v1h-1zM8 17h1v1h-1zM18 17h1v1h-1zM27 18h1v1h-1zM7 19h1v1h-1zM27 19h1v1h-1zM10 20h1v1h-1zM15 21h1v1h-1zM26 21h1v1h-1zM25 23h1v1h-1zM5 24h2v1h-2zM14 24h1v1h-1zM25 24h1v1h-1zM7 25h3v1h-3zM25 25h1v1h-1zM4 26h5v1h-5zM3 27h5v1h-5zM4 28h2v1h-2zM4 29h2v1h-2zM27 29h1v1h-1zM4 30h1v1h-1zM22 30h1v1h-1zM27 30h1v1h-1zM21 31h1v1h-1zM9 36h1v1h-1z"/>
<path fill="#fcbaa0" d="M22 3h2v1h-2zM21 9h1v1h-1zM20 11h1v1h-1zM9 17h1v1h-1zM19 17h1v1h-1zM25 18h1v1h-1zM24 19h1v1h-1zM24 20h1v1h-1zM16 21h1v1h-1zM15 24h1v1h-1zM9 26h1v1h-1zM6 30h1v1h-1zM21 30h1v1h-1zM15 32h1v1h-1zM11 33h1v1h-1z"/>
<path fill="#c1d9eb" d="M25 4h1v1h-1zM26 5h1v1h-1zM26 6h1v1h-1zM29 11h1v1h-1zM33 11h1v1h-1zM34 13h1v1h-1zM35 15h1v1h-1zM34 17h1v1h-1zM29 20h1v1h-1zM29 22h1v1h-1zM29 23h1v1h-1zM30 28h1v1h-1zM30 29h1v1h-1zM22 35h1v1h-1zM26 35h1v1h-1zM19 36h2v1h-2zM14 37h1v1h-1zM17 37h2v1h-2zM14 38h1v1h-1zM20 38h1v1h-1zM15 39h1v1h-1zM18 39h1v1h-1z"/>
<path fill="#b8d5e9" d="M25 5h1v1h-1zM25 6h1v1h-1zM32 11h1v1h-1zM33 12h1v1h-1zM34 14h1v1h-1zM29 17h1v1h-1zM33 18h1v1h-1zM33 19h1v1h-1zM29 21h1v1h-1zM30 27h1v1h-1zM31 29h1v1h-1zM23 35h1v1h-1zM25 35h1v1h-1zM15 37h2v1h-2zM19 37h2v1h-2zM17 38h3v1h-3zM21 38h1v1h-1zM25 39h1v1h-1z"/>
<path fill="#fcc3ab" d="M22 8h2v1h-2zM25 9h1v1h-1zM20 10h1v1h-1zM19 16h1v1h-1zM10 17h1v1h-1zM26 18h1v1h-1zM18 19h1v1h-1zM25 19h2v1h-2zM17 20h1v1h-1zM25 20h1v1h-1zM25 21h1v1h-1zM11 25h1v1h-1zM8 28h1v1h-1zM7 29h1v1h-1zM19 31h1v1h-1zM10 34h1v1h-1z"/>
<path fill="#fba68a" d="M22 9h3v1h-3zM21 10h1v1h-1zM25 12h1v1h-1zM20 13h1v1h-1zM25 13h1v1h-1zM24 17h1v1h-1zM19 18h1v1h-1zM18 20h1v1h-1zM24 21h1v1h-1zM24 22h1v1h-1zM9 27h1v1h-1zM24 27h1v1h-1zM13 32h1v1h-1zM9 34h1v1h-1z"/>
<path fill="#fa9376" d="M22 10h1v1h-1zM24 10h1v1h-1zM24 15h1v1h-1zM10 18h1v1h-1zM23 18h1v1h-1zM24 24h1v1h-1zM13 25h1v1h-1zM24 25h1v1h-1zM24 26h1v1h-1zM9 28h1v1h-1zM23 28h1v1h-1zM8 30h1v1h-1zM6 32h1v1h-1zM12 32h1v1h-1zM6 33h1v1h-1zM10 33h1v1h-1z"/>
<path fill="#f98b6d" d="M23 10h1v1h-1zM21 11h1v1h-1zM24 14h1v1h-1zM20 16h1v1h-1zM9 19h1v1h-1zM23 20h1v1h-1zM7 31h1v1h-1zM7 34h2v1h-2z"/>
<path fill="#fbb095" d="M25 10h1v1h-1zM20 12h1v1h-1zM25 14h1v1h-1zM25 15h1v1h-1zM25 16h1v1h-1zM25 17h1v1h-1zM8 18h1v1h-1zM24 18h1v1h-1zM8 19h1v1h-1zM16 22h1v1h-1zM16 23h1v1h-1zM12 25h1v1h-1zM8 29h1v1h-1zM7 30h1v1h-1zM18 31h1v1h-1zM14 32h1v1h-1zM8 35h1v1h-1z"/>
<path fill="#f66e54" d="M22 11h2v1h-2zM23 16h1v1h-1zM20 18h1v1h-1zM20 19h1v1h-1zM22 19h1v1h-1zM8 31h1v1h-1zM7 32h1v1h-1zM9 33h1v1h-1z"/>
<path fill="#f88265" d="M24 11h1v1h-1zM24 13h1v1h-1zM23 17h1v1h-1zM16 24h1v1h-1zM14 25h1v1h-1zM10 26h1v1h-1zM9 29h1v1h-1z"/>
<path fill="#fb9d80" d="M25 11h1v1h-1zM20 14h1v1h-1zM20 15h1v1h-1zM24 16h1v1h-1zM10 19h1v1h-1zM19 19h1v1h-1zM23 19h1v1h-1zM24 23h1v1h-1zM22 29h1v1h-1zM20 30h1v1h-1zM6 31h1v1h-1zM17 31h1v1h-1z"/>
<path fill="#aed0e6" d="M30 11h2v1h-2zM29 12h1v1h-1zM33 13h1v1h-1zM29 14h1v1h-1zM29 15h1v1h-1zM34 15h1v1h-1zM29 16h1v1h-1zM34 16h1v1h-1zM30 18h1v1h-1zM30 19h1v1h-1zM33 20h1v1h-1zM33 21h1v1h-1zM30 26h1v1h-1zM31 28h1v1h-1zM24 35h1v1h-1zM21 36h1v1h-1zM21 37h1v1h-1zM15 38h2v1h-2zM26 38h1v1h-1zM24 39h1v1h-1z"/>
<path fill="#f7785c" d="M21 12h1v1h-1zM24 12h1v1h-1zM20 17h1v1h-1zM9 18h1v1h-1zM19 20h1v1h-1zM17 21h1v1h-1zM19 30h1v1h-1zM16 31h1v1h-1zM11 32h1v1h-1zM7 33h1v1h-1z"/>
<path fill="#ed3f2f" d="M22 12h2v1h-2zM23 13h1v1h-1zM22 16h1v1h-1zM21 17h1v1h-1zM21 18h1v1h-1zM21 20h1v1h-1zM17 22h1v1h-1zM12 26h1v1h-1zM10 27h1v1h-1zM12 31h1v1h-1z"/>
<path fill="#98c6e0" d="M30 12h2v1h-2zM33 14h1v1h-1zM33 16h1v1h-1zM31 18h2v1h-2zM32 19h1v1h-1zM30 20h1v1h-1zM30 22h1v1h-1zM32 22h1v1h-1zM31 23h1v1h-1zM22 37h1v1h-1zM26 37h1v1h-1zM25 38h1v1h-1z"/>
<path fill="#a3cbe3" d="M32 12h1v1h-1zM29 13h1v1h-1zM30 17h1v1h-1zM33 17h1v1h-1zM30 23h1v1h-1zM32 23h1v1h-1zM30 24h1v1h-1zM30 25h1v1h-1zM31 27h1v1h-1zM22 36h1v1h-1zM26 36h1v1h-1zM22 38h1v1h-1z"/>
<path fill="#f4634c" d="M21 13h1v1h-1zM23 15h1v1h-1zM23 21h1v1h-1zM21 29h1v1h-1zM9 30h1v1h-1zM15 31h1v1h-1zM10 32h1v1h-1zM8 33h1v1h-1z"/>
<path fill="#e43328" d="M22 13h1v1h-1zM22 14h1v1h-1zM22 15h1v1h-1zM23 22h1v1h-1zM17 23h1v1h-1zM23 23h1v1h-1zM17 24h1v1h-1zM10 28h1v1h-1zM22 28h1v1h-1zM10 31h1v1h-1z"/>
<path fill="#8abfdb" d="M30 13h1v1h-1zM32 13h1v1h-1zM30 14h1v1h-1zM30 15h1v1h-1zM33 15h1v1h-1zM30 16h1v1h-1zM31 17h2v1h-2zM31 19h1v1h-1zM30 21h1v1h-1zM32 21h1v1h-1zM31 22h1v1h-1zM32 24h1v1h-1zM31 26h1v1h-1zM23 36h1v1h-1zM25 36h1v1h-1z"/>
<path fill="#7ab5d7" d="M31 13h1v1h-1zM32 14h1v1h-1zM31 15h2v1h-2zM31 16h2v1h-2zM32 20h1v1h-1zM31 24h1v1h-1zM24 36h1v1h-1zM25 37h1v1h-1zM23 38h2v1h-2z"/>
<path fill="#f04d3a" d="M21 14h1v1h-1zM23 14h1v1h-1zM21 15h1v1h-1zM21 16h1v1h-1zM22 17h1v1h-1zM20 20h1v1h-1zM18 21h1v1h-1zM15 25h1v1h-1zM18 30h1v1h-1zM9 31h1v1h-1zM13 31h1v1h-1zM8 32h2v1h-2z"/>
<path fill="#6aabd2" d="M31 14h1v1h-1zM31 20h1v1h-1zM31 21h1v1h-1zM32 25h1v1h-1zM23 37h2v1h-2z"/>
<path fill="#f25843" d="M22 18h1v1h-1zM21 19h1v1h-1zM22 20h1v1h-1zM11 26h1v1h-1zM14 31h1v1h-1z"/>
<path fill="#d82623" d="M19 21h1v1h-1zM22 21h1v1h-1zM23 27h1v1h-1zM10 29h1v1h-1zM20 29h1v1h-1zM10 30h1v1h-1zM17 30h1v1h-1zM11 31h1v1h-1z"/>
<path fill="#bc161a" d="M20 21h2v1h-2zM23 25h1v1h-1zM23 26h1v1h-1zM14 30h1v1h-1z"/>
<path fill="#980c13" d="M18 22h1v1h-1zM22 22h1v1h-1zM22 23h1v1h-1zM21 28h1v1h-1zM14 29h1v1h-1zM12 30h1v1h-1z"/>
<path fill="#7f0610" d="M19 22h3v1h-3zM18 23h1v1h-1zM21 23h1v1h-1zM18 24h1v1h-1zM21 24h2v1h-2zM18 25h1v1h-1zM15 26h4v1h-4zM11 27h1v1h-1zM15 28h1v1h-1zM11 29h1v1h-1zM13 29h1v1h-1zM15 29h1v1h-1zM18 29h1v1h-1z"/>
<path fill="#67000d" d="M19 23h2v1h-2zM19 24h2v1h-2zM19 25h4v1h-4zM19 26h4v1h-4zM12 27h11v1h-11zM11 28h4v1h-4zM16 28h5v1h-5zM12 29h1v1h-1zM16 29h2v1h-2z"/>
<path fill="#cb1b1e" d="M23 24h1v1h-1zM16 25h1v1h-1zM13 26h1v1h-1z"/>
<path fill="#ac1117" d="M17 25h1v1h-1zM14 26h1v1h-1zM19 29h1v1h-1zM11 30h1v1h-1zM13 30h1v1h-1zM15 30h2v1h-2z"/>
<path fill="#5aa1cd" d="M31 25h1v1h-1z"/>
<path d="M0 23 L0 17 L1 17 L1 15 L2 15 L2 14 L3 14 L3 13 L5 13 L5 11 L6 11 L6 9 L7 9 L7 4 L8 4 L8 2 L9 2 L9 1 L16 1 L16 0 L20 0 L20 1 L21 1 L21 2 L24 2 L24 3 L25 3 L25 4 L26 4 L26 5 L27 5 L27 8 L28 8 L28 10 L30 10 L30 11 L34 11 L34 12 L35 12 L35 14 L36 14 L36 17 L35 17 L35 20 L34 20 L34 22 L33 22 L33 26 L32 26 L32 30 L30 30 L30 33 L29 33 L29 34 L28 34 L28 35 L27 35 L27 39 L26 39 L26 40 L24 40 L24 39 L22 39 L22 40 L18 40 L18 39 L16 39 L16 40 L14 40 L14 41 L12 41 L12 40 L11 40 L11 39 L10 39 L10 37 L9 37 L9 36 L8 36 L8 35 L7 35 L7 34 L6 34 L6 31 L4 31 L4 28 L3 28 L3 26 L2 26 L2 25 L1 25 L1 23 Z" fill="none" stroke="#7a7a7a" stroke-width="1.7" vector-effect="non-scaling-stroke" shape-rendering="auto"/>
</g>
<g transform="translate(851.6,538.5) scale(4.4600,4.4300)" shape-rendering="crispEdges">
<path d="M0 23 L0 17 L1 17 L1 15 L2 15 L2 14 L3 14 L3 13 L5 13 L5 11 L6 11 L6 9 L7 9 L7 4 L8 4 L8 2 L9 2 L9 1 L16 1 L16 0 L20 0 L20 1 L21 1 L21 2 L24 2 L24 3 L25 3 L25 4 L26 4 L26 5 L27 5 L27 8 L28 8 L28 10 L30 10 L30 11 L34 11 L34 12 L35 12 L35 14 L36 14 L36 17 L35 17 L35 20 L34 20 L34 22 L33 22 L33 26 L32 26 L32 30 L30 30 L30 33 L29 33 L29 34 L28 34 L28 35 L27 35 L27 39 L26 39 L26 40 L24 40 L24 39 L22 39 L22 40 L18 40 L18 39 L16 39 L16 40 L14 40 L14 41 L12 41 L12 40 L11 40 L11 39 L10 39 L10 37 L9 37 L9 36 L8 36 L8 35 L7 35 L7 34 L6 34 L6 31 L4 31 L4 28 L3 28 L3 26 L2 26 L2 25 L1 25 L1 23 Z" fill="#e3e7ee"/>
<path fill="#dee6f0" d="M16 0h2v1h-2zM15 1h3v1h-3zM16 2h3v1h-3zM17 3h2v1h-2zM18 4h1v1h-1zM19 5h1v1h-1zM16 6h5v1h-5zM14 7h1v1h-1zM17 8h1v1h-1zM10 9h4v1h-4zM17 9h1v1h-1zM9 10h1v1h-1zM12 10h1v1h-1zM28 10h1v1h-1zM9 11h1v1h-1zM6 12h4v1h-4zM14 12h2v1h-2zM3 13h1v1h-1zM6 13h1v1h-1zM8 13h2v1h-2zM12 13h2v1h-2zM4 14h2v1h-2zM12 14h2v1h-2zM17 14h1v1h-1zM1 15h1v1h-1zM4 15h2v1h-2zM12 15h2v1h-2zM17 15h1v1h-1zM27 15h1v1h-1zM1 16h1v1h-1zM3 16h1v1h-1zM5 16h1v1h-1zM11 16h2v1h-2zM16 16h1v1h-1zM1 17h1v1h-1zM4 17h2v1h-2zM12 17h1v1h-1zM16 17h1v1h-1zM0 18h1v1h-1zM12 18h1v1h-1zM12 19h1v1h-1zM28 19h1v1h-1zM12 20h3v1h-3zM12 21h4v1h-4zM7 22h1v1h-1zM12 22h2v1h-2zM15 22h1v1h-1zM29 22h1v1h-1zM7 23h2v1h-2zM13 23h2v1h-2zM7 24h1v1h-1zM28 25h2v1h-2zM27 26h3v1h-3zM28 27h2v1h-2zM25 28h2v1h-2zM28 28h2v1h-2zM22 29h1v1h-1zM25 29h5v1h-5zM21 30h1v1h-1zM25 30h5v1h-5zM20 31h2v1h-2zM26 31h2v1h-2zM29 31h1v1h-1zM18 32h2v1h-2zM26 32h1v1h-1zM29 32h1v1h-1zM14 33h2v1h-2zM26 33h1v1h-1z"/>
<path fill="#ece7e9" d="M18 0h1v1h-1zM18 1h3v1h-3zM19 2h2v1h-2zM19 3h1v1h-1zM19 4h1v1h-1zM20 5h2v1h-2zM21 6h1v1h-1zM15 7h6v1h-6zM14 8h3v1h-3zM18 8h2v1h-2zM16 9h1v1h-1zM18 9h1v1h-1zM10 10h2v1h-2zM13 10h2v1h-2zM16 10h4v1h-4zM10 11h6v1h-6zM17 11h3v1h-3zM10 12h4v1h-4zM16 12h3v1h-3zM7 13h1v1h-1zM10 13h2v1h-2zM17 13h1v1h-1zM2 14h2v1h-2zM6 14h6v1h-6zM27 14h1v1h-1zM2 15h2v1h-2zM6 15h1v1h-1zM10 15h2v1h-2zM2 16h1v1h-1zM10 16h1v1h-1zM26 16h1v1h-1zM2 17h2v1h-2zM11 17h1v1h-1zM27 17h1v1h-1zM1 18h1v1h-1zM5 18h1v1h-1zM11 18h1v1h-1zM5 19h1v1h-1zM11 19h1v1h-1zM5 20h1v1h-1zM10 20h2v1h-2zM16 20h1v1h-1zM28 20h1v1h-1zM4 21h3v1h-3zM9 21h1v1h-1zM11 21h1v1h-1zM6 22h1v1h-1zM8 22h2v1h-2zM11 22h1v1h-1zM6 23h1v1h-1zM9 23h1v1h-1zM11 23h2v1h-2zM15 23h1v1h-1zM5 24h2v1h-2zM8 24h1v1h-1zM28 24h1v1h-1zM5 25h4v1h-4zM27 25h1v1h-1zM26 26h1v1h-1zM26 27h2v1h-2zM27 28h1v1h-1zM19 31h1v1h-1zM28 31h1v1h-1zM16 32h2v1h-2zM27 32h2v1h-2zM12 33h2v1h-2zM27 33h2v1h-2zM9 34h1v1h-1zM8 35h1v1h-1z"/>
<path fill="#f9e0d6" d="M19 0h1v1h-1zM21 2h1v1h-1zM20 3h2v1h-2zM20 4h2v1h-2zM25 4h1v1h-1zM22 5h1v1h-1zM25 5h2v1h-2zM22 6h1v1h-1zM26 6h1v1h-1zM21 7h1v1h-1zM20 8h1v1h-1zM14 9h2v1h-2zM19 9h1v1h-1zM15 10h1v1h-1zM27 10h1v1h-1zM16 11h1v1h-1zM27 11h1v1h-1zM19 12h1v1h-1zM27 12h1v1h-1zM18 13h1v1h-1zM27 13h1v1h-1zM18 14h1v1h-1zM26 14h1v1h-1zM9 15h1v1h-1zM26 15h1v1h-1zM6 16h1v1h-1zM17 16h1v1h-1zM10 17h1v1h-1zM4 18h1v1h-1zM10 18h1v1h-1zM17 18h1v1h-1zM0 19h2v1h-2zM4 19h1v1h-1zM10 19h1v1h-1zM17 19h1v1h-1zM0 20h2v1h-2zM4 20h1v1h-1zM6 20h1v1h-1zM0 21h1v1h-1zM3 21h1v1h-1zM7 21h2v1h-2zM10 21h1v1h-1zM0 22h1v1h-1zM3 22h3v1h-3zM10 22h1v1h-1zM5 23h1v1h-1zM10 23h1v1h-1zM28 23h1v1h-1zM9 24h4v1h-4zM9 25h1v1h-1zM5 26h4v1h-4zM3 27h4v1h-4zM25 27h1v1h-1zM24 28h1v1h-1zM11 33h1v1h-1z"/>
<path fill="#8abfdb" d="M9 1h3v1h-3zM12 2h1v1h-1zM10 6h1v1h-1zM9 7h1v1h-1zM8 9h1v1h-1zM31 11h1v1h-1zM30 12h1v1h-1zM35 14h1v1h-1zM29 15h1v1h-1zM30 17h1v1h-1zM31 18h1v1h-1zM32 19h1v1h-1zM32 20h1v1h-1z"/>
<path fill="#a3cbe3" d="M12 1h1v1h-1zM13 2h1v1h-1zM13 4h1v1h-1zM29 13h1v1h-1zM29 17h1v1h-1zM30 18h1v1h-1zM33 20h1v1h-1zM33 21h1v1h-1zM12 36h1v1h-1zM15 36h4v1h-4zM20 36h1v1h-1zM11 37h1v1h-1zM16 37h1v1h-1zM20 37h3v1h-3zM12 38h6v1h-6zM19 38h1v1h-1zM21 38h2v1h-2z"/>
<path fill="#b8d5e9" d="M13 1h1v1h-1zM14 3h1v1h-1zM14 4h1v1h-1zM14 5h1v1h-1zM11 7h1v1h-1zM8 10h1v1h-1zM29 11h1v1h-1zM28 15h1v1h-1zM28 16h1v1h-1zM29 18h1v1h-1zM30 20h1v1h-1zM30 24h1v1h-1zM31 27h1v1h-1zM15 35h1v1h-1zM17 35h2v1h-2zM21 35h2v1h-2zM23 36h2v1h-2zM25 38h1v1h-1zM11 39h3v1h-3zM15 39h1v1h-1zM19 39h2v1h-2zM24 39h1v1h-1z"/>
<path fill="#caddee" d="M14 1h1v1h-1zM15 3h1v1h-1zM15 5h1v1h-1zM14 6h1v1h-1zM13 7h1v1h-1zM10 8h2v1h-2zM9 9h1v1h-1zM29 10h1v1h-1zM6 11h2v1h-2zM28 11h1v1h-1zM28 12h1v1h-1zM28 13h1v1h-1zM15 14h2v1h-2zM14 15h1v1h-1zM16 15h1v1h-1zM14 16h2v1h-2zM14 17h2v1h-2zM14 19h2v1h-2zM30 25h1v1h-1zM30 27h1v1h-1zM30 28h1v1h-1zM31 29h1v1h-1zM22 30h1v1h-1zM20 33h4v1h-4zM13 34h3v1h-3zM23 34h1v1h-1zM26 34h1v1h-1zM24 35h2v1h-2zM12 40h1v1h-1z"/>
<path fill="#418fc4" d="M8 2h1v1h-1zM10 3h1v1h-1zM10 4h1v1h-1zM7 5h2v1h-2zM7 6h2v1h-2zM7 9h1v1h-1zM32 12h1v1h-1z"/>
<path fill="#4a98c9" d="M9 2h1v1h-1zM11 4h1v1h-1zM9 5h1v1h-1zM8 7h1v1h-1zM33 12h1v1h-1zM34 13h1v1h-1zM30 14h1v1h-1zM30 15h1v1h-1zM32 17h2v1h-2zM32 23h1v1h-1zM32 24h1v1h-1z"/>
<path fill="#5aa1cd" d="M10 2h1v1h-1zM11 3h1v1h-1zM10 5h1v1h-1zM31 12h1v1h-1zM34 16h1v1h-1zM31 17h1v1h-1zM32 22h1v1h-1zM31 23h1v1h-1z"/>
<path fill="#6aabd2" d="M11 2h1v1h-1zM11 5h1v1h-1zM9 6h1v1h-1zM8 8h1v1h-1zM30 13h1v1h-1zM30 16h1v1h-1zM32 18h1v1h-1zM32 21h1v1h-1zM31 22h1v1h-1z"/>
<path fill="#c1d9eb" d="M14 2h1v1h-1zM15 4h1v1h-1zM13 6h1v1h-1zM12 7h1v1h-1zM28 14h1v1h-1zM15 15h1v1h-1zM28 17h1v1h-1zM14 18h2v1h-2zM29 19h1v1h-1zM34 19h1v1h-1zM31 28h1v1h-1zM11 34h2v1h-2zM16 34h7v1h-7zM10 35h1v1h-1zM23 35h1v1h-1zM26 35h1v1h-1zM10 36h1v1h-1zM25 36h2v1h-2zM10 37h1v1h-1zM26 37h1v1h-1zM10 38h1v1h-1zM26 38h1v1h-1zM14 39h1v1h-1zM25 39h1v1h-1z"/>
<path fill="#d4e1ef" d="M15 2h1v1h-1zM16 3h1v1h-1zM16 4h2v1h-2zM16 5h3v1h-3zM15 6h1v1h-1zM12 8h2v1h-2zM5 11h1v1h-1zM8 11h1v1h-1zM5 12h1v1h-1zM4 13h2v1h-2zM14 13h3v1h-3zM14 14h1v1h-1zM4 16h1v1h-1zM13 16h1v1h-1zM27 16h1v1h-1zM0 17h1v1h-1zM13 17h1v1h-1zM13 18h1v1h-1zM16 18h1v1h-1zM28 18h1v1h-1zM13 19h1v1h-1zM16 19h1v1h-1zM15 20h1v1h-1zM29 20h1v1h-1zM29 21h1v1h-1zM14 22h1v1h-1zM29 23h1v1h-1zM29 24h1v1h-1zM30 26h1v1h-1zM23 29h2v1h-2zM30 29h1v1h-1zM23 30h2v1h-2zM22 31h4v1h-4zM20 32h6v1h-6zM16 33h4v1h-4zM24 33h2v1h-2zM10 34h1v1h-1zM24 34h2v1h-2zM27 34h1v1h-1zM9 35h1v1h-1zM9 36h1v1h-1zM13 40h1v1h-1z"/>
<path fill="#fccdb9" d="M22 2h2v1h-2zM22 3h1v1h-1zM24 3h1v1h-1zM23 4h2v1h-2zM23 6h2v1h-2zM26 7h1v1h-1zM21 8h1v1h-1zM20 12h1v1h-1zM26 12h1v1h-1zM19 13h1v1h-1zM19 14h1v1h-1zM25 15h1v1h-1zM18 16h1v1h-1zM25 16h1v1h-1zM25 17h1v1h-1zM6 18h1v1h-1zM27 19h1v1h-1zM7 20h2v1h-2zM16 21h1v1h-1zM2 23h1v1h-1zM2 24h2v1h-2zM14 24h1v1h-1zM3 25h1v1h-1zM6 28h1v1h-1zM23 28h1v1h-1zM4 29h1v1h-1zM10 33h1v1h-1zM7 34h1v1h-1z"/>
<path fill="#2f7ebc" d="M8 3h1v1h-1z"/>
<path fill="#3887c0" d="M9 3h1v1h-1zM7 4h3v1h-3zM7 7h1v1h-1zM7 8h1v1h-1zM31 13h1v1h-1zM34 14h1v1h-1zM34 15h1v1h-1zM31 16h1v1h-1z"/>
<path fill="#7ab5d7" d="M12 3h1v1h-1zM12 4h1v1h-1zM6 9h1v1h-1zM32 11h2v1h-2zM34 12h1v1h-1zM33 18h1v1h-1zM31 21h1v1h-1zM31 24h1v1h-1zM32 25h1v1h-1z"/>
<path fill="#98c6e0" d="M13 3h1v1h-1zM12 5h1v1h-1zM11 6h1v1h-1zM7 10h1v1h-1zM30 11h1v1h-1zM29 14h1v1h-1zM35 15h1v1h-1zM29 16h1v1h-1zM34 17h1v1h-1zM31 19h1v1h-1zM33 19h1v1h-1zM31 20h1v1h-1zM31 25h1v1h-1zM13 36h2v1h-2zM19 36h1v1h-1zM12 37h4v1h-4zM17 37h3v1h-3zM18 38h1v1h-1z"/>
<path fill="#fcc3ab" d="M23 3h1v1h-1zM22 7h1v1h-1zM25 7h1v1h-1zM26 8h1v1h-1zM26 9h1v1h-1zM26 10h1v1h-1zM26 11h1v1h-1zM25 14h1v1h-1zM19 15h1v1h-1zM7 16h1v1h-1zM18 17h1v1h-1zM18 18h1v1h-1zM25 18h2v1h-2zM9 19h1v1h-1zM18 19h1v1h-1zM17 20h1v1h-1zM27 20h1v1h-1zM11 25h1v1h-1zM25 25h1v1h-1zM4 30h1v1h-1zM17 31h1v1h-1zM14 32h1v1h-1zM6 33h1v1h-1zM9 33h1v1h-1z"/>
<path fill="#fbd7c7" d="M22 4h1v1h-1zM23 5h2v1h-2zM25 6h1v1h-1zM27 8h1v1h-1zM20 9h1v1h-1zM27 9h1v1h-1zM20 10h1v1h-1zM20 11h1v1h-1zM26 13h1v1h-1zM7 15h2v1h-2zM18 15h1v1h-1zM9 16h1v1h-1zM6 17h1v1h-1zM17 17h1v1h-1zM26 17h1v1h-1zM2 18h2v1h-2zM27 18h1v1h-1zM2 19h2v1h-2zM6 19h1v1h-1zM2 20h2v1h-2zM9 20h1v1h-1zM1 21h2v1h-2zM28 21h1v1h-1zM1 22h2v1h-2zM28 22h1v1h-1zM1 23h1v1h-1zM3 23h2v1h-2zM1 24h1v1h-1zM4 24h1v1h-1zM13 24h1v1h-1zM27 24h1v1h-1zM2 25h1v1h-1zM4 25h1v1h-1zM10 25h1v1h-1zM26 25h1v1h-1zM3 26h2v1h-2zM25 26h1v1h-1zM7 27h1v1h-1zM4 28h2v1h-2zM21 29h1v1h-1zM20 30h1v1h-1zM18 31h1v1h-1zM15 32h1v1h-1zM8 34h1v1h-1z"/>
<path fill="#aed0e6" d="M13 5h1v1h-1zM12 6h1v1h-1zM10 7h1v1h-1zM9 8h1v1h-1zM6 10h1v1h-1zM29 12h1v1h-1zM35 16h1v1h-1zM34 18h1v1h-1zM30 19h1v1h-1zM30 21h1v1h-1zM30 22h1v1h-1zM30 23h1v1h-1zM31 26h1v1h-1zM11 35h4v1h-4zM16 35h1v1h-1zM19 35h2v1h-2zM11 36h1v1h-1zM21 36h2v1h-2zM23 37h3v1h-3zM11 38h1v1h-1zM20 38h1v1h-1zM23 38h2v1h-2zM18 39h1v1h-1zM21 39h1v1h-1z"/>
<path fill="#fcbaa0" d="M23 7h2v1h-2zM20 13h1v1h-1zM25 13h1v1h-1zM8 16h1v1h-1zM9 17h1v1h-1zM24 18h1v1h-1zM24 19h1v1h-1zM27 21h1v1h-1zM16 22h1v1h-1zM26 24h1v1h-1zM8 27h1v1h-1zM7 28h1v1h-1zM5 29h1v1h-1zM19 30h1v1h-1z"/>
<path fill="#fba68a" d="M22 8h1v1h-1zM25 9h1v1h-1zM21 10h1v1h-1zM25 10h1v1h-1zM25 11h1v1h-1zM7 17h1v1h-1zM19 18h1v1h-1zM8 19h1v1h-1zM25 20h1v1h-1zM27 22h1v1h-1zM22 28h1v1h-1zM6 29h1v1h-1zM5 30h1v1h-1zM16 31h1v1h-1zM6 32h1v1h-1z"/>
<path fill="#fa9376" d="M23 8h1v1h-1zM24 15h1v1h-1zM20 16h1v1h-1zM8 17h1v1h-1zM18 20h1v1h-1zM25 21h2v1h-2zM25 23h1v1h-1zM24 24h1v1h-1zM8 28h1v1h-1zM20 29h1v1h-1zM18 30h1v1h-1z"/>
<path fill="#fb9d80" d="M24 8h1v1h-1zM21 11h1v1h-1zM20 15h1v1h-1zM24 16h1v1h-1zM7 18h1v1h-1zM19 19h1v1h-1zM26 20h1v1h-1zM24 21h1v1h-1zM24 22h1v1h-1zM24 23h1v1h-1zM13 25h1v1h-1zM12 32h1v1h-1z"/>
<path fill="#fbb095" d="M25 8h1v1h-1zM21 9h1v1h-1zM25 12h1v1h-1zM20 14h1v1h-1zM19 16h1v1h-1zM19 17h1v1h-1zM24 17h1v1h-1zM9 18h1v1h-1zM7 19h1v1h-1zM25 19h2v1h-2zM24 20h1v1h-1zM16 23h1v1h-1zM27 23h1v1h-1zM15 24h1v1h-1zM25 24h1v1h-1zM12 25h1v1h-1zM9 26h1v1h-1zM24 27h1v1h-1zM13 32h1v1h-1zM7 33h2v1h-2z"/>
<path fill="#f88265" d="M22 9h1v1h-1zM24 9h1v1h-1zM24 13h1v1h-1zM23 18h1v1h-1zM23 20h1v1h-1zM10 32h1v1h-1z"/>
<path fill="#f66e54" d="M23 9h1v1h-1zM22 10h1v1h-1zM24 10h1v1h-1zM24 11h1v1h-1zM24 12h1v1h-1zM21 14h1v1h-1zM20 19h1v1h-1zM16 24h1v1h-1zM11 26h1v1h-1zM8 29h1v1h-1zM7 30h1v1h-1zM7 31h1v1h-1z"/>
<path fill="#f25843" d="M23 10h1v1h-1zM22 11h1v1h-1zM21 16h1v1h-1zM23 16h1v1h-1zM21 17h1v1h-1zM20 20h1v1h-1zM23 21h1v1h-1zM23 27h1v1h-1zM19 29h1v1h-1zM17 30h1v1h-1zM14 31h1v1h-1z"/>
<path fill="#ed3f2f" d="M23 11h1v1h-1zM23 12h1v1h-1zM22 14h1v1h-1zM22 16h1v1h-1zM22 17h1v1h-1zM21 19h1v1h-1zM21 20h1v1h-1zM17 23h1v1h-1zM23 23h1v1h-1zM15 25h1v1h-1zM9 28h1v1h-1zM13 31h1v1h-1z"/>
<path fill="#f98b6d" d="M21 12h1v1h-1zM24 14h1v1h-1zM20 17h1v1h-1zM8 18h1v1h-1zM23 19h1v1h-1zM25 22h1v1h-1zM24 25h1v1h-1zM10 26h1v1h-1zM24 26h1v1h-1zM7 29h1v1h-1zM6 30h1v1h-1zM6 31h1v1h-1zM7 32h3v1h-3zM11 32h1v1h-1z"/>
<path fill="#f04d3a" d="M22 12h1v1h-1zM22 13h2v1h-2zM23 14h1v1h-1zM23 15h1v1h-1zM21 18h2v1h-2zM22 19h1v1h-1zM22 20h1v1h-1zM17 22h1v1h-1zM23 22h1v1h-1zM26 22h1v1h-1zM12 26h1v1h-1zM8 30h1v1h-1zM9 31h1v1h-1z"/>
<path fill="#f7785c" d="M21 13h1v1h-1zM23 17h1v1h-1zM20 18h1v1h-1zM19 20h1v1h-1zM17 21h1v1h-1zM14 25h1v1h-1zM15 31h1v1h-1z"/>
<path fill="#2474b7" d="M32 13h2v1h-2zM31 14h1v1h-1zM31 15h1v1h-1zM32 16h2v1h-2z"/>
<path fill="#145da4" d="M32 14h2v1h-2zM32 15h2v1h-2z"/>
<path fill="#f4634c" d="M21 15h1v1h-1zM26 23h1v1h-1zM9 27h1v1h-1zM21 28h1v1h-1zM8 31h1v1h-1z"/>
<path fill="#e43328" d="M22 15h1v1h-1zM18 21h1v1h-1zM13 26h1v1h-1zM9 29h1v1h-1z"/>
<path fill="#cb1b1e" d="M19 21h1v1h-1zM22 21h1v1h-1zM20 28h1v1h-1zM18 29h1v1h-1zM10 31h1v1h-1z"/>
<path fill="#d82623" d="M20 21h2v1h-2zM17 24h1v1h-1zM23 24h1v1h-1zM9 30h1v1h-1zM16 30h1v1h-1zM12 31h1v1h-1z"/>
<path fill="#7f0610" d="M18 22h3v1h-3zM18 23h1v1h-1zM17 25h1v1h-1zM10 28h1v1h-1zM12 28h1v1h-1zM18 28h1v1h-1zM17 29h1v1h-1zM13 30h2v1h-2z"/>
<path fill="#980c13" d="M21 22h1v1h-1zM22 23h1v1h-1zM15 26h1v1h-1zM23 26h1v1h-1zM12 27h1v1h-1zM19 28h1v1h-1zM10 29h1v1h-1zM10 30h1v1h-1zM15 30h1v1h-1z"/>
<path fill="#ac1117" d="M22 22h1v1h-1zM11 27h1v1h-1z"/>
<path fill="#67000d" d="M19 23h3v1h-3zM18 24h5v1h-5zM18 25h5v1h-5zM16 26h7v1h-7zM13 27h9v1h-9zM11 28h1v1h-1zM13 28h5v1h-5zM11 29h6v1h-6zM11 30h2v1h-2z"/>
<path fill="#bc161a" d="M16 25h1v1h-1zM23 25h1v1h-1zM14 26h1v1h-1zM10 27h1v1h-1zM22 27h1v1h-1zM11 31h1v1h-1z"/>
<path d="M0 23 L0 17 L1 17 L1 15 L2 15 L2 14 L3 14 L3 13 L5 13 L5 11 L6 11 L6 9 L7 9 L7 4 L8 4 L8 2 L9 2 L9 1 L16 1 L16 0 L20 0 L20 1 L21 1 L21 2 L24 2 L24 3 L25 3 L25 4 L26 4 L26 5 L27 5 L27 8 L28 8 L28 10 L30 10 L30 11 L34 11 L34 12 L35 12 L35 14 L36 14 L36 17 L35 17 L35 20 L34 20 L34 22 L33 22 L33 26 L32 26 L32 30 L30 30 L30 33 L29 33 L29 34 L28 34 L28 35 L27 35 L27 39 L26 39 L26 40 L24 40 L24 39 L22 39 L22 40 L18 40 L18 39 L16 39 L16 40 L14 40 L14 41 L12 41 L12 40 L11 40 L11 39 L10 39 L10 37 L9 37 L9 36 L8 36 L8 35 L7 35 L7 34 L6 34 L6 31 L4 31 L4 28 L3 28 L3 26 L2 26 L2 25 L1 25 L1 23 Z" fill="none" stroke="#7a7a7a" stroke-width="1.7" vector-effect="non-scaling-stroke" shape-rendering="auto"/>
</g>
<g transform="translate(622.6,625.7) scale(4.1300,4.1100)" shape-rendering="crispEdges">
<path d="M0 23 L0 17 L1 17 L1 15 L2 15 L2 14 L3 14 L3 13 L5 13 L5 11 L6 11 L6 9 L7 9 L7 4 L8 4 L8 2 L9 2 L9 1 L16 1 L16 0 L20 0 L20 1 L21 1 L21 2 L24 2 L24 3 L25 3 L25 4 L26 4 L26 5 L27 5 L27 8 L28 8 L28 10 L30 10 L30 11 L34 11 L34 12 L35 12 L35 14 L36 14 L36 17 L35 17 L35 20 L34 20 L34 22 L33 22 L33 26 L32 26 L32 30 L30 30 L30 33 L29 33 L29 34 L28 34 L28 35 L27 35 L27 39 L26 39 L26 40 L24 40 L24 39 L22 39 L22 40 L18 40 L18 39 L16 39 L16 40 L14 40 L14 41 L12 41 L12 40 L11 40 L11 39 L10 39 L10 37 L9 37 L9 36 L8 36 L8 35 L7 35 L7 34 L6 34 L6 31 L4 31 L4 28 L3 28 L3 26 L2 26 L2 25 L1 25 L1 23 Z" fill="#e3e7ee"/>
<path fill="#dee6f0" d="M16 0h1v1h-1zM17 1h4v1h-4zM20 3h1v1h-1zM24 3h1v1h-1zM18 4h2v1h-2zM24 4h1v1h-1zM18 5h1v1h-1zM26 5h1v1h-1zM18 6h1v1h-1zM18 7h1v1h-1zM10 8h5v1h-5zM17 8h1v1h-1zM11 9h1v1h-1zM14 9h1v1h-1zM17 9h1v1h-1zM5 11h1v1h-1zM14 11h3v1h-3zM12 12h4v1h-4zM3 13h3v1h-3zM15 13h2v1h-2zM26 13h1v1h-1zM4 14h2v1h-2zM16 14h2v1h-2zM26 14h1v1h-1zM1 15h1v1h-1zM3 15h1v1h-1zM6 15h1v1h-1zM9 15h1v1h-1zM15 15h1v1h-1zM17 15h1v1h-1zM26 15h1v1h-1zM1 16h1v1h-1zM3 16h1v1h-1zM10 16h1v1h-1zM14 16h2v1h-2zM18 16h1v1h-1zM26 16h1v1h-1zM0 17h1v1h-1zM3 17h3v1h-3zM11 17h1v1h-1zM13 17h1v1h-1zM18 17h1v1h-1zM26 17h1v1h-1zM0 18h1v1h-1zM2 18h1v1h-1zM5 18h1v1h-1zM11 18h2v1h-2zM16 18h2v1h-2zM0 19h2v1h-2zM6 19h1v1h-1zM14 19h3v1h-3zM0 20h3v1h-3zM4 20h1v1h-1zM7 20h1v1h-1zM15 20h1v1h-1zM0 21h4v1h-4zM8 21h2v1h-2zM15 21h1v1h-1zM27 21h1v1h-1zM0 22h1v1h-1zM29 22h1v1h-1zM6 23h1v1h-1zM11 23h2v1h-2zM1 24h5v1h-5zM29 24h1v1h-1zM2 25h3v1h-3zM3 26h1v1h-1zM3 27h1v1h-1zM5 27h1v1h-1zM30 27h1v1h-1zM22 28h1v1h-1zM21 29h4v1h-4zM24 30h1v1h-1zM21 31h1v1h-1zM23 31h2v1h-2zM6 32h2v1h-2zM15 32h3v1h-3zM21 32h2v1h-2zM26 32h2v1h-2zM6 33h1v1h-1zM8 33h3v1h-3zM14 33h2v1h-2zM21 33h2v1h-2zM25 33h2v1h-2zM28 33h1v1h-1zM7 34h2v1h-2zM11 34h2v1h-2zM23 34h2v1h-2zM8 35h1v1h-1zM11 39h1v1h-1zM13 40h1v1h-1z"/>
<path fill="#ece7e9" d="M17 0h3v1h-3zM21 2h1v1h-1zM23 2h1v1h-1zM23 3h1v1h-1zM20 4h1v1h-1zM25 4h1v1h-1zM19 5h2v1h-2zM24 5h2v1h-2zM19 6h3v1h-3zM24 6h3v1h-3zM19 7h1v1h-1zM21 7h1v1h-1zM24 7h2v1h-2zM18 8h1v1h-1zM26 8h2v1h-2zM12 9h2v1h-2zM26 9h1v1h-1zM12 10h1v1h-1zM14 10h1v1h-1zM17 10h1v1h-1zM28 10h1v1h-1zM12 11h2v1h-2zM5 12h1v1h-1zM16 12h1v1h-1zM26 12h1v1h-1zM17 13h1v1h-1zM18 14h1v1h-1zM25 14h1v1h-1zM4 15h2v1h-2zM18 15h1v1h-1zM25 15h1v1h-1zM4 16h6v1h-6zM25 16h1v1h-1zM6 17h1v1h-1zM10 17h1v1h-1zM15 17h1v1h-1zM3 18h2v1h-2zM6 18h1v1h-1zM13 18h3v1h-3zM25 18h1v1h-1zM2 19h1v1h-1zM4 19h1v1h-1zM10 19h1v1h-1zM25 19h1v1h-1zM3 20h1v1h-1zM8 20h2v1h-2zM16 20h1v1h-1zM26 20h1v1h-1zM16 21h1v1h-1zM7 22h1v1h-1zM9 22h1v1h-1zM14 22h2v1h-2zM28 22h1v1h-1zM9 23h2v1h-2zM13 23h1v1h-1zM28 23h1v1h-1zM6 24h2v1h-2zM11 24h2v1h-2zM28 24h1v1h-1zM6 25h2v1h-2zM28 25h2v1h-2zM6 26h1v1h-1zM26 26h4v1h-4zM22 27h2v1h-2zM25 27h5v1h-5zM4 28h1v1h-1zM21 28h1v1h-1zM23 28h3v1h-3zM28 28h3v1h-3zM4 29h1v1h-1zM20 29h1v1h-1zM25 29h1v1h-1zM29 29h3v1h-3zM4 30h1v1h-1zM20 30h1v1h-1zM25 30h1v1h-1zM29 30h1v1h-1zM16 31h1v1h-1zM25 31h1v1h-1zM27 31h2v1h-2zM14 32h1v1h-1zM18 32h3v1h-3zM23 32h3v1h-3zM28 32h2v1h-2zM11 33h1v1h-1zM13 33h1v1h-1zM23 33h2v1h-2zM12 40h1v1h-1z"/>
<path fill="#aed0e6" d="M9 1h1v1h-1zM13 1h1v1h-1zM14 2h1v1h-1zM13 4h2v1h-2zM9 5h1v1h-1zM7 9h1v1h-1zM7 11h2v1h-2zM31 11h2v1h-2zM30 12h1v1h-1zM34 18h1v1h-1zM31 20h2v1h-2zM32 21h1v1h-1zM18 35h2v1h-2zM21 35h1v1h-1zM13 36h3v1h-3zM24 36h1v1h-1zM12 37h4v1h-4zM24 37h1v1h-1zM16 38h2v1h-2zM19 38h2v1h-2zM23 38h1v1h-1z"/>
<path fill="#a3cbe3" d="M10 1h3v1h-3zM14 3h1v1h-1zM12 4h1v1h-1zM8 6h1v1h-1zM8 9h1v1h-1zM7 10h2v1h-2zM33 12h1v1h-1zM30 13h1v1h-1zM30 14h1v1h-1zM30 17h1v1h-1zM31 19h1v1h-1zM33 19h1v1h-1zM31 21h1v1h-1zM31 22h2v1h-2zM31 25h2v1h-2zM16 36h1v1h-1zM21 36h3v1h-3zM21 37h3v1h-3zM21 38h2v1h-2z"/>
<path fill="#b8d5e9" d="M14 1h1v1h-1zM10 5h2v1h-2zM8 8h1v1h-1zM30 11h1v1h-1zM33 11h1v1h-1zM7 12h2v1h-2zM34 12h1v1h-1zM7 13h2v1h-2zM28 15h2v1h-2zM29 16h1v1h-1zM35 16h1v1h-1zM30 18h1v1h-1zM34 19h1v1h-1zM12 20h1v1h-1zM33 20h1v1h-1zM11 21h2v1h-2zM31 26h1v1h-1zM13 35h5v1h-5zM20 35h1v1h-1zM22 35h1v1h-1zM12 36h1v1h-1zM25 36h1v1h-1zM11 37h1v1h-1zM12 38h2v1h-2zM15 38h1v1h-1zM18 38h1v1h-1zM24 38h1v1h-1zM20 39h2v1h-2z"/>
<path fill="#caddee" d="M15 1h1v1h-1zM19 2h1v1h-1zM16 5h1v1h-1zM10 6h1v1h-1zM12 6h5v1h-5zM9 8h1v1h-1zM6 9h1v1h-1zM10 10h1v1h-1zM6 11h1v1h-1zM10 11h1v1h-1zM29 11h1v1h-1zM9 12h1v1h-1zM28 12h1v1h-1zM9 13h2v1h-2zM27 13h1v1h-1zM8 14h1v1h-1zM10 14h3v1h-3zM11 15h2v1h-2zM12 16h1v1h-1zM27 16h1v1h-1zM28 17h1v1h-1zM29 18h1v1h-1zM12 19h1v1h-1zM29 19h1v1h-1zM5 20h2v1h-2zM27 20h1v1h-1zM29 20h1v1h-1zM10 21h1v1h-1zM4 22h1v1h-1zM11 22h2v1h-2zM30 25h1v1h-1zM14 34h8v1h-8zM10 35h3v1h-3zM25 35h1v1h-1zM9 36h1v1h-1zM26 36h1v1h-1zM10 38h1v1h-1zM25 38h1v1h-1zM12 39h1v1h-1zM14 39h2v1h-2zM18 39h1v1h-1z"/>
<path fill="#d4e1ef" d="M16 1h1v1h-1zM16 2h3v1h-3zM20 2h1v1h-1zM16 3h4v1h-4zM16 4h2v1h-2zM17 5h1v1h-1zM11 6h1v1h-1zM17 6h1v1h-1zM9 7h9v1h-9zM15 8h2v1h-2zM10 9h1v1h-1zM15 9h2v1h-2zM11 10h1v1h-1zM15 10h2v1h-2zM29 10h1v1h-1zM11 11h1v1h-1zM28 11h1v1h-1zM6 12h1v1h-1zM10 12h2v1h-2zM27 12h1v1h-1zM6 13h1v1h-1zM11 13h4v1h-4zM2 14h2v1h-2zM6 14h1v1h-1zM9 14h1v1h-1zM13 14h3v1h-3zM2 15h1v1h-1zM7 15h2v1h-2zM10 15h1v1h-1zM13 15h2v1h-2zM16 15h1v1h-1zM2 16h1v1h-1zM11 16h1v1h-1zM13 16h1v1h-1zM16 16h2v1h-2zM1 17h2v1h-2zM12 17h1v1h-1zM16 17h2v1h-2zM27 17h1v1h-1zM1 18h1v1h-1zM26 18h1v1h-1zM5 19h1v1h-1zM11 19h1v1h-1zM13 19h1v1h-1zM26 19h1v1h-1zM10 20h1v1h-1zM14 20h1v1h-1zM4 21h1v1h-1zM7 21h1v1h-1zM14 21h1v1h-1zM28 21h2v1h-2zM1 22h3v1h-3zM6 22h1v1h-1zM10 22h1v1h-1zM13 22h1v1h-1zM1 23h5v1h-5zM29 23h1v1h-1zM5 25h1v1h-1zM4 26h2v1h-2zM30 26h1v1h-1zM4 27h1v1h-1zM31 28h1v1h-1zM21 30h3v1h-3zM22 31h1v1h-1zM7 33h1v1h-1zM16 33h5v1h-5zM27 33h1v1h-1zM9 34h2v1h-2zM13 34h1v1h-1zM22 34h1v1h-1zM25 34h3v1h-3zM9 35h1v1h-1zM26 35h1v1h-1zM26 37h1v1h-1zM26 38h1v1h-1zM25 39h1v1h-1z"/>
<path fill="#98c6e0" d="M8 2h1v1h-1zM12 2h2v1h-2zM13 3h1v1h-1zM11 4h1v1h-1zM31 12h1v1h-1zM35 14h1v1h-1zM35 15h1v1h-1zM34 17h1v1h-1zM31 18h1v1h-1zM32 19h1v1h-1zM31 23h2v1h-2zM31 24h2v1h-2zM17 36h4v1h-4zM16 37h5v1h-5z"/>
<path fill="#7ab5d7" d="M9 2h1v1h-1zM11 2h1v1h-1zM8 3h1v1h-1zM9 4h2v1h-2zM31 13h1v1h-1zM34 13h1v1h-1zM30 16h1v1h-1zM34 16h1v1h-1z"/>
<path fill="#6aabd2" d="M10 2h1v1h-1zM9 3h1v1h-1zM11 3h1v1h-1zM8 5h1v1h-1zM31 17h1v1h-1zM33 17h1v1h-1z"/>
<path fill="#c1d9eb" d="M15 2h1v1h-1zM15 3h1v1h-1zM15 4h1v1h-1zM12 5h4v1h-4zM9 6h1v1h-1zM7 7h2v1h-2zM7 8h1v1h-1zM9 9h1v1h-1zM6 10h1v1h-1zM9 10h1v1h-1zM9 11h1v1h-1zM29 12h1v1h-1zM28 13h2v1h-2zM7 14h1v1h-1zM27 14h3v1h-3zM27 15h1v1h-1zM28 16h1v1h-1zM29 17h1v1h-1zM27 18h2v1h-2zM27 19h2v1h-2zM30 19h1v1h-1zM11 20h1v1h-1zM13 20h1v1h-1zM28 20h1v1h-1zM30 20h1v1h-1zM5 21h2v1h-2zM13 21h1v1h-1zM30 21h1v1h-1zM33 21h1v1h-1zM5 22h1v1h-1zM30 22h1v1h-1zM30 23h1v1h-1zM30 24h1v1h-1zM31 27h1v1h-1zM23 35h2v1h-2zM10 36h2v1h-2zM10 37h1v1h-1zM25 37h1v1h-1zM11 38h1v1h-1zM14 38h1v1h-1zM13 39h1v1h-1zM19 39h1v1h-1zM24 39h1v1h-1z"/>
<path fill="#f9e0d6" d="M22 2h1v1h-1zM21 3h1v1h-1zM23 4h1v1h-1zM21 5h1v1h-1zM22 6h2v1h-2zM20 7h1v1h-1zM22 7h2v1h-2zM26 7h1v1h-1zM25 8h1v1h-1zM18 9h1v1h-1zM25 9h1v1h-1zM27 9h1v1h-1zM13 10h1v1h-1zM17 11h1v1h-1zM27 11h1v1h-1zM17 12h1v1h-1zM18 13h1v1h-1zM25 13h1v1h-1zM24 15h1v1h-1zM24 16h1v1h-1zM9 17h1v1h-1zM14 17h1v1h-1zM25 17h1v1h-1zM10 18h1v1h-1zM18 18h1v1h-1zM3 19h1v1h-1zM7 19h1v1h-1zM9 19h1v1h-1zM17 19h1v1h-1zM24 19h1v1h-1zM17 20h1v1h-1zM25 20h1v1h-1zM8 22h1v1h-1zM16 22h1v1h-1zM27 22h1v1h-1zM7 23h2v1h-2zM14 23h1v1h-1zM25 23h1v1h-1zM8 24h3v1h-3zM25 24h3v1h-3zM8 25h1v1h-1zM26 25h2v1h-2zM7 26h2v1h-2zM25 26h1v1h-1zM6 27h2v1h-2zM21 27h1v1h-1zM24 27h1v1h-1zM5 28h1v1h-1zM20 28h1v1h-1zM26 28h2v1h-2zM26 29h3v1h-3zM5 30h1v1h-1zM28 30h1v1h-1zM6 31h1v1h-1zM15 31h1v1h-1zM17 31h2v1h-2zM20 31h1v1h-1zM26 31h1v1h-1zM29 31h1v1h-1zM8 32h1v1h-1zM10 32h1v1h-1zM13 32h1v1h-1zM12 33h1v1h-1z"/>
<path fill="#5aa1cd" d="M10 3h1v1h-1zM8 4h1v1h-1zM32 13h2v1h-2zM31 14h1v1h-1zM32 17h1v1h-1z"/>
<path fill="#8abfdb" d="M12 3h1v1h-1zM7 6h1v1h-1zM32 12h1v1h-1zM30 15h1v1h-1zM32 18h2v1h-2z"/>
<path fill="#fbd7c7" d="M22 3h1v1h-1zM21 4h1v1h-1zM23 5h1v1h-1zM19 8h4v1h-4zM24 8h1v1h-1zM18 10h1v1h-1zM26 10h2v1h-2zM18 11h1v1h-1zM26 11h1v1h-1zM18 12h1v1h-1zM25 12h1v1h-1zM19 13h1v1h-1zM24 14h1v1h-1zM7 17h2v1h-2zM19 17h1v1h-1zM24 17h1v1h-1zM7 18h3v1h-3zM24 18h1v1h-1zM8 19h1v1h-1zM23 19h1v1h-1zM23 20h2v1h-2zM17 21h1v1h-1zM24 21h3v1h-3zM24 22h3v1h-3zM15 23h2v1h-2zM24 23h1v1h-1zM26 23h2v1h-2zM13 24h1v1h-1zM24 24h1v1h-1zM9 25h4v1h-4zM25 25h1v1h-1zM9 26h1v1h-1zM24 26h1v1h-1zM8 27h1v1h-1zM5 29h1v1h-1zM19 29h1v1h-1zM16 30h4v1h-4zM26 30h2v1h-2zM7 31h1v1h-1zM14 31h1v1h-1zM19 31h1v1h-1zM9 32h1v1h-1zM11 32h2v1h-2z"/>
<path fill="#4a98c9" d="M7 4h1v1h-1z"/>
<path fill="#fccdb9" d="M22 4h1v1h-1zM22 5h1v1h-1zM23 8h1v1h-1zM19 9h3v1h-3zM19 10h1v1h-1zM25 10h1v1h-1zM19 11h1v1h-1zM25 11h1v1h-1zM19 12h1v1h-1zM24 13h1v1h-1zM19 14h1v1h-1zM19 15h1v1h-1zM23 15h1v1h-1zM19 16h1v1h-1zM23 16h1v1h-1zM23 18h1v1h-1zM23 21h1v1h-1zM17 22h1v1h-1zM14 24h2v1h-2zM13 25h1v1h-1zM24 25h1v1h-1zM10 26h3v1h-3zM21 26h3v1h-3zM9 27h1v1h-1zM20 27h1v1h-1zM6 28h1v1h-1zM16 28h2v1h-2zM19 28h1v1h-1zM16 29h3v1h-3zM6 30h1v1h-1zM15 30h1v1h-1zM8 31h1v1h-1zM13 31h1v1h-1z"/>
<path fill="#418fc4" d="M7 5h1v1h-1zM34 14h1v1h-1zM31 15h1v1h-1zM34 15h1v1h-1zM31 16h1v1h-1z"/>
<path fill="#fcbaa0" d="M22 9h1v1h-1zM21 10h1v1h-1zM24 10h1v1h-1zM24 11h1v1h-1zM24 12h1v1h-1zM20 13h1v1h-1zM20 14h1v1h-1zM23 14h1v1h-1zM22 16h1v1h-1zM20 17h3v1h-3zM20 18h2v1h-2zM18 21h1v1h-1zM22 21h1v1h-1zM17 24h1v1h-1zM23 24h1v1h-1zM15 25h2v1h-2zM14 26h4v1h-4zM20 26h1v1h-1zM10 27h6v1h-6zM18 27h1v1h-1zM15 28h1v1h-1zM7 30h1v1h-1zM14 30h1v1h-1z"/>
<path fill="#fbb095" d="M23 9h1v1h-1zM21 11h1v1h-1zM21 12h1v1h-1zM20 15h1v1h-1zM22 15h1v1h-1zM20 16h2v1h-2zM19 19h1v1h-1zM21 19h1v1h-1zM21 20h1v1h-1zM18 22h1v1h-1zM22 22h1v1h-1zM18 23h1v1h-1zM18 24h1v1h-1zM17 25h1v1h-1zM22 25h1v1h-1zM19 26h1v1h-1zM13 28h2v1h-2zM7 29h1v1h-1zM14 29h1v1h-1zM8 30h1v1h-1zM13 30h1v1h-1z"/>
<path fill="#fcc3ab" d="M24 9h1v1h-1zM20 10h1v1h-1zM20 11h1v1h-1zM20 12h1v1h-1zM23 17h1v1h-1zM19 18h1v1h-1zM22 18h1v1h-1zM18 19h1v1h-1zM22 19h1v1h-1zM18 20h1v1h-1zM22 20h1v1h-1zM23 22h1v1h-1zM17 23h1v1h-1zM23 23h1v1h-1zM16 24h1v1h-1zM14 25h1v1h-1zM23 25h1v1h-1zM13 26h1v1h-1zM16 27h2v1h-2zM19 27h1v1h-1zM7 28h2v1h-2zM18 28h1v1h-1zM6 29h1v1h-1zM15 29h1v1h-1zM9 31h4v1h-4z"/>
<path fill="#fba68a" d="M22 10h2v1h-2zM21 13h1v1h-1zM23 13h1v1h-1zM21 14h2v1h-2zM21 15h1v1h-1zM20 19h1v1h-1zM19 20h1v1h-1zM19 21h1v1h-1zM21 21h1v1h-1zM22 23h1v1h-1zM18 25h1v1h-1zM20 25h2v1h-2zM18 26h1v1h-1zM9 28h1v1h-1zM12 28h1v1h-1zM8 29h1v1h-1zM9 30h4v1h-4z"/>
<path fill="#fb9d80" d="M22 11h2v1h-2zM22 12h2v1h-2zM22 13h1v1h-1zM20 20h1v1h-1zM20 21h1v1h-1zM21 22h1v1h-1zM19 24h1v1h-1zM22 24h1v1h-1zM19 25h1v1h-1zM10 28h2v1h-2zM9 29h1v1h-1zM12 29h2v1h-2z"/>
<path fill="#3887c0" d="M32 14h1v1h-1zM33 16h1v1h-1z"/>
<path fill="#2474b7" d="M33 14h1v1h-1zM32 15h1v1h-1z"/>
<path fill="#1e6cb1" d="M33 15h1v1h-1z"/>
<path fill="#2f7ebc" d="M32 16h1v1h-1z"/>
<path fill="#fa9376" d="M19 22h1v1h-1zM19 23h1v1h-1zM21 24h1v1h-1zM10 29h2v1h-2z"/>
<path fill="#f98b6d" d="M20 22h1v1h-1zM21 23h1v1h-1zM20 24h1v1h-1z"/>
<path fill="#f88265" d="M20 23h1v1h-1z"/>
<path d="M0 23 L0 17 L1 17 L1 15 L2 15 L2 14 L3 14 L3 13 L5 13 L5 11 L6 11 L6 9 L7 9 L7 4 L8 4 L8 2 L9 2 L9 1 L16 1 L16 0 L20 0 L20 1 L21 1 L21 2 L24 2 L24 3 L25 3 L25 4 L26 4 L26 5 L27 5 L27 8 L28 8 L28 10 L30 10 L30 11 L34 11 L34 12 L35 12 L35 14 L36 14 L36 17 L35 17 L35 20 L34 20 L34 22 L33 22 L33 26 L32 26 L32 30 L30 30 L30 33 L29 33 L29 34 L28 34 L28 35 L27 35 L27 39 L26 39 L26 40 L24 40 L24 39 L22 39 L22 40 L18 40 L18 39 L16 39 L16 40 L14 40 L14 41 L12 41 L12 40 L11 40 L11 39 L10 39 L10 37 L9 37 L9 36 L8 36 L8 35 L7 35 L7 34 L6 34 L6 31 L4 31 L4 28 L3 28 L3 26 L2 26 L2 25 L1 25 L1 23 Z" fill="none" stroke="#7a7a7a" stroke-width="1.7" vector-effect="non-scaling-stroke" shape-rendering="auto"/>
</g>
<g transform="translate(395.7,693.6) scale(4.2700,4.2300)" shape-rendering="crispEdges">
<path d="M0 23 L0 17 L1 17 L1 15 L2 15 L2 14 L3 14 L3 13 L5 13 L5 11 L6 11 L6 9 L7 9 L7 4 L8 4 L8 2 L9 2 L9 1 L16 1 L16 0 L20 0 L20 1 L21 1 L21 2 L24 2 L24 3 L25 3 L25 4 L26 4 L26 5 L27 5 L27 8 L28 8 L28 10 L30 10 L30 11 L34 11 L34 12 L35 12 L35 14 L36 14 L36 17 L35 17 L35 20 L34 20 L34 22 L33 22 L33 26 L32 26 L32 30 L30 30 L30 33 L29 33 L29 34 L28 34 L28 35 L27 35 L27 39 L26 39 L26 40 L24 40 L24 39 L22 39 L22 40 L18 40 L18 39 L16 39 L16 40 L14 40 L14 41 L12 41 L12 40 L11 40 L11 39 L10 39 L10 37 L9 37 L9 36 L8 36 L8 35 L7 35 L7 34 L6 34 L6 31 L4 31 L4 28 L3 28 L3 26 L2 26 L2 25 L1 25 L1 23 Z" fill="#d0dfef"/>
<path fill="#dee6f0" d="M16 0h1v1h-1zM9 7h1v1h-1zM12 7h2v1h-2zM26 7h1v1h-1zM12 8h2v1h-2zM17 8h1v1h-1zM16 9h6v1h-6zM26 9h1v1h-1zM20 10h2v1h-2zM19 11h1v1h-1zM30 11h3v1h-3zM17 12h2v1h-2zM29 12h2v1h-2zM33 12h2v1h-2zM3 13h1v1h-1zM16 13h2v1h-2zM25 13h1v1h-1zM16 14h2v1h-2zM24 14h3v1h-3zM16 15h1v1h-1zM24 15h3v1h-3zM16 16h2v1h-2zM22 16h4v1h-4zM5 17h3v1h-3zM17 17h1v1h-1zM2 18h1v1h-1zM5 18h4v1h-4zM16 18h1v1h-1zM18 18h4v1h-4zM0 19h1v1h-1zM5 19h4v1h-4zM15 19h1v1h-1zM24 19h1v1h-1zM0 20h1v1h-1zM2 20h1v1h-1zM4 20h4v1h-4zM16 20h2v1h-2zM22 20h3v1h-3zM0 21h2v1h-2zM4 21h1v1h-1zM17 21h1v1h-1zM22 21h1v1h-1zM27 21h1v1h-1zM29 21h1v1h-1zM0 22h1v1h-1zM2 22h2v1h-2zM26 22h1v1h-1zM28 22h2v1h-2zM26 23h2v1h-2zM13 24h1v1h-1zM17 24h3v1h-3zM22 24h1v1h-1zM24 24h3v1h-3zM11 25h1v1h-1zM15 25h1v1h-1zM20 25h6v1h-6zM6 26h2v1h-2zM10 26h1v1h-1zM16 26h1v1h-1zM18 26h2v1h-2zM21 26h2v1h-2zM5 27h1v1h-1zM8 27h2v1h-2zM20 27h1v1h-1zM5 28h1v1h-1zM4 29h3v1h-3zM19 29h2v1h-2zM22 29h3v1h-3zM26 29h1v1h-1zM6 30h2v1h-2zM10 30h3v1h-3zM14 30h1v1h-1zM18 30h1v1h-1zM21 30h1v1h-1zM24 30h1v1h-1zM26 30h1v1h-1zM8 31h1v1h-1zM16 31h1v1h-1zM18 31h1v1h-1zM21 31h2v1h-2zM16 32h1v1h-1zM18 32h2v1h-2zM17 33h2v1h-2zM23 33h3v1h-3zM18 34h1v1h-1zM23 34h1v1h-1zM25 34h1v1h-1zM24 35h2v1h-2zM24 38h2v1h-2zM19 39h1v1h-1zM24 39h2v1h-2z"/>
<path fill="#caddee" d="M17 0h1v1h-1zM19 0h1v1h-1zM25 5h1v1h-1zM7 6h1v1h-1zM10 6h2v1h-2zM14 6h5v1h-5zM21 6h1v1h-1zM24 6h1v1h-1zM7 7h1v1h-1zM14 7h3v1h-3zM19 7h1v1h-1zM21 7h1v1h-1zM24 7h1v1h-1zM7 8h1v1h-1zM14 8h2v1h-2zM7 9h5v1h-5zM14 9h2v1h-2zM6 10h1v1h-1zM23 10h1v1h-1zM25 10h1v1h-1zM5 11h1v1h-1zM23 11h1v1h-1zM26 11h2v1h-2zM19 12h3v1h-3zM23 12h5v1h-5zM19 13h3v1h-3zM30 13h1v1h-1zM34 13h1v1h-1zM2 14h1v1h-1zM5 14h1v1h-1zM15 14h1v1h-1zM20 14h1v1h-1zM27 14h2v1h-2zM1 15h4v1h-4zM11 15h1v1h-1zM15 15h1v1h-1zM20 15h3v1h-3zM28 15h1v1h-1zM2 16h7v1h-7zM11 16h1v1h-1zM21 16h1v1h-1zM35 16h1v1h-1zM9 17h1v1h-1zM18 17h3v1h-3zM26 17h2v1h-2zM29 17h1v1h-1zM9 18h1v1h-1zM15 18h1v1h-1zM25 18h1v1h-1zM29 18h1v1h-1zM34 18h1v1h-1zM9 19h1v1h-1zM13 19h2v1h-2zM25 19h1v1h-1zM27 19h1v1h-1zM29 19h1v1h-1zM34 19h1v1h-1zM14 20h1v1h-1zM25 20h2v1h-2zM33 20h1v1h-1zM12 21h1v1h-1zM15 21h1v1h-1zM30 21h1v1h-1zM4 22h1v1h-1zM8 22h1v1h-1zM11 22h5v1h-5zM24 22h2v1h-2zM30 22h1v1h-1zM4 23h1v1h-1zM7 23h2v1h-2zM11 23h1v1h-1zM14 23h2v1h-2zM24 23h1v1h-1zM5 24h1v1h-1zM7 24h4v1h-4zM7 25h2v1h-2zM28 25h2v1h-2zM3 26h2v1h-2zM8 26h2v1h-2zM28 26h2v1h-2zM3 27h2v1h-2zM25 27h1v1h-1zM28 27h1v1h-1zM30 27h1v1h-1zM21 28h1v1h-1zM26 28h1v1h-1zM30 28h1v1h-1zM27 29h3v1h-3zM28 30h1v1h-1zM10 31h2v1h-2zM27 31h1v1h-1zM9 32h1v1h-1zM12 32h1v1h-1zM14 32h1v1h-1zM23 32h1v1h-1zM27 32h3v1h-3zM7 33h2v1h-2zM14 33h2v1h-2zM20 33h1v1h-1zM27 33h1v1h-1zM8 34h1v1h-1zM14 34h1v1h-1zM20 34h2v1h-2zM27 34h1v1h-1zM8 35h1v1h-1zM13 35h1v1h-1zM17 35h4v1h-4zM26 35h1v1h-1zM9 36h3v1h-3zM15 36h1v1h-1zM26 36h1v1h-1zM14 37h1v1h-1zM26 37h1v1h-1zM10 38h2v1h-2zM14 38h1v1h-1zM13 39h2v1h-2zM20 39h2v1h-2zM13 40h1v1h-1z"/>
<path fill="#c1d9eb" d="M18 0h1v1h-1zM25 4h1v1h-1zM13 5h3v1h-3zM20 5h5v1h-5zM19 6h2v1h-2zM22 6h2v1h-2zM20 7h1v1h-1zM22 7h2v1h-2zM23 8h2v1h-2zM23 9h2v1h-2zM7 10h8v1h-8zM24 10h1v1h-1zM6 11h2v1h-2zM14 11h1v1h-1zM24 11h2v1h-2zM5 12h3v1h-3zM15 12h1v1h-1zM5 13h3v1h-3zM15 13h1v1h-1zM33 13h1v1h-1zM6 14h2v1h-2zM18 14h2v1h-2zM34 14h1v1h-1zM5 15h4v1h-4zM10 15h1v1h-1zM12 15h1v1h-1zM18 15h2v1h-2zM34 15h1v1h-1zM9 16h2v1h-2zM12 16h1v1h-1zM15 16h1v1h-1zM18 16h1v1h-1zM20 16h1v1h-1zM29 16h1v1h-1zM34 16h1v1h-1zM10 17h4v1h-4zM15 17h1v1h-1zM34 17h1v1h-1zM12 18h3v1h-3zM27 18h1v1h-1zM30 18h1v1h-1zM12 19h1v1h-1zM26 19h1v1h-1zM30 19h1v1h-1zM9 20h1v1h-1zM12 20h2v1h-2zM30 20h1v1h-1zM9 21h3v1h-3zM13 21h2v1h-2zM5 22h2v1h-2zM9 22h2v1h-2zM5 23h2v1h-2zM9 23h2v1h-2zM30 23h1v1h-1zM6 24h1v1h-1zM30 24h1v1h-1zM30 25h1v1h-1zM32 25h1v1h-1zM26 26h2v1h-2zM30 26h1v1h-1zM31 27h1v1h-1zM27 28h2v1h-2zM31 28h1v1h-1zM30 29h2v1h-2zM29 30h1v1h-1zM28 31h2v1h-2zM10 32h1v1h-1zM9 33h1v1h-1zM13 33h1v1h-1zM9 34h1v1h-1zM13 34h1v1h-1zM9 35h2v1h-2zM12 35h1v1h-1zM21 35h2v1h-2zM23 36h1v1h-1zM23 37h1v1h-1zM15 38h1v1h-1zM19 38h1v1h-1zM22 38h1v1h-1zM15 39h1v1h-1z"/>
<path fill="#98c6e0" d="M9 1h1v1h-1zM12 1h1v1h-1zM14 1h1v1h-1zM20 2h2v1h-2zM20 3h1v1h-1zM13 4h1v1h-1zM15 4h4v1h-4zM30 14h1v1h-1zM33 15h1v1h-1zM31 17h2v1h-2zM31 23h1v1h-1zM18 36h1v1h-1zM20 37h1v1h-1z"/>
<path fill="#a3cbe3" d="M10 1h2v1h-2zM18 1h1v1h-1zM22 2h1v1h-1zM21 3h3v1h-3zM14 4h1v1h-1zM19 4h1v1h-1zM10 5h2v1h-2zM9 12h3v1h-3zM10 13h2v1h-2zM14 13h1v1h-1zM33 14h1v1h-1zM33 16h1v1h-1zM31 22h1v1h-1zM11 34h1v1h-1zM17 36h1v1h-1zM19 36h1v1h-1zM16 37h1v1h-1zM21 37h1v1h-1z"/>
<path fill="#8abfdb" d="M13 1h1v1h-1zM18 2h2v1h-2zM19 3h1v1h-1zM12 4h1v1h-1zM30 16h1v1h-1zM17 37h1v1h-1zM19 37h1v1h-1z"/>
<path fill="#aed0e6" d="M15 1h1v1h-1zM17 1h1v1h-1zM19 1h1v1h-1zM23 2h1v1h-1zM24 3h1v1h-1zM20 4h1v1h-1zM23 4h1v1h-1zM8 5h2v1h-2zM9 11h3v1h-3zM12 12h3v1h-3zM9 13h1v1h-1zM12 13h2v1h-2zM9 14h1v1h-1zM14 14h1v1h-1zM14 15h1v1h-1zM14 16h1v1h-1zM30 17h1v1h-1zM33 17h1v1h-1zM32 18h1v1h-1zM11 19h1v1h-1zM31 19h2v1h-2zM31 20h1v1h-1zM31 21h1v1h-1zM32 22h1v1h-1zM32 23h1v1h-1zM31 24h1v1h-1zM11 33h1v1h-1zM12 34h1v1h-1zM20 36h3v1h-3zM22 37h1v1h-1zM17 38h2v1h-2z"/>
<path fill="#b8d5e9" d="M16 1h1v1h-1zM20 1h1v1h-1zM21 4h2v1h-2zM24 4h1v1h-1zM7 5h1v1h-1zM12 5h1v1h-1zM16 5h4v1h-4zM8 11h1v1h-1zM12 11h2v1h-2zM8 12h1v1h-1zM8 13h1v1h-1zM31 13h2v1h-2zM8 14h1v1h-1zM10 14h4v1h-4zM29 14h1v1h-1zM9 15h1v1h-1zM13 15h1v1h-1zM29 15h1v1h-1zM13 16h1v1h-1zM19 16h1v1h-1zM14 17h1v1h-1zM10 18h2v1h-2zM26 18h1v1h-1zM31 18h1v1h-1zM33 18h1v1h-1zM10 19h1v1h-1zM33 19h1v1h-1zM10 20h2v1h-2zM32 20h1v1h-1zM32 21h1v1h-1zM32 24h1v1h-1zM31 25h1v1h-1zM31 26h1v1h-1zM26 27h2v1h-2zM11 32h1v1h-1zM10 33h1v1h-1zM12 33h1v1h-1zM10 34h1v1h-1zM11 35h1v1h-1zM16 36h1v1h-1zM15 37h1v1h-1zM16 38h1v1h-1zM20 38h2v1h-2z"/>
<path fill="#6aabd2" d="M8 2h1v1h-1zM13 3h4v1h-4zM8 4h1v1h-1zM31 14h2v1h-2zM30 15h1v1h-1z"/>
<path fill="#5aa1cd" d="M9 2h6v1h-6zM12 3h1v1h-1zM11 4h1v1h-1zM32 16h1v1h-1z"/>
<path fill="#7ab5d7" d="M15 2h3v1h-3zM17 3h2v1h-2zM7 4h1v1h-1zM18 37h1v1h-1z"/>
<path fill="#4a98c9" d="M8 3h1v1h-1zM11 3h1v1h-1zM9 4h2v1h-2z"/>
<path fill="#418fc4" d="M9 3h2v1h-2zM31 16h1v1h-1z"/>
<path fill="#d4e1ef" d="M26 5h1v1h-1zM8 6h2v1h-2zM12 6h2v1h-2zM25 6h2v1h-2zM8 7h1v1h-1zM10 7h2v1h-2zM17 7h2v1h-2zM25 7h1v1h-1zM8 8h4v1h-4zM16 8h1v1h-1zM18 8h5v1h-5zM25 8h3v1h-3zM6 9h1v1h-1zM12 9h2v1h-2zM22 9h1v1h-1zM25 9h1v1h-1zM27 9h1v1h-1zM15 10h1v1h-1zM22 10h1v1h-1zM26 10h4v1h-4zM15 11h1v1h-1zM20 11h3v1h-3zM28 11h2v1h-2zM16 12h1v1h-1zM22 12h1v1h-1zM28 12h1v1h-1zM31 12h2v1h-2zM4 13h1v1h-1zM18 13h1v1h-1zM22 13h3v1h-3zM26 13h4v1h-4zM3 14h2v1h-2zM21 14h3v1h-3zM35 14h1v1h-1zM17 15h1v1h-1zM23 15h1v1h-1zM27 15h1v1h-1zM35 15h1v1h-1zM1 16h1v1h-1zM26 16h3v1h-3zM0 17h5v1h-5zM8 17h1v1h-1zM16 17h1v1h-1zM21 17h1v1h-1zM25 17h1v1h-1zM28 17h1v1h-1zM0 18h2v1h-2zM3 18h2v1h-2zM28 18h1v1h-1zM1 19h4v1h-4zM28 19h1v1h-1zM1 20h1v1h-1zM8 20h1v1h-1zM15 20h1v1h-1zM27 20h3v1h-3zM5 21h4v1h-4zM16 21h1v1h-1zM23 21h4v1h-4zM33 21h1v1h-1zM1 22h1v1h-1zM7 22h1v1h-1zM16 22h1v1h-1zM23 22h1v1h-1zM1 23h3v1h-3zM12 23h2v1h-2zM16 23h1v1h-1zM23 23h1v1h-1zM25 23h1v1h-1zM28 23h2v1h-2zM1 24h4v1h-4zM11 24h2v1h-2zM14 24h3v1h-3zM23 24h1v1h-1zM27 24h3v1h-3zM2 25h5v1h-5zM9 25h2v1h-2zM16 25h4v1h-4zM26 25h2v1h-2zM5 26h1v1h-1zM23 26h3v1h-3zM21 27h4v1h-4zM29 27h1v1h-1zM4 28h1v1h-1zM20 28h1v1h-1zM22 28h4v1h-4zM29 28h1v1h-1zM21 29h1v1h-1zM13 30h1v1h-1zM19 30h2v1h-2zM27 30h1v1h-1zM6 31h2v1h-2zM9 31h1v1h-1zM12 31h4v1h-4zM19 31h2v1h-2zM23 31h4v1h-4zM6 32h3v1h-3zM13 32h1v1h-1zM15 32h1v1h-1zM20 32h3v1h-3zM24 32h3v1h-3zM6 33h1v1h-1zM16 33h1v1h-1zM19 33h1v1h-1zM21 33h2v1h-2zM26 33h1v1h-1zM28 33h1v1h-1zM7 34h1v1h-1zM15 34h3v1h-3zM19 34h1v1h-1zM22 34h1v1h-1zM26 34h1v1h-1zM14 35h3v1h-3zM23 35h1v1h-1zM12 36h3v1h-3zM24 36h2v1h-2zM10 37h4v1h-4zM24 37h2v1h-2zM12 38h2v1h-2zM23 38h1v1h-1zM26 38h1v1h-1zM11 39h2v1h-2zM18 39h1v1h-1zM12 40h1v1h-1z"/>
<path fill="#ece7e9" d="M16 10h1v1h-1zM18 10h2v1h-2zM16 11h1v1h-1zM18 11h1v1h-1zM33 11h1v1h-1zM22 17h1v1h-1zM24 17h1v1h-1zM17 18h1v1h-1zM22 18h1v1h-1zM24 18h1v1h-1zM16 19h3v1h-3zM21 19h3v1h-3zM3 20h1v1h-1zM18 20h1v1h-1zM21 20h1v1h-1zM2 21h2v1h-2zM18 21h1v1h-1zM28 21h1v1h-1zM17 22h1v1h-1zM22 22h1v1h-1zM27 22h1v1h-1zM17 23h1v1h-1zM22 23h1v1h-1zM20 24h2v1h-2zM12 25h3v1h-3zM11 26h1v1h-1zM15 26h1v1h-1zM17 26h1v1h-1zM20 26h1v1h-1zM6 27h2v1h-2zM19 27h1v1h-1zM6 28h3v1h-3zM19 28h1v1h-1zM7 29h3v1h-3zM18 29h1v1h-1zM25 29h1v1h-1zM4 30h2v1h-2zM8 30h2v1h-2zM15 30h3v1h-3zM22 30h2v1h-2zM25 30h1v1h-1zM17 31h1v1h-1zM17 32h1v1h-1zM24 34h1v1h-1z"/>
<path fill="#f9e0d6" d="M17 10h1v1h-1zM17 11h1v1h-1zM23 17h1v1h-1zM23 18h1v1h-1zM19 19h2v1h-2zM19 20h2v1h-2zM19 21h3v1h-3zM18 22h1v1h-1zM18 23h1v1h-1zM12 26h1v1h-1zM14 26h1v1h-1zM10 27h1v1h-1zM16 27h1v1h-1zM18 27h1v1h-1zM9 28h1v1h-1zM18 28h1v1h-1zM10 29h1v1h-1zM12 29h3v1h-3z"/>
<path fill="#2f7ebc" d="M31 15h1v1h-1z"/>
<path fill="#3887c0" d="M32 15h1v1h-1z"/>
<path fill="#fbd7c7" d="M19 22h1v1h-1zM19 23h3v1h-3zM13 26h1v1h-1zM11 27h2v1h-2zM15 27h1v1h-1zM17 27h1v1h-1zM10 28h1v1h-1zM16 28h2v1h-2zM11 29h1v1h-1zM15 29h3v1h-3z"/>
<path fill="#fccdb9" d="M20 22h2v1h-2zM13 27h2v1h-2zM11 28h3v1h-3zM15 28h1v1h-1z"/>
<path fill="#fcc3ab" d="M14 28h1v1h-1z"/>
<path d="M0 23 L0 17 L1 17 L1 15 L2 15 L2 14 L3 14 L3 13 L5 13 L5 11 L6 11 L6 9 L7 9 L7 4 L8 4 L8 2 L9 2 L9 1 L16 1 L16 0 L20 0 L20 1 L21 1 L21 2 L24 2 L24 3 L25 3 L25 4 L26 4 L26 5 L27 5 L27 8 L28 8 L28 10 L30 10 L30 11 L34 11 L34 12 L35 12 L35 14 L36 14 L36 17 L35 17 L35 20 L34 20 L34 22 L33 22 L33 26 L32 26 L32 30 L30 30 L30 33 L29 33 L29 34 L28 34 L28 35 L27 35 L27 39 L26 39 L26 40 L24 40 L24 39 L22 39 L22 40 L18 40 L18 39 L16 39 L16 40 L14 40 L14 41 L12 41 L12 40 L11 40 L11 39 L10 39 L10 37 L9 37 L9 36 L8 36 L8 35 L7 35 L7 34 L6 34 L6 31 L4 31 L4 28 L3 28 L3 26 L2 26 L2 25 L1 25 L1 23 Z" fill="none" stroke="#7a7a7a" stroke-width="1.7" vector-effect="non-scaling-stroke" shape-rendering="auto"/>
</g>
<g transform="translate(157.2,766.5) scale(4.4700,4.3600)" shape-rendering="crispEdges">
<path d="M0 23 L0 17 L1 17 L1 15 L2 15 L2 14 L3 14 L3 13 L5 13 L5 11 L6 11 L6 9 L7 9 L7 4 L8 4 L8 2 L9 2 L9 1 L16 1 L16 0 L20 0 L20 1 L21 1 L21 2 L24 2 L24 3 L25 3 L25 4 L26 4 L26 5 L27 5 L27 8 L28 8 L28 10 L30 10 L30 11 L34 11 L34 12 L35 12 L35 14 L36 14 L36 17 L35 17 L35 20 L34 20 L34 22 L33 22 L33 26 L32 26 L32 30 L30 30 L30 33 L29 33 L29 34 L28 34 L28 35 L27 35 L27 39 L26 39 L26 40 L24 40 L24 39 L22 39 L22 40 L18 40 L18 39 L16 39 L16 40 L14 40 L14 41 L12 41 L12 40 L11 40 L11 39 L10 39 L10 37 L9 37 L9 36 L8 36 L8 35 L7 35 L7 34 L6 34 L6 31 L4 31 L4 28 L3 28 L3 26 L2 26 L2 25 L1 25 L1 23 Z" fill="#b8d5e9"/>
<path fill="#ece7e9" d="M16 0h2v1h-2zM19 1h1v1h-1zM9 7h1v1h-1zM2 16h2v1h-2zM3 17h1v1h-1zM13 19h1v1h-1zM2 23h1v1h-1zM2 24h1v1h-1zM18 35h1v1h-1zM16 38h1v1h-1zM26 38h1v1h-1z"/>
<path fill="#dee6f0" d="M18 0h1v1h-1zM19 2h1v1h-1zM13 5h2v1h-2zM9 8h1v1h-1zM8 10h1v1h-1zM7 11h1v1h-1zM30 11h2v1h-2zM1 18h1v1h-1zM1 19h1v1h-1zM33 19h1v1h-1zM1 20h1v1h-1zM4 21h1v1h-1zM4 22h1v1h-1zM4 23h1v1h-1zM3 25h1v1h-1zM31 28h1v1h-1zM13 35h2v1h-2zM17 35h1v1h-1zM24 35h1v1h-1zM26 35h1v1h-1zM13 36h1v1h-1zM13 37h1v1h-1zM15 38h1v1h-1z"/>
<path fill="#c1d9eb" d="M19 0h1v1h-1zM18 5h1v1h-1zM26 5h1v1h-1zM11 6h1v1h-1zM14 6h1v1h-1zM18 6h1v1h-1zM11 7h6v1h-6zM19 7h1v1h-1zM13 8h2v1h-2zM17 8h2v1h-2zM10 9h3v1h-3zM10 10h1v1h-1zM29 10h1v1h-1zM8 11h4v1h-4zM7 12h1v1h-1zM9 12h3v1h-3zM28 12h1v1h-1zM9 13h1v1h-1zM15 13h1v1h-1zM17 13h1v1h-1zM15 14h1v1h-1zM17 14h1v1h-1zM12 15h2v1h-2zM15 15h2v1h-2zM13 16h1v1h-1zM13 17h1v1h-1zM0 18h1v1h-1zM12 18h1v1h-1zM14 18h1v1h-1zM12 20h1v1h-1zM14 20h1v1h-1zM5 21h1v1h-1zM1 24h1v1h-1zM4 26h1v1h-1zM29 32h1v1h-1zM28 33h1v1h-1zM10 34h2v1h-2zM14 34h2v1h-2zM20 34h1v1h-1zM23 34h1v1h-1zM26 34h2v1h-2zM8 35h1v1h-1zM11 37h1v1h-1zM11 38h1v1h-1zM11 39h2v1h-2zM25 39h1v1h-1z"/>
<path fill="#67000d" d="M9 1h2v1h-2zM31 13h4v1h-4zM31 14h5v1h-5zM31 15h2v1h-2zM35 15h1v1h-1z"/>
<path fill="#7f0610" d="M11 1h1v1h-1zM33 15h2v1h-2zM33 16h1v1h-1z"/>
<path fill="#980c13" d="M12 1h2v1h-2zM9 2h4v1h-4zM31 16h2v1h-2zM34 16h2v1h-2z"/>
<path fill="#fccdb9" d="M14 1h1v1h-1zM4 14h1v1h-1zM2 15h1v1h-1zM29 24h1v1h-1zM26 36h1v1h-1zM18 38h1v1h-1zM21 39h1v1h-1z"/>
<path fill="#fbd7c7" d="M15 1h1v1h-1zM14 2h1v1h-1zM15 3h3v1h-3zM5 13h1v1h-1zM3 15h1v1h-1zM2 18h1v1h-1zM2 19h1v1h-1zM2 20h2v1h-2zM2 21h2v1h-2zM33 21h1v1h-1zM3 22h1v1h-1zM3 23h1v1h-1zM29 25h1v1h-1zM20 35h3v1h-3zM16 36h1v1h-1zM15 37h1v1h-1z"/>
<path fill="#fa9376" d="M16 1h1v1h-1zM6 11h1v1h-1zM29 14h1v1h-1zM30 18h1v1h-1zM30 21h1v1h-1zM30 24h1v1h-1zM30 25h1v1h-1zM18 37h1v1h-1zM23 38h1v1h-1z"/>
<path fill="#f7785c" d="M17 1h1v1h-1zM10 5h1v1h-1zM30 17h1v1h-1zM32 24h1v1h-1zM32 25h1v1h-1zM20 38h1v1h-1z"/>
<path fill="#fb9d80" d="M18 1h1v1h-1zM18 2h1v1h-1zM12 4h2v1h-2zM29 12h1v1h-1zM2 14h1v1h-1zM30 19h1v1h-1zM30 20h1v1h-1zM19 36h1v1h-1z"/>
<path fill="#aed0e6" d="M20 1h1v1h-1zM19 3h1v1h-1zM19 5h1v1h-1zM12 6h1v1h-1zM26 6h1v1h-1zM20 7h1v1h-1zM27 8h1v1h-1zM15 9h2v1h-2zM12 10h6v1h-6zM19 10h1v1h-1zM12 11h1v1h-1zM14 11h1v1h-1zM16 11h1v1h-1zM18 11h1v1h-1zM13 12h1v1h-1zM17 12h2v1h-2zM7 13h1v1h-1zM18 13h1v1h-1zM6 14h2v1h-2zM9 14h2v1h-2zM6 15h5v1h-5zM17 15h1v1h-1zM6 16h1v1h-1zM11 16h1v1h-1zM5 17h1v1h-1zM15 17h2v1h-2zM11 19h1v1h-1zM10 20h2v1h-2zM6 21h2v1h-2zM11 21h4v1h-4zM10 22h1v1h-1zM6 23h2v1h-2zM29 28h1v1h-1zM4 29h1v1h-1zM30 29h1v1h-1zM4 30h1v1h-1zM28 31h2v1h-2zM27 32h1v1h-1zM6 33h2v1h-2zM22 33h3v1h-3zM26 33h1v1h-1z"/>
<path fill="#ac1117" d="M8 2h1v1h-1zM13 2h1v1h-1zM33 17h2v1h-2zM21 37h1v1h-1z"/>
<path fill="#f9e0d6" d="M15 2h1v1h-1zM12 5h1v1h-1zM2 17h1v1h-1zM3 18h1v1h-1zM3 19h1v1h-1zM33 20h1v1h-1zM2 22h1v1h-1zM3 24h1v1h-1zM29 26h1v1h-1zM19 35h1v1h-1zM23 35h1v1h-1zM14 36h2v1h-2zM14 37h1v1h-1zM17 38h1v1h-1zM25 38h1v1h-1zM20 39h1v1h-1z"/>
<path fill="#fba68a" d="M16 2h1v1h-1zM10 4h2v1h-2zM14 4h3v1h-3zM8 9h1v1h-1zM4 13h1v1h-1zM29 13h1v1h-1zM3 14h1v1h-1zM34 18h1v1h-1zM18 36h1v1h-1zM24 36h1v1h-1z"/>
<path fill="#f98b6d" d="M17 2h1v1h-1zM9 4h1v1h-1zM5 12h1v1h-1zM29 16h1v1h-1zM30 22h1v1h-1zM30 23h1v1h-1zM30 26h1v1h-1zM23 36h1v1h-1z"/>
<path fill="#8abfdb" d="M20 2h1v1h-1zM23 3h1v1h-1zM23 4h1v1h-1zM20 5h1v1h-1zM21 6h1v1h-1zM26 7h1v1h-1zM21 8h1v1h-1zM20 10h1v1h-1zM27 12h1v1h-1zM19 13h1v1h-1zM27 13h1v1h-1zM27 14h1v1h-1zM18 15h1v1h-1zM27 15h1v1h-1zM10 17h1v1h-1zM6 18h1v1h-1zM16 18h1v1h-1zM10 19h1v1h-1zM13 22h1v1h-1zM11 23h1v1h-1zM28 23h1v1h-1zM7 24h3v1h-3zM28 24h1v1h-1zM28 25h1v1h-1zM6 31h1v1h-1zM24 31h1v1h-1zM7 32h1v1h-1zM9 33h2v1h-2zM15 33h5v1h-5z"/>
<path fill="#5aa1cd" d="M21 2h1v1h-1zM20 3h1v1h-1zM22 4h1v1h-1zM22 5h1v1h-1zM23 7h1v1h-1zM23 8h1v1h-1zM26 10h1v1h-1zM26 11h1v1h-1zM20 12h1v1h-1zM19 14h1v1h-1zM18 16h1v1h-1zM8 17h2v1h-2zM27 17h1v1h-1zM7 18h1v1h-1zM17 18h1v1h-1zM27 18h1v1h-1zM8 19h2v1h-2zM13 23h1v1h-1zM7 25h1v1h-1zM6 27h1v1h-1zM6 28h1v1h-1zM6 29h1v1h-1zM24 30h1v1h-1zM7 31h1v1h-1zM23 31h1v1h-1zM20 32h1v1h-1z"/>
<path fill="#7ab5d7" d="M22 2h1v1h-1zM24 6h1v1h-1zM22 7h1v1h-1zM22 8h1v1h-1zM26 8h1v1h-1zM7 17h1v1h-1zM17 17h1v1h-1zM10 18h1v1h-1zM7 19h1v1h-1zM14 22h2v1h-2zM10 24h1v1h-1zM6 25h1v1h-1zM27 28h1v1h-1zM26 29h1v1h-1zM6 30h1v1h-1zM25 30h1v1h-1zM21 32h2v1h-2z"/>
<path fill="#98c6e0" d="M23 2h1v1h-1zM24 5h1v1h-1zM25 6h1v1h-1zM21 7h1v1h-1zM20 9h1v1h-1zM27 10h1v1h-1zM27 11h1v1h-1zM19 12h1v1h-1zM8 16h2v1h-2zM17 16h1v1h-1zM6 17h1v1h-1zM28 17h1v1h-1zM28 18h1v1h-1zM6 19h1v1h-1zM28 19h1v1h-1zM15 21h1v1h-1zM12 22h1v1h-1zM10 23h1v1h-1zM6 24h1v1h-1zM28 26h1v1h-1zM5 28h1v1h-1zM28 28h1v1h-1zM5 29h1v1h-1zM27 29h2v1h-2zM26 30h1v1h-1zM28 30h1v1h-1zM25 31h1v1h-1zM23 32h1v1h-1zM11 33h1v1h-1zM13 33h2v1h-2zM20 33h1v1h-1z"/>
<path fill="#d82623" d="M8 3h1v1h-1zM8 5h1v1h-1zM31 17h1v1h-1zM22 37h1v1h-1z"/>
<path fill="#e43328" d="M9 3h1v1h-1zM7 6h1v1h-1zM7 7h1v1h-1zM31 12h2v1h-2zM31 19h1v1h-1zM32 21h1v1h-1zM21 38h1v1h-1z"/>
<path fill="#ed3f2f" d="M10 3h3v1h-3zM8 4h1v1h-1zM9 5h1v1h-1zM33 12h2v1h-2zM31 18h1v1h-1z"/>
<path fill="#f04d3a" d="M13 3h1v1h-1zM7 5h1v1h-1zM8 6h1v1h-1zM7 8h1v1h-1zM30 15h1v1h-1zM20 37h1v1h-1z"/>
<path fill="#fcc3ab" d="M14 3h1v1h-1zM7 10h1v1h-1zM6 12h1v1h-1zM29 18h1v1h-1zM29 19h1v1h-1zM29 20h1v1h-1zM30 27h1v1h-1zM17 36h1v1h-1zM25 36h1v1h-1zM16 37h1v1h-1zM26 37h1v1h-1z"/>
<path fill="#d4e1ef" d="M18 3h1v1h-1zM15 5h3v1h-3zM10 6h1v1h-1zM9 9h1v1h-1zM29 11h1v1h-1zM32 11h2v1h-2zM1 15h1v1h-1zM4 15h1v1h-1zM1 17h1v1h-1zM13 18h1v1h-1zM4 20h1v1h-1zM1 21h1v1h-1zM1 22h1v1h-1zM4 24h1v1h-1zM2 25h1v1h-1zM11 35h2v1h-2zM15 35h2v1h-2zM25 35h1v1h-1zM11 36h2v1h-2zM14 38h1v1h-1zM19 39h1v1h-1zM24 39h1v1h-1z"/>
<path fill="#4a98c9" d="M21 3h1v1h-1zM21 4h1v1h-1zM24 7h1v1h-1zM25 8h1v1h-1zM22 9h1v1h-1zM26 12h1v1h-1zM27 19h1v1h-1zM27 20h1v1h-1zM16 21h1v1h-1zM27 21h1v1h-1zM11 24h1v1h-1zM8 25h1v1h-1zM27 26h1v1h-1zM26 28h1v1h-1zM25 29h1v1h-1z"/>
<path fill="#6aabd2" d="M22 3h1v1h-1zM20 4h1v1h-1zM21 5h1v1h-1zM23 5h1v1h-1zM22 6h2v1h-2zM25 7h1v1h-1zM21 9h1v1h-1zM26 9h1v1h-1zM20 11h1v1h-1zM27 16h1v1h-1zM16 19h1v1h-1zM16 20h1v1h-1zM12 23h1v1h-1zM6 26h1v1h-1zM27 27h1v1h-1zM8 32h1v1h-1z"/>
<path fill="#a3cbe3" d="M24 3h1v1h-1zM19 4h1v1h-1zM24 4h1v1h-1zM20 6h1v1h-1zM20 8h1v1h-1zM27 9h1v1h-1zM13 11h1v1h-1zM17 11h1v1h-1zM19 11h1v1h-1zM18 14h1v1h-1zM7 16h1v1h-1zM10 16h1v1h-1zM11 17h1v1h-1zM5 18h1v1h-1zM11 18h1v1h-1zM15 18h1v1h-1zM5 19h1v1h-1zM15 19h1v1h-1zM6 20h4v1h-4zM15 20h1v1h-1zM28 20h1v1h-1zM28 21h1v1h-1zM11 22h1v1h-1zM28 22h1v1h-1zM8 23h2v1h-2zM5 25h1v1h-1zM5 26h1v1h-1zM5 27h1v1h-1zM28 27h1v1h-1zM29 29h1v1h-1zM5 30h1v1h-1zM27 30h1v1h-1zM29 30h1v1h-1zM26 31h2v1h-2zM6 32h1v1h-1zM24 32h3v1h-3zM8 33h1v1h-1zM12 33h1v1h-1zM21 33h1v1h-1zM25 33h1v1h-1z"/>
<path fill="#f4634c" d="M7 4h1v1h-1zM6 9h1v1h-1zM30 12h1v1h-1zM21 36h1v1h-1zM23 37h1v1h-1zM22 38h1v1h-1z"/>
<path fill="#fcbaa0" d="M17 4h1v1h-1zM9 6h1v1h-1zM29 21h1v1h-1zM29 23h1v1h-1zM19 38h1v1h-1zM24 38h1v1h-1z"/>
<path fill="#caddee" d="M18 4h1v1h-1zM15 6h3v1h-3zM10 7h1v1h-1zM17 7h2v1h-2zM10 8h3v1h-3zM9 10h1v1h-1zM6 13h1v1h-1zM16 13h1v1h-1zM28 13h1v1h-1zM5 14h1v1h-1zM16 14h1v1h-1zM28 14h1v1h-1zM28 15h1v1h-1zM1 16h1v1h-1zM4 16h1v1h-1zM4 17h1v1h-1zM4 18h1v1h-1zM0 19h1v1h-1zM4 19h1v1h-1zM12 19h1v1h-1zM14 19h1v1h-1zM0 20h1v1h-1zM13 20h1v1h-1zM0 21h1v1h-1zM0 22h1v1h-1zM5 22h1v1h-1zM1 23h1v1h-1zM5 23h1v1h-1zM4 25h1v1h-1zM3 26h1v1h-1zM29 27h1v1h-1zM30 28h1v1h-1zM12 34h2v1h-2zM21 34h2v1h-2zM9 35h2v1h-2zM10 36h1v1h-1zM12 37h1v1h-1zM12 38h2v1h-2zM18 39h1v1h-1z"/>
<path fill="#b8d5e9" d="M25 4h1v1h-1zM25 5h1v1h-1zM13 6h1v1h-1zM19 6h1v1h-1zM15 8h2v1h-2zM19 8h1v1h-1zM13 9h2v1h-2zM17 9h3v1h-3zM11 10h1v1h-1zM18 10h1v1h-1zM28 10h1v1h-1zM15 11h1v1h-1zM28 11h1v1h-1zM8 12h1v1h-1zM12 12h1v1h-1zM14 12h3v1h-3zM8 13h1v1h-1zM10 13h5v1h-5zM8 14h1v1h-1zM11 14h4v1h-4zM5 15h1v1h-1zM11 15h1v1h-1zM14 15h1v1h-1zM5 16h1v1h-1zM12 16h1v1h-1zM14 16h3v1h-3zM28 16h1v1h-1zM0 17h1v1h-1zM12 17h1v1h-1zM14 17h1v1h-1zM34 19h1v1h-1zM5 20h1v1h-1zM8 21h3v1h-3zM6 22h4v1h-4zM5 24h1v1h-1zM3 27h2v1h-2zM4 28h1v1h-1zM31 29h1v1h-1zM28 32h1v1h-1zM27 33h1v1h-1zM7 34h3v1h-3zM16 34h4v1h-4zM24 34h2v1h-2zM9 36h1v1h-1zM10 37h1v1h-1zM10 38h1v1h-1zM13 39h3v1h-3zM12 40h2v1h-2z"/>
<path fill="#fbb095" d="M11 5h1v1h-1zM3 13h1v1h-1zM29 17h1v1h-1zM29 22h1v1h-1zM17 37h1v1h-1zM25 37h1v1h-1z"/>
<path fill="#f66e54" d="M8 7h1v1h-1zM7 9h1v1h-1zM6 10h1v1h-1zM5 11h1v1h-1zM32 23h1v1h-1zM22 36h1v1h-1z"/>
<path fill="#f88265" d="M8 8h1v1h-1zM29 15h1v1h-1zM33 18h1v1h-1zM32 19h1v1h-1zM31 27h1v1h-1zM20 36h1v1h-1zM19 37h1v1h-1zM24 37h1v1h-1z"/>
<path fill="#418fc4" d="M24 8h1v1h-1zM23 9h1v1h-1zM21 10h1v1h-1zM26 13h1v1h-1zM26 14h1v1h-1zM14 23h1v1h-1z"/>
<path fill="#2474b7" d="M24 9h1v1h-1zM20 13h1v1h-1zM26 16h1v1h-1zM18 17h1v1h-1zM17 19h1v1h-1zM23 30h1v1h-1zM8 31h1v1h-1zM11 32h1v1h-1zM15 32h3v1h-3z"/>
<path fill="#3887c0" d="M25 9h1v1h-1zM26 15h1v1h-1zM8 18h2v1h-2zM16 22h1v1h-1zM9 25h1v1h-1zM22 31h1v1h-1zM9 32h1v1h-1zM13 32h1v1h-1z"/>
<path fill="#0b4f96" d="M22 10h1v1h-1zM23 11h1v1h-1zM23 12h1v1h-1zM25 12h1v1h-1zM23 13h1v1h-1zM19 16h1v1h-1zM18 18h1v1h-1zM26 19h1v1h-1zM14 24h1v1h-1zM18 24h2v1h-2zM18 25h3v1h-3zM19 26h3v1h-3zM20 27h2v1h-2zM20 31h1v1h-1z"/>
<path fill="#0e488d" d="M23 10h1v1h-1zM24 11h1v1h-1zM21 12h2v1h-2zM24 12h1v1h-1zM22 13h1v1h-1zM20 14h1v1h-1zM23 14h1v1h-1zM26 20h1v1h-1zM15 24h3v1h-3zM11 25h1v1h-1zM16 25h2v1h-2zM21 25h1v1h-1zM8 26h1v1h-1zM22 26h2v1h-2zM19 27h1v1h-1zM22 27h2v1h-2zM20 28h3v1h-3zM9 29h2v1h-2zM9 31h1v1h-1z"/>
<path fill="#114183" d="M24 10h1v1h-1zM22 11h1v1h-1zM24 13h2v1h-2zM22 14h1v1h-1zM24 14h1v1h-1zM25 18h1v1h-1zM19 19h2v1h-2zM24 19h1v1h-1zM19 20h2v1h-2zM24 20h2v1h-2zM17 21h1v1h-1zM25 21h2v1h-2zM19 23h1v1h-1zM20 24h1v1h-1zM12 25h4v1h-4zM22 25h2v1h-2zM15 26h4v1h-4zM24 26h1v1h-1zM26 26h1v1h-1zM15 27h2v1h-2zM24 27h1v1h-1zM9 28h2v1h-2zM15 28h1v1h-1zM19 28h1v1h-1zM23 28h2v1h-2zM8 29h1v1h-1zM11 29h1v1h-1zM20 29h4v1h-4zM8 30h4v1h-4zM12 31h3v1h-3z"/>
<path fill="#1e6cb1" d="M25 10h1v1h-1zM21 11h1v1h-1zM26 17h1v1h-1zM10 25h1v1h-1zM7 26h1v1h-1zM7 29h1v1h-1zM24 29h1v1h-1zM21 31h1v1h-1zM10 32h1v1h-1z"/>
<path fill="#1965aa" d="M25 11h1v1h-1zM13 24h1v1h-1zM27 24h1v1h-1zM26 27h1v1h-1zM25 28h1v1h-1z"/>
<path fill="#143a79" d="M21 13h1v1h-1zM21 14h1v1h-1zM25 14h1v1h-1zM20 15h6v1h-6zM20 16h6v1h-6zM19 17h7v1h-7zM19 18h6v1h-6zM18 19h1v1h-1zM21 19h3v1h-3zM25 19h1v1h-1zM18 20h1v1h-1zM21 20h3v1h-3zM18 21h7v1h-7zM17 22h10v1h-10zM17 23h2v1h-2zM20 23h7v1h-7zM21 24h6v1h-6zM24 25h3v1h-3zM9 26h6v1h-6zM25 26h1v1h-1zM8 27h7v1h-7zM17 27h2v1h-2zM25 27h1v1h-1zM8 28h1v1h-1zM11 28h4v1h-4zM16 28h3v1h-3zM12 29h8v1h-8zM12 30h11v1h-11zM10 31h2v1h-2zM15 31h5v1h-5z"/>
<path fill="#f25843" d="M30 13h1v1h-1zM30 14h1v1h-1zM30 16h1v1h-1zM32 18h1v1h-1zM32 20h1v1h-1zM32 22h1v1h-1z"/>
<path fill="#2f7ebc" d="M19 15h1v1h-1zM27 22h1v1h-1zM15 23h1v1h-1zM12 24h1v1h-1zM27 25h1v1h-1zM7 30h1v1h-1zM12 32h1v1h-1zM14 32h1v1h-1zM18 32h2v1h-2z"/>
<path fill="#cb1b1e" d="M32 17h1v1h-1zM31 20h1v1h-1zM31 21h1v1h-1zM31 22h1v1h-1zM31 23h1v1h-1zM31 24h1v1h-1zM31 25h1v1h-1zM31 26h1v1h-1z"/>
<path fill="#145da4" d="M26 18h1v1h-1zM17 20h1v1h-1zM16 23h1v1h-1zM27 23h1v1h-1zM7 28h1v1h-1z"/>
<path fill="#10569d" d="M7 27h1v1h-1z"/>
<path d="M0 23 L0 17 L1 17 L1 15 L2 15 L2 14 L3 14 L3 13 L5 13 L5 11 L6 11 L6 9 L7 9 L7 4 L8 4 L8 2 L9 2 L9 1 L16 1 L16 0 L20 0 L20 1 L21 1 L21 2 L24 2 L24 3 L25 3 L25 4 L26 4 L26 5 L27 5 L27 8 L28 8 L28 10 L30 10 L30 11 L34 11 L34 12 L35 12 L35 14 L36 14 L36 17 L35 17 L35 20 L34 20 L34 22 L33 22 L33 26 L32 26 L32 30 L30 30 L30 33 L29 33 L29 34 L28 34 L28 35 L27 35 L27 39 L26 39 L26 40 L24 40 L24 39 L22 39 L22 40 L18 40 L18 39 L16 39 L16 40 L14 40 L14 41 L12 41 L12 40 L11 40 L11 39 L10 39 L10 37 L9 37 L9 36 L8 36 L8 35 L7 35 L7 34 L6 34 L6 31 L4 31 L4 28 L3 28 L3 26 L2 26 L2 25 L1 25 L1 23 Z" fill="none" stroke="#7a7a7a" stroke-width="1.7" vector-effect="non-scaling-stroke" shape-rendering="auto"/>
</g>
<circle cx="267.3" cy="462.4" r="25.6" fill="#fff" stroke="#BE0000" stroke-width="3.7"/>
<text x="267.3" y="470.8" font-size="25" fill="#BE0000" text-anchor="middle">1</text>
<circle cx="480.5" cy="422" r="25.6" fill="#fff" stroke="#BE0000" stroke-width="3.7"/>
<text x="480.5" y="430.4" font-size="25" fill="#BE0000" text-anchor="middle">2</text>
<circle cx="714.5" cy="391.9" r="25.6" fill="#fff" stroke="#BE0000" stroke-width="3.7"/>
<text x="714.5" y="400.3" font-size="25" fill="#BE0000" text-anchor="middle">3</text>
<circle cx="919.5" cy="390.2" r="25.6" fill="#fff" stroke="#BE0000" stroke-width="3.7"/>
<text x="919.5" y="398.6" font-size="25" fill="#BE0000" text-anchor="middle">4</text>
<circle cx="754.8" cy="520" r="25.6" fill="#fff" stroke="#2F5597" stroke-width="3.7"/>
<text x="754.8" y="528.4" font-size="25" fill="#2F5597" text-anchor="middle">5</text>
<circle cx="565.9" cy="562.8" r="25.6" fill="#fff" stroke="#2F5597" stroke-width="3.7"/>
<text x="565.9" y="571.2" font-size="25" fill="#2F5597" text-anchor="middle">6</text>
<circle cx="376.2" cy="599" r="25.6" fill="#fff" stroke="#2F5597" stroke-width="3.7"/>
<text x="376.2" y="607.4" font-size="25" fill="#2F5597" text-anchor="middle">7</text>
<circle cx="187.4" cy="710.2" r="25.6" fill="#fff" stroke="#2F5597" stroke-width="3.7"/>
<text x="187.4" y="718.6" font-size="25" fill="#2F5597" text-anchor="middle">8</text>
<defs><linearGradient id="cb" x1="0" y1="0" x2="1" y2="0"><stop offset="0.000" stop-color="#143a79"/><stop offset="0.025" stop-color="#104285"/><stop offset="0.050" stop-color="#0d4a91"/><stop offset="0.075" stop-color="#0f549c"/><stop offset="0.100" stop-color="#145da4"/><stop offset="0.125" stop-color="#1b68ad"/><stop offset="0.150" stop-color="#2171b5"/><stop offset="0.175" stop-color="#2b7bba"/><stop offset="0.200" stop-color="#3887c0"/><stop offset="0.225" stop-color="#4291c5"/><stop offset="0.250" stop-color="#539dcc"/><stop offset="0.275" stop-color="#66a9d1"/><stop offset="0.300" stop-color="#7ab5d7"/><stop offset="0.325" stop-color="#8fc1dd"/><stop offset="0.350" stop-color="#9cc8e1"/><stop offset="0.375" stop-color="#abcfe6"/><stop offset="0.400" stop-color="#b8d5e9"/><stop offset="0.425" stop-color="#c3daec"/><stop offset="0.450" stop-color="#d0dfef"/><stop offset="0.475" stop-color="#dce5f0"/><stop offset="0.500" stop-color="#ece7e9"/><stop offset="0.525" stop-color="#fbdfd3"/><stop offset="0.550" stop-color="#fbd3c1"/><stop offset="0.575" stop-color="#fcc5ad"/><stop offset="0.600" stop-color="#fcbaa0"/><stop offset="0.625" stop-color="#fbac91"/><stop offset="0.650" stop-color="#fba184"/><stop offset="0.675" stop-color="#fa9779"/><stop offset="0.700" stop-color="#f98b6d"/><stop offset="0.725" stop-color="#f88163"/><stop offset="0.750" stop-color="#f67257"/><stop offset="0.775" stop-color="#f5664e"/><stop offset="0.800" stop-color="#f25843"/><stop offset="0.825" stop-color="#ef4836"/><stop offset="0.850" stop-color="#eb3a2c"/><stop offset="0.875" stop-color="#da2924"/><stop offset="0.900" stop-color="#cb1b1e"/><stop offset="0.925" stop-color="#b91519"/><stop offset="0.950" stop-color="#a10e15"/><stop offset="0.975" stop-color="#840711"/><stop offset="1.000" stop-color="#67000d"/></linearGradient></defs>
<rect x="662" y="905.3" width="185" height="35" fill="url(#cb)" stroke="#777" stroke-width="1"/>
<text x="667.61" y="862.40" font-size="24.7" textLength="179.40" lengthAdjust="spacingAndGlyphs">Current Density</text>
<text x="695.72" y="893.60" font-size="24.7" textLength="132.83" lengthAdjust="spacingAndGlyphs">(arb. units )</text>
<text x="534.76" y="920.90" font-size="24.7" textLength="66.67" lengthAdjust="spacingAndGlyphs">-5.5 e</text>
<text x="601.19" y="913.60" font-size="16.5" textLength="15.70" lengthAdjust="spacingAndGlyphs">-5</text>
<text x="498.22" y="952.20" font-size="24.7" textLength="156.62" lengthAdjust="spacingAndGlyphs">(Discharging)</text>
<text x="877.62" y="919.90" font-size="24.7" textLength="71.91" lengthAdjust="spacingAndGlyphs">+5.5 e</text>
<text x="950.12" y="911.30" font-size="16.5" textLength="15.15" lengthAdjust="spacingAndGlyphs">-5</text>
<text x="859.12" y="952.20" font-size="24.7" textLength="124.77" lengthAdjust="spacingAndGlyphs">(Charging)</text>
<rect x="872.8" y="795.3" width="153" height="11.8" fill="#000"/>
<text x="1098.07" y="31.70" font-size="45" font-weight="bold" textLength="28.22" lengthAdjust="spacingAndGlyphs">b</text>
<g transform="translate(1170.1,38.9) scale(3.0222,2.7561)"><path d="M0 23 L0 17 L1 17 L1 15 L2 15 L2 14 L3 14 L3 13 L5 13 L5 11 L6 11 L6 9 L7 9 L7 4 L8 4 L8 2 L9 2 L9 1 L16 1 L16 0 L20 0 L20 1 L21 1 L21 2 L24 2 L24 3 L25 3 L25 4 L26 4 L26 5 L27 5 L27 8 L28 8 L28 10 L30 10 L30 11 L34 11 L34 12 L35 12 L35 14 L36 14 L36 17 L35 17 L35 20 L34 20 L34 22 L33 22 L33 26 L32 26 L32 30 L30 30 L30 33 L29 33 L29 34 L28 34 L28 35 L27 35 L27 39 L26 39 L26 40 L24 40 L24 39 L22 39 L22 40 L18 40 L18 39 L16 39 L16 40 L14 40 L14 41 L12 41 L12 40 L11 40 L11 39 L10 39 L10 37 L9 37 L9 36 L8 36 L8 35 L7 35 L7 34 L6 34 L6 31 L4 31 L4 28 L3 28 L3 26 L2 26 L2 25 L1 25 L1 23 Z" fill="#C9B1D7"/></g>
<polygon points="1236.1,68.1 1240.9,65.1 1251.6,65.1 1255.7,68.1 1255.7,115 1252.2,115 1252.2,126.9 1248.6,126.9 1248.6,124.6 1245.6,124.6 1245.6,126.9 1243.3,126.9 1243.3,124.6 1225.4,124.6 1225.4,126.9 1210,126.9 1210,124.6 1202.8,124.6 1202.8,129.3 1194.5,129.3 1194.5,126.9 1190.3,126.9 1190.3,124 1187.9,124 1187.9,112.1 1199.2,112.1 1199.2,103.1 1197.5,103.1 1197.5,100.2 1199.2,100.2 1199.2,97.8 1194.5,97.8 1194.5,94.2 1190.3,94.2 1190.3,86.5 1194.5,86.5 1194.5,83.5 1202.2,83.5 1202.2,85.9 1205.8,85.9 1205.8,94.8 1212.3,94.8 1212.3,97.8 1215.3,97.8 1215.3,100.8 1225.4,100.8 1225.4,97.8 1227.8,94.8 1227.8,91.8 1231.4,91.8 1231.4,88.9 1236.1,88.9" fill="#F9BE6F"/>
<g transform="translate(1170.1,38.9) scale(3.0222,2.7561)"><path d="M0 23 L0 17 L1 17 L1 15 L2 15 L2 14 L3 14 L3 13 L5 13 L5 11 L6 11 L6 9 L7 9 L7 4 L8 4 L8 2 L9 2 L9 1 L16 1 L16 0 L20 0 L20 1 L21 1 L21 2 L24 2 L24 3 L25 3 L25 4 L26 4 L26 5 L27 5 L27 8 L28 8 L28 10 L30 10 L30 11 L34 11 L34 12 L35 12 L35 14 L36 14 L36 17 L35 17 L35 20 L34 20 L34 22 L33 22 L33 26 L32 26 L32 30 L30 30 L30 33 L29 33 L29 34 L28 34 L28 35 L27 35 L27 39 L26 39 L26 40 L24 40 L24 39 L22 39 L22 40 L18 40 L18 39 L16 39 L16 40 L14 40 L14 41 L12 41 L12 40 L11 40 L11 39 L10 39 L10 37 L9 37 L9 36 L8 36 L8 35 L7 35 L7 34 L6 34 L6 31 L4 31 L4 28 L3 28 L3 26 L2 26 L2 25 L1 25 L1 23 Z" fill="none" stroke="#7f8a7f" stroke-width="1.3" vector-effect="non-scaling-stroke"/></g>
<text x="1199.50" y="74.60" font-size="24" fill="#333" textLength="33.50" lengthAdjust="spacingAndGlyphs">D5</text>
<text x="1209.59" y="118.60" font-size="24" fill="#333" textLength="33.68" lengthAdjust="spacingAndGlyphs">D6</text>
<line x1="1216.5" y1="183.3" x2="1494.8" y2="183.3" stroke="#A57542" stroke-width="1.6"/>
<polygon points="1363,183.3 1364.5,169.2 1366,150 1367.6,137.2 1369.2,134 1370.8,124.3 1371.9,112.9 1373,112 1374.8,92.9 1376.7,100.4 1378.5,105.3 1380.3,112.3 1382.1,106.9 1383.9,101.6 1386,110 1387.3,127.3 1388.7,124.3 1390.5,143.4 1392.3,155.3 1394.1,161.3 1395.9,167.3 1397.5,167.9 1399,169 1400.6,172 1402.3,175.4 1404,178 1405.9,181.1 1407.8,183.3 1407.8,183.3 1363,183.3" fill="#E2D1F1"/><polyline points="1363,183.3 1364.5,169.2 1366,150 1367.6,137.2 1369.2,134 1370.8,124.3 1371.9,112.9 1373,112 1374.8,92.9 1376.7,100.4 1378.5,105.3 1380.3,112.3 1382.1,106.9 1383.9,101.6 1386,110 1387.3,127.3 1388.7,124.3 1390.5,143.4 1392.3,155.3 1394.1,161.3 1395.9,167.3 1397.5,167.9 1399,169 1400.6,172 1402.3,175.4 1404,178 1405.9,181.1 1407.8,183.3" fill="none" stroke="#7B51AD" stroke-width="1.5" stroke-linejoin="round"/>
<polygon points="1325.4,183.3 1326.9,181.1 1328.5,177.7 1330,176 1332,174.2 1334,170.4 1336,167.3 1337.6,154.7 1339.3,155.5 1340.9,141 1342.5,142.1 1344,146 1346,132.2 1348,132.6 1349.6,142.2 1351.2,142.2 1352.8,148 1354.4,135.3 1356,135 1357.6,137.6 1359.1,125.8 1360.7,121.9 1361.8,126.2 1363,140 1365.1,132.2 1367.2,130.2 1368.6,134.7 1370,138 1372.2,136.7 1374.3,124.3 1375.7,128.3 1377,132 1379.1,143.4 1380.9,141.8 1382.7,136.2 1384.5,150.8 1386.3,164.9 1387.9,167.3 1389.4,166.3 1391,169.7 1392.6,173.4 1394.3,179.1 1395.9,183.3 1395.9,183.3 1325.4,183.3" fill="#FABE72"/><polyline points="1325.4,183.3 1326.9,181.1 1328.5,177.7 1330,176 1332,174.2 1334,170.4 1336,167.3 1337.6,154.7 1339.3,155.5 1340.9,141 1342.5,142.1 1344,146 1346,132.2 1348,132.6 1349.6,142.2 1351.2,142.2 1352.8,148 1354.4,135.3 1356,135 1357.6,137.6 1359.1,125.8 1360.7,121.9 1361.8,126.2 1363,140 1365.1,132.2 1367.2,130.2 1368.6,134.7 1370,138 1372.2,136.7 1374.3,124.3 1375.7,128.3 1377,132 1379.1,143.4 1380.9,141.8 1382.7,136.2 1384.5,150.8 1386.3,164.9 1387.9,167.3 1389.4,166.3 1391,169.7 1392.6,173.4 1394.3,179.1 1395.9,183.3" fill="none" stroke="#F7861B" stroke-width="1.5" stroke-linejoin="round"/>
<line x1="1242.4" y1="183.3" x2="1242.4" y2="186.3" stroke="#999" stroke-width="1.2"/>
<line x1="1268.3" y1="183.3" x2="1268.3" y2="186.3" stroke="#999" stroke-width="1.2"/>
<line x1="1293.8" y1="183.3" x2="1293.8" y2="186.3" stroke="#999" stroke-width="1.2"/>
<line x1="1319.4" y1="183.3" x2="1319.4" y2="186.3" stroke="#999" stroke-width="1.2"/>
<line x1="1345.2" y1="183.3" x2="1345.2" y2="186.3" stroke="#999" stroke-width="1.2"/>
<line x1="1370.8" y1="183.3" x2="1370.8" y2="186.3" stroke="#999" stroke-width="1.2"/>
<line x1="1396.6" y1="183.3" x2="1396.6" y2="186.3" stroke="#999" stroke-width="1.2"/>
<line x1="1422.1" y1="183.3" x2="1422.1" y2="186.3" stroke="#999" stroke-width="1.2"/>
<line x1="1447.7" y1="183.3" x2="1447.7" y2="186.3" stroke="#999" stroke-width="1.2"/>
<line x1="1473.5" y1="183.3" x2="1473.5" y2="186.3" stroke="#999" stroke-width="1.2"/>
<line x1="1216.5" y1="283.2" x2="1494.8" y2="283.2" stroke="#A57542" stroke-width="1.6"/>
<polygon points="1355,283.2 1356.9,230.5 1358.5,226 1360.2,219.5 1361.8,220.1 1363.5,223.9 1365.2,221.1 1366.8,207.4 1368.4,213.6 1370.1,217.3 1371.2,230.2 1372.3,237.1 1373.4,231 1374.5,230.5 1376.7,236.1 1378.8,237.1 1379.9,250.7 1381,263.4 1382.5,261.8 1383.9,264 1385.4,263.4 1387.6,264.3 1389.8,270 1391.3,274.1 1392.7,275.2 1394.2,278.8 1396.4,280 1398.6,281 1400.3,280.1 1402,279 1404.2,281 1406.3,283.2 1406.3,283.2 1355,283.2" fill="#E2D1F1"/><polyline points="1355,283.2 1356.9,230.5 1358.5,226 1360.2,219.5 1361.8,220.1 1363.5,223.9 1365.2,221.1 1366.8,207.4 1368.4,213.6 1370.1,217.3 1371.2,230.2 1372.3,237.1 1373.4,231 1374.5,230.5 1376.7,236.1 1378.8,237.1 1379.9,250.7 1381,263.4 1382.5,261.8 1383.9,264 1385.4,263.4 1387.6,264.3 1389.8,270 1391.3,274.1 1392.7,275.2 1394.2,278.8 1396.4,280 1398.6,281 1400.3,280.1 1402,279 1404.2,281 1406.3,283.2" fill="none" stroke="#7B51AD" stroke-width="1.5" stroke-linejoin="round"/>
<polygon points="1327.2,283.2 1329.4,257.7 1331.6,232.7 1333.2,232.1 1334.9,228.3 1337.1,233.6 1339.3,217.3 1340.4,229 1341.5,222 1342.6,212.5 1343.7,212.9 1345,222.3 1346.3,232.7 1347.7,219.7 1349,215 1350.8,194.3 1352.5,198.7 1354.2,208.9 1355.8,228.3 1357,240 1359.1,254.7 1360.6,258.1 1362,253.9 1363.5,250.3 1365.2,251.5 1366.8,254.7 1367.9,270.3 1369,283.2 1370.7,275.5 1372.3,270 1374.4,275.5 1376.6,283.2 1376.6,283.2 1327.2,283.2" fill="#FABE72"/><polyline points="1327.2,283.2 1329.4,257.7 1331.6,232.7 1333.2,232.1 1334.9,228.3 1337.1,233.6 1339.3,217.3 1340.4,229 1341.5,222 1342.6,212.5 1343.7,212.9 1345,222.3 1346.3,232.7 1347.7,219.7 1349,215 1350.8,194.3 1352.5,198.7 1354.2,208.9 1355.8,228.3 1357,240 1359.1,254.7 1360.6,258.1 1362,253.9 1363.5,250.3 1365.2,251.5 1366.8,254.7 1367.9,270.3 1369,283.2 1370.7,275.5 1372.3,270 1374.4,275.5 1376.6,283.2" fill="none" stroke="#F7861B" stroke-width="1.5" stroke-linejoin="round"/>
<line x1="1222.9" y1="283.2" x2="1222.9" y2="286.2" stroke="#999" stroke-width="1.2"/>
<line x1="1248.8" y1="283.2" x2="1248.8" y2="286.2" stroke="#999" stroke-width="1.2"/>
<line x1="1274.5" y1="283.2" x2="1274.5" y2="286.2" stroke="#999" stroke-width="1.2"/>
<line x1="1299.8" y1="283.2" x2="1299.8" y2="286.2" stroke="#999" stroke-width="1.2"/>
<line x1="1325" y1="283.2" x2="1325" y2="286.2" stroke="#999" stroke-width="1.2"/>
<line x1="1351.4" y1="283.2" x2="1351.4" y2="286.2" stroke="#999" stroke-width="1.2"/>
<line x1="1376.6" y1="283.2" x2="1376.6" y2="286.2" stroke="#999" stroke-width="1.2"/>
<line x1="1403" y1="283.2" x2="1403" y2="286.2" stroke="#999" stroke-width="1.2"/>
<line x1="1428.2" y1="283.2" x2="1428.2" y2="286.2" stroke="#999" stroke-width="1.2"/>
<line x1="1454.6" y1="283.2" x2="1454.6" y2="286.2" stroke="#999" stroke-width="1.2"/>
<line x1="1479.9" y1="283.2" x2="1479.9" y2="286.2" stroke="#999" stroke-width="1.2"/>
<line x1="1216.5" y1="405.3" x2="1494.8" y2="405.3" stroke="#A57542" stroke-width="1.6"/>
<polygon points="1346,405.3 1349.2,404 1352.5,398.5 1355,405.3 1365,405.3 1372,395 1378,362 1383,322 1387,302 1390.9,287.6 1395.3,309.6 1397.5,309.6 1400.8,366.6 1406.3,366.6 1408.5,399.6 1410.7,375.4 1412.9,399.6 1416.2,397.4 1420.6,398.5 1424,402 1427.2,405.3 1427.2,405.3 1346,405.3" fill="#FABE72"/>
<polygon points="1327,405.3 1330.5,404.5 1335,402.5 1339.3,402.2 1342.5,405 1346,404 1350,403 1353,398 1355.8,394.1 1357.5,404 1360,405 1363.5,397.4 1366,399 1367.9,388.6 1372,370 1376.6,355.7 1381,316.1 1383.2,311.8 1385,306 1387.6,296.4 1390.9,287.6 1394.2,311.8 1398.6,355.7 1401.5,380 1404.1,399.6 1408,402 1412,403 1418,404 1425,404.5 1431.5,405.3 1431.5,405.3 1327,405.3" fill="#E2D1F1"/>
<polyline points="1327,405.3 1330.5,404.5 1335,402.5 1339.3,402.2 1342.5,405 1346,404 1350,403 1353,398 1355.8,394.1 1357.5,404 1360,405 1363.5,397.4 1366,399 1367.9,388.6 1372,370" fill="none" stroke="#7B51AD" stroke-width="1.5" stroke-linejoin="round"/>
<polyline points="1401.5,380 1404.1,399.6 1408,402 1412,403 1418,404 1425,404.5 1431.5,405.3" fill="none" stroke="#7B51AD" stroke-width="1.3" stroke-linejoin="round"/>
<polyline points="1346,405.3 1349.2,404 1352.5,398.5 1355,405.3" fill="none" stroke="#F7861B" stroke-width="1.5" stroke-linejoin="round"/>
<polyline points="1390.9,287.6 1395.3,309.6 1397.5,309.6 1400.8,366.6 1406.3,366.6 1408.5,399.6 1410.7,375.4 1412.9,399.6 1416.2,397.4 1420.6,398.5 1424,402 1427.2,405.3" fill="none" stroke="#F7861B" stroke-width="1.5" stroke-linejoin="round"/>
<line x1="1236.1" y1="405.3" x2="1236.1" y2="408.3" stroke="#999" stroke-width="1.2"/>
<line x1="1263.6" y1="405.3" x2="1263.6" y2="408.3" stroke="#999" stroke-width="1.2"/>
<line x1="1289.9" y1="405.3" x2="1289.9" y2="408.3" stroke="#999" stroke-width="1.2"/>
<line x1="1317.4" y1="405.3" x2="1317.4" y2="408.3" stroke="#999" stroke-width="1.2"/>
<line x1="1343.7" y1="405.3" x2="1343.7" y2="408.3" stroke="#999" stroke-width="1.2"/>
<line x1="1371.2" y1="405.3" x2="1371.2" y2="408.3" stroke="#999" stroke-width="1.2"/>
<line x1="1397.5" y1="405.3" x2="1397.5" y2="408.3" stroke="#999" stroke-width="1.2"/>
<line x1="1425" y1="405.3" x2="1425" y2="408.3" stroke="#999" stroke-width="1.2"/>
<line x1="1451.3" y1="405.3" x2="1451.3" y2="408.3" stroke="#999" stroke-width="1.2"/>
<line x1="1478.8" y1="405.3" x2="1478.8" y2="408.3" stroke="#999" stroke-width="1.2"/>
<line x1="1216.5" y1="508" x2="1494.8" y2="508" stroke="#A57542" stroke-width="1.6"/>
<polygon points="1286.6,508 1288.3,507.2 1290,506.5 1291.8,506 1293.6,505.2 1295.4,505 1296.9,505.5 1298.5,505.5 1300,505.5 1302.1,505.3 1304.2,505 1305.3,501.4 1306.4,498.8 1308.6,497.8 1310.8,496.6 1312.4,499.1 1314,499 1315.7,500.5 1317.4,501 1319.6,498.4 1321.8,494.4 1323.4,496.6 1325,497 1326.7,498.1 1328.3,496.6 1329.8,493.4 1331.2,489.6 1332.7,485.6 1334.3,487 1336,492.2 1337.7,492.9 1339.3,496.6 1340.8,493.2 1342.2,490.3 1343.7,486.7 1345.3,485.2 1347,487.8 1348.7,480 1350.3,479 1351.4,470.2 1352.5,465.9 1354.3,422 1355.8,403.3 1357.3,422 1359.1,465.9 1360.2,472.3 1361.3,485.6 1362.8,483.8 1364.2,491.8 1365.7,490 1367.3,488.7 1369,492 1370.7,491.4 1372.3,487.8 1373.7,490.1 1375,492 1376.9,492.8 1378.8,496.6 1380.4,500.2 1382,505 1383.5,506.7 1385,508 1385,508 1286.6,508" fill="#E2D1F1"/><polyline points="1286.6,508 1288.3,507.2 1290,506.5 1291.8,506 1293.6,505.2 1295.4,505 1296.9,505.5 1298.5,505.5 1300,505.5 1302.1,505.3 1304.2,505 1305.3,501.4 1306.4,498.8 1308.6,497.8 1310.8,496.6 1312.4,499.1 1314,499 1315.7,500.5 1317.4,501 1319.6,498.4 1321.8,494.4 1323.4,496.6 1325,497 1326.7,498.1 1328.3,496.6 1329.8,493.4 1331.2,489.6 1332.7,485.6 1334.3,487 1336,492.2 1337.7,492.9 1339.3,496.6 1340.8,493.2 1342.2,490.3 1343.7,486.7 1345.3,485.2 1347,487.8 1348.7,480 1350.3,479 1351.4,470.2 1352.5,465.9 1354.3,422 1355.8,403.3 1357.3,422 1359.1,465.9 1360.2,472.3 1361.3,485.6 1362.8,483.8 1364.2,491.8 1365.7,490 1367.3,488.7 1369,492 1370.7,491.4 1372.3,487.8 1373.7,490.1 1375,492 1376.9,492.8 1378.8,496.6 1380.4,500.2 1382,505 1383.5,506.7 1385,508" fill="none" stroke="#7B51AD" stroke-width="1.5" stroke-linejoin="round"/>
<polygon points="1332.7,508 1334.5,507.2 1336.3,506.7 1338.2,505.9 1340,505 1342,505.2 1344,506 1346,503.6 1348.1,501 1350,498.2 1352,496 1353.6,492.1 1355.3,488.5 1356.9,487.8 1359.1,484.7 1361.3,485.6 1362.7,491.8 1364,491 1366,489.4 1367.9,486.7 1369.2,484.2 1370.5,481 1372,484.5 1373.4,479 1375.6,489.7 1377.7,501 1378.8,495.5 1380,491 1382.2,481.1 1384.3,476.9 1385.9,480.7 1387.5,492 1388.8,491.5 1390,486 1391.5,493.1 1393,497 1394.2,491.5 1395.3,487.8 1396.9,496.2 1398.5,501 1400.2,499 1402,495 1404.2,488.1 1406.3,482.3 1407.9,492.7 1409.5,499 1411.2,490.7 1412.9,485.6 1414.5,491.4 1416,501 1418,499.7 1420,495 1422,491.3 1424.1,485.9 1426.1,484.5 1427.8,486.6 1429.5,495 1431,496.7 1432.5,497.7 1434,497 1435.7,496.3 1437.3,496.9 1439,499 1440.9,498.6 1442.8,496.2 1444.7,494.4 1446.8,496.1 1448.9,498.4 1451,502 1452.6,503.7 1454.1,504 1455.7,505.4 1457.8,503.8 1460,503 1461.5,500 1463,498.6 1464.5,494.4 1466,498.2 1467.5,498.9 1469,500 1471.2,494.2 1473.3,491.1 1475.4,498 1477.5,501 1479.2,500.9 1480.9,498.2 1482.6,497.9 1484.3,494.4 1485.9,502.1 1487.6,508 1487.6,508 1332.7,508" fill="#FABE72"/><polyline points="1332.7,508 1334.5,507.2 1336.3,506.7 1338.2,505.9 1340,505 1342,505.2 1344,506 1346,503.6 1348.1,501 1350,498.2 1352,496 1353.6,492.1 1355.3,488.5 1356.9,487.8 1359.1,484.7 1361.3,485.6 1362.7,491.8 1364,491 1366,489.4 1367.9,486.7 1369.2,484.2 1370.5,481 1372,484.5 1373.4,479 1375.6,489.7 1377.7,501 1378.8,495.5 1380,491 1382.2,481.1 1384.3,476.9 1385.9,480.7 1387.5,492 1388.8,491.5 1390,486 1391.5,493.1 1393,497 1394.2,491.5 1395.3,487.8 1396.9,496.2 1398.5,501 1400.2,499 1402,495 1404.2,488.1 1406.3,482.3 1407.9,492.7 1409.5,499 1411.2,490.7 1412.9,485.6 1414.5,491.4 1416,501 1418,499.7 1420,495 1422,491.3 1424.1,485.9 1426.1,484.5 1427.8,486.6 1429.5,495 1431,496.7 1432.5,497.7 1434,497 1435.7,496.3 1437.3,496.9 1439,499 1440.9,498.6 1442.8,496.2 1444.7,494.4 1446.8,496.1 1448.9,498.4 1451,502 1452.6,503.7 1454.1,504 1455.7,505.4 1457.8,503.8 1460,503 1461.5,500 1463,498.6 1464.5,494.4 1466,498.2 1467.5,498.9 1469,500 1471.2,494.2 1473.3,491.1 1475.4,498 1477.5,501 1479.2,500.9 1480.9,498.2 1482.6,497.9 1484.3,494.4 1485.9,502.1 1487.6,508" fill="none" stroke="#F7861B" stroke-width="1.5" stroke-linejoin="round"/>
<line x1="1222.5" y1="508" x2="1222.5" y2="511" stroke="#999" stroke-width="1.2"/>
<line x1="1249.3" y1="508" x2="1249.3" y2="511" stroke="#999" stroke-width="1.2"/>
<line x1="1276.7" y1="508" x2="1276.7" y2="511" stroke="#999" stroke-width="1.2"/>
<line x1="1303.1" y1="508" x2="1303.1" y2="511" stroke="#999" stroke-width="1.2"/>
<line x1="1330.5" y1="508" x2="1330.5" y2="511" stroke="#999" stroke-width="1.2"/>
<line x1="1356.9" y1="508" x2="1356.9" y2="511" stroke="#999" stroke-width="1.2"/>
<line x1="1384.3" y1="508" x2="1384.3" y2="511" stroke="#999" stroke-width="1.2"/>
<line x1="1410.7" y1="508" x2="1410.7" y2="511" stroke="#999" stroke-width="1.2"/>
<line x1="1438.1" y1="508" x2="1438.1" y2="511" stroke="#999" stroke-width="1.2"/>
<line x1="1464.5" y1="508" x2="1464.5" y2="511" stroke="#999" stroke-width="1.2"/>
<line x1="1491.9" y1="508" x2="1491.9" y2="511" stroke="#999" stroke-width="1.2"/>
<line x1="1216.5" y1="619.1" x2="1494.8" y2="619.1" stroke="#A57542" stroke-width="1.6"/>
<polygon points="1254.8,619.1 1255.9,618.2 1257,617 1258.5,617.5 1260,618 1261.2,617.7 1262.4,617.5 1264.2,615.8 1266,614 1267.5,614.2 1269,613 1270.5,614.8 1272,616 1273.8,614.9 1275.5,614 1277.2,612.9 1279,613.5 1280.6,610.9 1282.2,610.8 1284.1,612.6 1286,613 1287.8,614.1 1289.5,612.3 1291.2,612.1 1293,613 1295,612.4 1297,610.9 1299,611 1300.8,609.6 1302.7,610 1304.6,608.8 1306.4,609.7 1308.2,607.1 1310.1,601.1 1311.9,594.3 1313.7,598.9 1315.5,600 1317.2,602.6 1319,600 1320.4,591.4 1321.8,590 1323.4,599.9 1325,602 1326.8,601.6 1328.7,605.8 1330.5,604 1332,603.4 1333.4,601.7 1334.9,599.8 1337,600.3 1339,596 1340.6,594.9 1342.1,593.8 1343.7,593.2 1345.8,595.7 1348,595 1349.7,584.9 1351.4,580.1 1352.8,560.3 1354.3,524.1 1355.6,559.5 1356.9,580.1 1358.5,590.6 1360,598 1361.9,601.6 1363.8,605.2 1365.7,606.4 1367.8,607.1 1370,611 1371.7,612.3 1373.3,615.6 1375,617 1376.5,618.1 1378,619.1 1378,619.1 1254.8,619.1" fill="#E2D1F1"/><polyline points="1254.8,619.1 1255.9,618.2 1257,617 1258.5,617.5 1260,618 1261.2,617.7 1262.4,617.5 1264.2,615.8 1266,614 1267.5,614.2 1269,613 1270.5,614.8 1272,616 1273.8,614.9 1275.5,614 1277.2,612.9 1279,613.5 1280.6,610.9 1282.2,610.8 1284.1,612.6 1286,613 1287.8,614.1 1289.5,612.3 1291.2,612.1 1293,613 1295,612.4 1297,610.9 1299,611 1300.8,609.6 1302.7,610 1304.6,608.8 1306.4,609.7 1308.2,607.1 1310.1,601.1 1311.9,594.3 1313.7,598.9 1315.5,600 1317.2,602.6 1319,600 1320.4,591.4 1321.8,590 1323.4,599.9 1325,602 1326.8,601.6 1328.7,605.8 1330.5,604 1332,603.4 1333.4,601.7 1334.9,599.8 1337,600.3 1339,596 1340.6,594.9 1342.1,593.8 1343.7,593.2 1345.8,595.7 1348,595 1349.7,584.9 1351.4,580.1 1352.8,560.3 1354.3,524.1 1355.6,559.5 1356.9,580.1 1358.5,590.6 1360,598 1361.9,601.6 1363.8,605.2 1365.7,606.4 1367.8,607.1 1370,611 1371.7,612.3 1373.3,615.6 1375,617 1376.5,618.1 1378,619.1" fill="none" stroke="#7B51AD" stroke-width="1.5" stroke-linejoin="round"/>
<polygon points="1328.3,619.1 1330,617.7 1331.7,616.1 1333.3,614.9 1335,613 1337.2,615.2 1339.3,617.5 1340.8,614.8 1342.2,613.4 1343.7,611 1345.5,605.5 1347.4,600.7 1349.2,596.5 1350.8,602.4 1352.5,611 1354,610.3 1355.5,605.2 1357,604 1359.2,597.4 1361.3,596 1363.5,593.2 1365,598.5 1366.5,599.2 1368,604 1370.2,597.5 1372.3,594 1374.4,592.2 1376.6,593.2 1378.1,600.8 1379.5,600.3 1381,608 1383.2,603.5 1385.4,603.8 1387.6,601 1389.5,597.8 1391.4,599.8 1393.4,589 1395.3,591 1396.8,595.2 1398.2,603.6 1399.7,611 1401.5,607 1403.2,606.6 1405,602 1406.5,602.5 1408.1,602.2 1409.6,599.8 1411.1,598.8 1412.5,602 1414,598.7 1415.7,604 1417.3,613 1419.1,610.1 1421,607.2 1422.8,604 1424.3,608.2 1425.7,608 1427.2,611 1429.4,606.9 1431.6,605.3 1433.1,607.3 1434.5,611.2 1436,613 1438.2,611.6 1440.4,612.6 1442.6,611 1444.2,610.6 1445.9,611.8 1447.5,613 1449.2,613 1451.4,612.2 1453.5,611.2 1455.7,610.8 1457.8,614.4 1460,617 1461.5,617.5 1463,618.4 1464.5,619.1 1466.7,613.9 1468.9,608.8 1471.1,605.3 1472.6,608.9 1474,608.6 1475.5,611 1477,610.5 1478.5,607.8 1480,607.6 1481.8,609.6 1483.6,612 1485.4,614 1487.3,612.9 1489.1,614.3 1491,613 1492.5,616 1494.1,619.1 1494.1,619.1 1328.3,619.1" fill="#FABE72"/><polyline points="1328.3,619.1 1330,617.7 1331.7,616.1 1333.3,614.9 1335,613 1337.2,615.2 1339.3,617.5 1340.8,614.8 1342.2,613.4 1343.7,611 1345.5,605.5 1347.4,600.7 1349.2,596.5 1350.8,602.4 1352.5,611 1354,610.3 1355.5,605.2 1357,604 1359.2,597.4 1361.3,596 1363.5,593.2 1365,598.5 1366.5,599.2 1368,604 1370.2,597.5 1372.3,594 1374.4,592.2 1376.6,593.2 1378.1,600.8 1379.5,600.3 1381,608 1383.2,603.5 1385.4,603.8 1387.6,601 1389.5,597.8 1391.4,599.8 1393.4,589 1395.3,591 1396.8,595.2 1398.2,603.6 1399.7,611 1401.5,607 1403.2,606.6 1405,602 1406.5,602.5 1408.1,602.2 1409.6,599.8 1411.1,598.8 1412.5,602 1414,598.7 1415.7,604 1417.3,613 1419.1,610.1 1421,607.2 1422.8,604 1424.3,608.2 1425.7,608 1427.2,611 1429.4,606.9 1431.6,605.3 1433.1,607.3 1434.5,611.2 1436,613 1438.2,611.6 1440.4,612.6 1442.6,611 1444.2,610.6 1445.9,611.8 1447.5,613 1449.2,613 1451.4,612.2 1453.5,611.2 1455.7,610.8 1457.8,614.4 1460,617 1461.5,617.5 1463,618.4 1464.5,619.1 1466.7,613.9 1468.9,608.8 1471.1,605.3 1472.6,608.9 1474,608.6 1475.5,611 1477,610.5 1478.5,607.8 1480,607.6 1481.8,609.6 1483.6,612 1485.4,614 1487.3,612.9 1489.1,614.3 1491,613 1492.5,616 1494.1,619.1" fill="none" stroke="#F7861B" stroke-width="1.5" stroke-linejoin="round"/>
<line x1="1222.5" y1="619.1" x2="1222.5" y2="622.1" stroke="#999" stroke-width="1.2"/>
<line x1="1249.3" y1="619.1" x2="1249.3" y2="622.1" stroke="#999" stroke-width="1.2"/>
<line x1="1276.7" y1="619.1" x2="1276.7" y2="622.1" stroke="#999" stroke-width="1.2"/>
<line x1="1303.1" y1="619.1" x2="1303.1" y2="622.1" stroke="#999" stroke-width="1.2"/>
<line x1="1330.5" y1="619.1" x2="1330.5" y2="622.1" stroke="#999" stroke-width="1.2"/>
<line x1="1356.9" y1="619.1" x2="1356.9" y2="622.1" stroke="#999" stroke-width="1.2"/>
<line x1="1384.3" y1="619.1" x2="1384.3" y2="622.1" stroke="#999" stroke-width="1.2"/>
<line x1="1410.7" y1="619.1" x2="1410.7" y2="622.1" stroke="#999" stroke-width="1.2"/>
<line x1="1438.1" y1="619.1" x2="1438.1" y2="622.1" stroke="#999" stroke-width="1.2"/>
<line x1="1464.5" y1="619.1" x2="1464.5" y2="622.1" stroke="#999" stroke-width="1.2"/>
<line x1="1491.9" y1="619.1" x2="1491.9" y2="622.1" stroke="#999" stroke-width="1.2"/>
<line x1="1216.5" y1="730.6" x2="1494.8" y2="730.6" stroke="#A57542" stroke-width="1.6"/>
<polygon points="1253.7,730.6 1254.8,729.6 1256,728.5 1257.2,729.5 1258.5,730 1260.6,729.9 1262.7,729.9 1264.8,729.8 1266.9,729.9 1268.9,729.6 1271,729.5 1273,729 1275,729 1277,728.5 1279,727.9 1281,726.5 1282.9,725.8 1284.7,726.1 1286.6,725.5 1288.4,727.1 1290.2,728.1 1292,729.9 1293.7,725.8 1295.4,721.1 1297.6,721.7 1299.8,724.4 1301.3,723.7 1302.7,724.1 1304.2,723.3 1306.4,725.8 1308.6,726.6 1310.2,721 1311.9,713.4 1313.7,711.4 1315.6,715.4 1317.4,715.6 1319.6,713.6 1321.8,706.9 1323.3,710.3 1324.7,707.7 1326.2,712.4 1328.3,713.6 1330.5,710.2 1332,702.9 1333.4,704.6 1334.9,695.9 1337,700 1338.2,690 1339.3,691.5 1341,698 1342.3,692.1 1343.7,687.1 1345,698.8 1346.3,698 1348.3,682.8 1350.3,680.5 1352.2,669 1354,650.9 1355.5,659.1 1356.9,678.3 1359.1,696 1360.5,705.3 1362,715 1363.5,723.9 1365,730.6 1365,730.6 1253.7,730.6" fill="#E2D1F1"/><polyline points="1253.7,730.6 1254.8,729.6 1256,728.5 1257.2,729.5 1258.5,730 1260.6,729.9 1262.7,729.9 1264.8,729.8 1266.9,729.9 1268.9,729.6 1271,729.5 1273,729 1275,729 1277,728.5 1279,727.9 1281,726.5 1282.9,725.8 1284.7,726.1 1286.6,725.5 1288.4,727.1 1290.2,728.1 1292,729.9 1293.7,725.8 1295.4,721.1 1297.6,721.7 1299.8,724.4 1301.3,723.7 1302.7,724.1 1304.2,723.3 1306.4,725.8 1308.6,726.6 1310.2,721 1311.9,713.4 1313.7,711.4 1315.6,715.4 1317.4,715.6 1319.6,713.6 1321.8,706.9 1323.3,710.3 1324.7,707.7 1326.2,712.4 1328.3,713.6 1330.5,710.2 1332,702.9 1333.4,704.6 1334.9,695.9 1337,700 1338.2,690 1339.3,691.5 1341,698 1342.3,692.1 1343.7,687.1 1345,698.8 1346.3,698 1348.3,682.8 1350.3,680.5 1352.2,669 1354,650.9 1355.5,659.1 1356.9,678.3 1359.1,696 1360.5,705.3 1362,715 1363.5,723.9 1365,730.6" fill="none" stroke="#7B51AD" stroke-width="1.5" stroke-linejoin="round"/>
<polygon points="1324,730.6 1325.6,725.1 1327.2,717.8 1328.8,719.4 1330.5,717.8 1332.2,718.4 1333.8,715.6 1335.4,719.9 1337.1,720 1338.6,722 1340,719.1 1341.5,721.1 1343.3,718.1 1345.2,710.8 1347,705.8 1348.7,714.4 1350.3,717.8 1351.8,717.2 1353.2,711.8 1354.7,711.3 1356.3,694.9 1358,688.2 1359.7,693.5 1361.3,698 1362.9,702 1364.6,693.7 1366.2,693.6 1367.9,704.7 1369.6,699.2 1371.2,681.6 1372.8,684.6 1374.5,683.8 1376.1,682.6 1377.7,682.7 1379.3,678.5 1381,687.1 1382.7,697.9 1384.3,715.6 1385.4,701.9 1386.5,690.4 1388.2,707.2 1389.8,722.2 1391.4,721.2 1393.1,722.2 1394.2,714.3 1395.3,710.2 1396.4,715.5 1397.5,724.4 1399.2,725.1 1400.8,726.6 1401.9,728.9 1403,730.6 1403,730.6 1324,730.6" fill="#FABE72"/><polyline points="1324,730.6 1325.6,725.1 1327.2,717.8 1328.8,719.4 1330.5,717.8 1332.2,718.4 1333.8,715.6 1335.4,719.9 1337.1,720 1338.6,722 1340,719.1 1341.5,721.1 1343.3,718.1 1345.2,710.8 1347,705.8 1348.7,714.4 1350.3,717.8 1351.8,717.2 1353.2,711.8 1354.7,711.3 1356.3,694.9 1358,688.2 1359.7,693.5 1361.3,698 1362.9,702 1364.6,693.7 1366.2,693.6 1367.9,704.7 1369.6,699.2 1371.2,681.6 1372.8,684.6 1374.5,683.8 1376.1,682.6 1377.7,682.7 1379.3,678.5 1381,687.1 1382.7,697.9 1384.3,715.6 1385.4,701.9 1386.5,690.4 1388.2,707.2 1389.8,722.2 1391.4,721.2 1393.1,722.2 1394.2,714.3 1395.3,710.2 1396.4,715.5 1397.5,724.4 1399.2,725.1 1400.8,726.6 1401.9,728.9 1403,730.6" fill="none" stroke="#F7861B" stroke-width="1.5" stroke-linejoin="round"/>
<line x1="1222.5" y1="730.6" x2="1222.5" y2="733.6" stroke="#999" stroke-width="1.2"/>
<line x1="1249.3" y1="730.6" x2="1249.3" y2="733.6" stroke="#999" stroke-width="1.2"/>
<line x1="1276.7" y1="730.6" x2="1276.7" y2="733.6" stroke="#999" stroke-width="1.2"/>
<line x1="1303.1" y1="730.6" x2="1303.1" y2="733.6" stroke="#999" stroke-width="1.2"/>
<line x1="1330.5" y1="730.6" x2="1330.5" y2="733.6" stroke="#999" stroke-width="1.2"/>
<line x1="1356.9" y1="730.6" x2="1356.9" y2="733.6" stroke="#999" stroke-width="1.2"/>
<line x1="1384.3" y1="730.6" x2="1384.3" y2="733.6" stroke="#999" stroke-width="1.2"/>
<line x1="1410.7" y1="730.6" x2="1410.7" y2="733.6" stroke="#999" stroke-width="1.2"/>
<line x1="1438.1" y1="730.6" x2="1438.1" y2="733.6" stroke="#999" stroke-width="1.2"/>
<line x1="1464.5" y1="730.6" x2="1464.5" y2="733.6" stroke="#999" stroke-width="1.2"/>
<line x1="1491.9" y1="730.6" x2="1491.9" y2="733.6" stroke="#999" stroke-width="1.2"/>
<line x1="1216.5" y1="842.3" x2="1494.8" y2="842.3" stroke="#A57542" stroke-width="1.6"/>
<polygon points="1269,842.3 1271,840 1273,840.6 1275,841 1276.5,839.8 1278,838.5 1280,839.2 1282,840 1283.5,838.8 1285.1,838.7 1286.6,837.5 1288.3,838 1290,839 1291.8,839 1293.6,838.3 1295.4,838.5 1297.6,838.5 1299.8,837.5 1302,837 1303.5,837 1304.9,835.9 1306.4,834.2 1307.7,830.5 1309,830 1311,828.7 1313,825.4 1314.5,823.8 1315.9,826.7 1317.4,827.6 1319.6,819.1 1321.8,801.3 1323.4,789.7 1325,788.1 1326.5,794.3 1328,782 1329.4,768.3 1331.1,759.6 1332.7,768.3 1334.3,794.1 1336,799.1 1337.8,792.5 1339.7,797.8 1341.5,788.1 1342.8,796.8 1344,800 1346,810.6 1348,830 1350,836.2 1352,842.3 1352,842.3 1269,842.3" fill="#E2D1F1"/><polyline points="1269,842.3 1271,840 1273,840.6 1275,841 1276.5,839.8 1278,838.5 1280,839.2 1282,840 1283.5,838.8 1285.1,838.7 1286.6,837.5 1288.3,838 1290,839 1291.8,839 1293.6,838.3 1295.4,838.5 1297.6,838.5 1299.8,837.5 1302,837 1303.5,837 1304.9,835.9 1306.4,834.2 1307.7,830.5 1309,830 1311,828.7 1313,825.4 1314.5,823.8 1315.9,826.7 1317.4,827.6 1319.6,819.1 1321.8,801.3 1323.4,789.7 1325,788.1 1326.5,794.3 1328,782 1329.4,768.3 1331.1,759.6 1332.7,768.3 1334.3,794.1 1336,799.1 1337.8,792.5 1339.7,797.8 1341.5,788.1 1342.8,796.8 1344,800 1346,810.6 1348,830 1350,836.2 1352,842.3" fill="none" stroke="#7B51AD" stroke-width="1.5" stroke-linejoin="round"/>
<polygon points="1313,842.3 1315.2,840.2 1317.4,837.9 1319.6,837.1 1321.8,834.2 1323.6,822.6 1325.4,811.2 1327.2,805.7 1329,813.1 1330.9,811.8 1332.7,815.6 1334.3,813.1 1336,805.7 1337.7,803.7 1339.3,807.9 1340.9,806.4 1342.6,790.3 1344.2,777.9 1345.9,766.1 1348.1,796.9 1349.9,743.1 1351.2,755.1 1352.5,783.7 1354,785.9 1355.4,803.3 1356.9,803.5 1359.1,808.6 1361.3,821 1362.8,827.7 1364.2,830 1365.7,836.4 1367.3,839.4 1369,842.3 1370.7,839.7 1372.3,836.4 1373.9,839.1 1375.6,842.3 1377.7,842.3 1377.7,842.3 1313,842.3" fill="#FABE72"/><polyline points="1313,842.3 1315.2,840.2 1317.4,837.9 1319.6,837.1 1321.8,834.2 1323.6,822.6 1325.4,811.2 1327.2,805.7 1329,813.1 1330.9,811.8 1332.7,815.6 1334.3,813.1 1336,805.7 1337.7,803.7 1339.3,807.9 1340.9,806.4 1342.6,790.3 1344.2,777.9 1345.9,766.1 1348.1,796.9 1349.9,743.1 1351.2,755.1 1352.5,783.7 1354,785.9 1355.4,803.3 1356.9,803.5 1359.1,808.6 1361.3,821 1362.8,827.7 1364.2,830 1365.7,836.4 1367.3,839.4 1369,842.3 1370.7,839.7 1372.3,836.4 1373.9,839.1 1375.6,842.3 1377.7,842.3" fill="none" stroke="#F7861B" stroke-width="1.5" stroke-linejoin="round"/>
<line x1="1222.5" y1="842.3" x2="1222.5" y2="845.3" stroke="#999" stroke-width="1.2"/>
<line x1="1249.3" y1="842.3" x2="1249.3" y2="845.3" stroke="#999" stroke-width="1.2"/>
<line x1="1276.7" y1="842.3" x2="1276.7" y2="845.3" stroke="#999" stroke-width="1.2"/>
<line x1="1303.1" y1="842.3" x2="1303.1" y2="845.3" stroke="#999" stroke-width="1.2"/>
<line x1="1330.5" y1="842.3" x2="1330.5" y2="845.3" stroke="#999" stroke-width="1.2"/>
<line x1="1356.9" y1="842.3" x2="1356.9" y2="845.3" stroke="#999" stroke-width="1.2"/>
<line x1="1384.3" y1="842.3" x2="1384.3" y2="845.3" stroke="#999" stroke-width="1.2"/>
<line x1="1410.7" y1="842.3" x2="1410.7" y2="845.3" stroke="#999" stroke-width="1.2"/>
<line x1="1438.1" y1="842.3" x2="1438.1" y2="845.3" stroke="#999" stroke-width="1.2"/>
<line x1="1464.5" y1="842.3" x2="1464.5" y2="845.3" stroke="#999" stroke-width="1.2"/>
<line x1="1491.9" y1="842.3" x2="1491.9" y2="845.3" stroke="#999" stroke-width="1.2"/>
<line x1="1200.3" y1="933.5" x2="1494.8" y2="933.5" stroke="#A57542" stroke-width="1.6"/>
<polygon points="1280,933.5 1282.2,927.3 1284.3,922.4 1286.2,925.2 1288.2,929.2 1289.8,927.7 1291.4,928.4 1293,927.3 1294.2,924 1295.5,918.6 1296.7,924.3 1297.9,927.3 1299.9,926.6 1302,926.4 1304,926 1306,925 1307.8,924.6 1309.7,924.7 1311.5,925.2 1313.4,923 1315.2,922.4 1317.1,921.3 1319,918 1321,915.2 1323,911.8 1324.9,899.6 1326.8,896.4 1328.2,895.6 1329.5,885 1330.8,878.9 1332.2,878 1333.8,890.9 1335.5,908 1337,916.6 1338.4,922.4 1340,921.9 1341.7,919 1343.3,920.5 1344.9,919.7 1346.5,916.1 1348.1,915.7 1350,918.9 1352,925.3 1353.9,928.5 1355.8,931.2 1357.2,932.1 1358.7,933.5 1360.2,929.7 1361.6,926.3 1363.5,924.8 1365.5,923.4 1367,925.7 1368.4,929.2 1370,927.1 1371.6,924 1373.2,922.4 1375.2,922.9 1377.1,921.5 1379,921.9 1381,925.2 1382.9,927.3 1384.8,927.2 1386.8,926 1388.7,923.9 1390.6,924.4 1392.5,923.9 1394.5,925.3 1396.5,926.3 1398.4,927.3 1400.3,929.9 1402.2,932.1 1403.7,929.9 1405.1,927.3 1407,927.9 1409,930.2 1410.9,930.2 1412.8,929.2 1414.8,929.7 1416.7,931.2 1418.3,929.4 1419.9,929.1 1421.5,927.3 1423.5,929 1425.4,930.2 1427.3,928.6 1429.3,927.3 1431.2,928.2 1433.1,930.2 1435,931.4 1437,933.1 1438.9,930.7 1440.8,929.2 1442.8,929.1 1444.7,928.2 1446.6,929.7 1448.6,930.2 1450.5,931.2 1452.5,930.6 1454.4,930.2 1456.3,930.5 1458.2,931.2 1460.1,931.4 1462.1,930.8 1464,930.8 1465.6,929 1467.2,927.7 1468.8,927.3 1470.2,929.1 1471.7,932.1 1473.6,931.5 1475.6,931.2 1477.5,931.2 1479.5,932 1481.4,932.1 1483.3,930.9 1485.3,930.7 1487.2,929.6 1489.1,931.3 1491,932.7 1492.8,933.1 1494.5,933.5 1494.5,933.5 1280,933.5" fill="#E2D1F1"/><polyline points="1280,933.5 1282.2,927.3 1284.3,922.4 1286.2,925.2 1288.2,929.2 1289.8,927.7 1291.4,928.4 1293,927.3 1294.2,924 1295.5,918.6 1296.7,924.3 1297.9,927.3 1299.9,926.6 1302,926.4 1304,926 1306,925 1307.8,924.6 1309.7,924.7 1311.5,925.2 1313.4,923 1315.2,922.4 1317.1,921.3 1319,918 1321,915.2 1323,911.8 1324.9,899.6 1326.8,896.4 1328.2,895.6 1329.5,885 1330.8,878.9 1332.2,878 1333.8,890.9 1335.5,908 1337,916.6 1338.4,922.4 1340,921.9 1341.7,919 1343.3,920.5 1344.9,919.7 1346.5,916.1 1348.1,915.7 1350,918.9 1352,925.3 1353.9,928.5 1355.8,931.2 1357.2,932.1 1358.7,933.5 1360.2,929.7 1361.6,926.3 1363.5,924.8 1365.5,923.4 1367,925.7 1368.4,929.2 1370,927.1 1371.6,924 1373.2,922.4 1375.2,922.9 1377.1,921.5 1379,921.9 1381,925.2 1382.9,927.3 1384.8,927.2 1386.8,926 1388.7,923.9 1390.6,924.4 1392.5,923.9 1394.5,925.3 1396.5,926.3 1398.4,927.3 1400.3,929.9 1402.2,932.1 1403.7,929.9 1405.1,927.3 1407,927.9 1409,930.2 1410.9,930.2 1412.8,929.2 1414.8,929.7 1416.7,931.2 1418.3,929.4 1419.9,929.1 1421.5,927.3 1423.5,929 1425.4,930.2 1427.3,928.6 1429.3,927.3 1431.2,928.2 1433.1,930.2 1435,931.4 1437,933.1 1438.9,930.7 1440.8,929.2 1442.8,929.1 1444.7,928.2 1446.6,929.7 1448.6,930.2 1450.5,931.2 1452.5,930.6 1454.4,930.2 1456.3,930.5 1458.2,931.2 1460.1,931.4 1462.1,930.8 1464,930.8 1465.6,929 1467.2,927.7 1468.8,927.3 1470.2,929.1 1471.7,932.1 1473.6,931.5 1475.6,931.2 1477.5,931.2 1479.5,932 1481.4,932.1 1483.3,930.9 1485.3,930.7 1487.2,929.6 1489.1,931.3 1491,932.7 1492.8,933.1 1494.5,933.5" fill="none" stroke="#7B51AD" stroke-width="1.5" stroke-linejoin="round"/>
<polygon points="1200.3,933.5 1201.9,930.3 1203.5,927.8 1205.1,925.3 1206.7,923 1208.4,920.2 1210,916.7 1211.4,917 1212.8,921.5 1214.2,914.2 1215.7,910.9 1217.2,915.9 1218.6,915.7 1220,916 1221.5,912.8 1223.1,912.2 1224.8,912 1226.4,908 1228.3,924.4 1230.2,917.7 1232.2,911.8 1233.8,911.9 1235.4,906.6 1237,905.1 1238.5,910.6 1239.9,922.4 1241.8,911.3 1243.8,905.1 1245.2,915.4 1246.7,919.6 1248.2,917.6 1249.6,911.8 1251,912.5 1252.4,911.8 1253.8,913.7 1255.3,917.6 1256.8,924.3 1258.2,930.2 1259.8,924.6 1261.5,918.2 1263.1,910.9 1264.5,917.2 1266,919.6 1267.5,914.5 1268.9,913.8 1270.8,920.6 1272.7,929.2 1274.2,920.5 1275.6,910.9 1277,912.4 1278.5,916.7 1280,915.1 1281.4,913.8 1282.8,920.4 1284.3,927.3 1285.8,930.4 1287.2,933.1 1289.2,930.2 1291.1,927.3 1293,927.3 1295,929.2 1296.9,923.5 1298.8,919.6 1300.8,920.1 1302.7,923.4 1304.3,925.3 1305.9,924.7 1307.5,925.3 1309.4,923.9 1311.4,923.3 1313.3,919.6 1314.8,924.7 1316.2,929.2 1317.7,928.6 1319.1,926.3 1321,926.5 1323,925.3 1324.9,928.7 1326.8,933.1 1328.7,929.3 1330.7,925.4 1332.6,922.4 1334,927.8 1335.5,931.2 1337.5,932.3 1339.4,933.1 1341.3,930.8 1343.3,927.3 1345.2,930.8 1347.1,933.5 1347.1,933.5 1200.3,933.5" fill="#FABE72"/><polyline points="1200.3,933.5 1201.9,930.3 1203.5,927.8 1205.1,925.3 1206.7,923 1208.4,920.2 1210,916.7 1211.4,917 1212.8,921.5 1214.2,914.2 1215.7,910.9 1217.2,915.9 1218.6,915.7 1220,916 1221.5,912.8 1223.1,912.2 1224.8,912 1226.4,908 1228.3,924.4 1230.2,917.7 1232.2,911.8 1233.8,911.9 1235.4,906.6 1237,905.1 1238.5,910.6 1239.9,922.4 1241.8,911.3 1243.8,905.1 1245.2,915.4 1246.7,919.6 1248.2,917.6 1249.6,911.8 1251,912.5 1252.4,911.8 1253.8,913.7 1255.3,917.6 1256.8,924.3 1258.2,930.2 1259.8,924.6 1261.5,918.2 1263.1,910.9 1264.5,917.2 1266,919.6 1267.5,914.5 1268.9,913.8 1270.8,920.6 1272.7,929.2 1274.2,920.5 1275.6,910.9 1277,912.4 1278.5,916.7 1280,915.1 1281.4,913.8 1282.8,920.4 1284.3,927.3 1285.8,930.4 1287.2,933.1 1289.2,930.2 1291.1,927.3 1293,927.3 1295,929.2 1296.9,923.5 1298.8,919.6 1300.8,920.1 1302.7,923.4 1304.3,925.3 1305.9,924.7 1307.5,925.3 1309.4,923.9 1311.4,923.3 1313.3,919.6 1314.8,924.7 1316.2,929.2 1317.7,928.6 1319.1,926.3 1321,926.5 1323,925.3 1324.9,928.7 1326.8,933.1 1328.7,929.3 1330.7,925.4 1332.6,922.4 1334,927.8 1335.5,931.2 1337.5,932.3 1339.4,933.1 1341.3,930.8 1343.3,927.3 1345.2,930.8 1347.1,933.5" fill="none" stroke="#F7861B" stroke-width="1.5" stroke-linejoin="round"/>
<line x1="1200.3" y1="933.5" x2="1200.3" y2="936.5" stroke="#999" stroke-width="1.2"/>
<line x1="1227.1" y1="933.5" x2="1227.1" y2="936.5" stroke="#999" stroke-width="1.2"/>
<line x1="1254" y1="933.5" x2="1254" y2="936.5" stroke="#999" stroke-width="1.2"/>
<line x1="1280.8" y1="933.5" x2="1280.8" y2="936.5" stroke="#999" stroke-width="1.2"/>
<line x1="1307.5" y1="933.5" x2="1307.5" y2="936.5" stroke="#999" stroke-width="1.2"/>
<line x1="1334.4" y1="933.5" x2="1334.4" y2="936.5" stroke="#999" stroke-width="1.2"/>
<line x1="1361.2" y1="933.5" x2="1361.2" y2="936.5" stroke="#999" stroke-width="1.2"/>
<line x1="1388.3" y1="933.5" x2="1388.3" y2="936.5" stroke="#999" stroke-width="1.2"/>
<line x1="1415.3" y1="933.5" x2="1415.3" y2="936.5" stroke="#999" stroke-width="1.2"/>
<line x1="1442.2" y1="933.5" x2="1442.2" y2="936.5" stroke="#999" stroke-width="1.2"/>
<line x1="1469.2" y1="933.5" x2="1469.2" y2="936.5" stroke="#999" stroke-width="1.2"/>
<line x1="1360.6" y1="66" x2="1360.6" y2="940" stroke="#C8C8C8" stroke-width="2" stroke-dasharray="7,5"/>
<line x1="1345.2" y1="88.4" x2="1345.2" y2="105" stroke="#000" stroke-width="2.6"/>
<polygon points="1333.2,104 1356.8,104 1345.2,127.8" fill="#000"/>
<line x1="1381" y1="54.5" x2="1381" y2="70" stroke="#000" stroke-width="2.6"/>
<polygon points="1369.1,69.3 1393,69.3 1381,93.2" fill="#000"/>
<text x="1325.16" y="88.00" font-size="24" textLength="34.12" lengthAdjust="spacingAndGlyphs">D6</text>
<text x="1365.06" y="50.20" font-size="24" textLength="34.16" lengthAdjust="spacingAndGlyphs">D5</text>
<circle cx="1517.1" cy="108.7" r="25.6" fill="#fff" stroke="#BE0000" stroke-width="3.7"/>
<text x="1517.1" y="117.1" font-size="25" fill="#BE0000" text-anchor="middle">1</text>
<circle cx="1517.1" cy="220.2" r="25.6" fill="#fff" stroke="#BE0000" stroke-width="3.7"/>
<text x="1517.1" y="228.6" font-size="25" fill="#BE0000" text-anchor="middle">2</text>
<circle cx="1517.1" cy="331.5" r="25.6" fill="#fff" stroke="#BE0000" stroke-width="3.7"/>
<text x="1517.1" y="339.9" font-size="25" fill="#BE0000" text-anchor="middle">3</text>
<circle cx="1517.1" cy="442.8" r="25.6" fill="#fff" stroke="#BE0000" stroke-width="3.7"/>
<text x="1517.1" y="451.2" font-size="25" fill="#BE0000" text-anchor="middle">4</text>
<circle cx="1517.1" cy="554.2" r="25.6" fill="#fff" stroke="#2F5597" stroke-width="3.7"/>
<text x="1517.1" y="562.6" font-size="25" fill="#2F5597" text-anchor="middle">5</text>
<circle cx="1517.1" cy="665.6" r="25.6" fill="#fff" stroke="#2F5597" stroke-width="3.7"/>
<text x="1517.1" y="674" font-size="25" fill="#2F5597" text-anchor="middle">6</text>
<circle cx="1517.1" cy="776.7" r="25.6" fill="#fff" stroke="#2F5597" stroke-width="3.7"/>
<text x="1517.1" y="785.1" font-size="25" fill="#2F5597" text-anchor="middle">7</text>
<circle cx="1517.1" cy="888.3" r="25.6" fill="#fff" stroke="#2F5597" stroke-width="3.7"/>
<text x="1517.1" y="896.7" font-size="25" fill="#2F5597" text-anchor="middle">8</text>
<text x="1225.40" y="961.10" font-size="23" textLength="43.07" lengthAdjust="spacingAndGlyphs">-0.4</text>
<text x="1286.57" y="961.10" font-size="23" textLength="35.71" lengthAdjust="spacingAndGlyphs">0.2</text>
<text x="1351.47" y="961.10" font-size="23" textLength="14.37" lengthAdjust="spacingAndGlyphs">0</text>
<text x="1399.19" y="961.10" font-size="23" textLength="35.18" lengthAdjust="spacingAndGlyphs">0.2</text>
<text x="1451.00" y="961.10" font-size="23" textLength="34.64" lengthAdjust="spacingAndGlyphs">0.4</text>
<text x="1208.81" y="998.40" font-size="24.7" textLength="317.69" lengthAdjust="spacingAndGlyphs">Relative local SOC Change</text>
<text x="1305.93" y="1029.70" font-size="24.7" textLength="124.81" lengthAdjust="spacingAndGlyphs">(arb. units)</text>
<text x="1612.46" y="32.00" font-size="45" font-weight="bold" textLength="25.53" lengthAdjust="spacingAndGlyphs">c</text>
<line x1="1674.2" y1="65.3" x2="1950" y2="65.3" stroke="#000" stroke-width="3"/>
<polygon points="1946.5,57.1 1964,65.3 1946.5,73.5" fill="#000"/>
<line x1="1676.4" y1="64" x2="1676.4" y2="1012" stroke="#000" stroke-width="3"/>
<polygon points="1668.5,1010.5 1684.3,1010.5 1676.4,1026.4" fill="#000"/>
<line x1="1683.6" y1="546" x2="1916" y2="545.2" stroke="#444" stroke-width="1.8" stroke-dasharray="8,6"/>
<polyline points="1683.7,69.7 1683.1,76.7 1682.6,83.7 1682,90.7 1681.5,97.6 1681.1,104.6 1680.6,111.6 1680.2,118.6 1679.8,125.5 1679.4,132.5 1679,139.5 1678.7,146.4 1678.5,153.4 1678.2,160.3 1678,167.3 1677.8,174.2 1677.7,181.2 1677.6,188.1 1677.5,195 1677.5,202 1677.5,208.9 1677.5,215.8 1677.6,222.8 1677.8,229.7 1678,236.6 1678.2,243.6 1678.5,250.5 1678.8,257.4 1679.2,264.3 1679.6,271.3 1680.1,278.2 1680.6,285.1 1681.2,292 1681.9,299 1682.6,305.9 1683.3,312.8 1684.2,319.7 1685,326.7 1686,333.6 1687,340.5 1688,347.5 1689.2,354.4 1690.4,361.4 1691.6,368.3 1693,375.2 1694.5,382.1 1696,389 1697.7,395.8 1699.6,402.5 1701.6,409.2 1703.8,415.8 1706.2,422.3 1708.7,428.8 1711.5,435.1 1714.5,441.2 1717.8,447.3 1721.3,453.2 1725,459 1728.9,464.7 1733,470.2 1737.4,475.6 1741.9,480.8 1746.5,485.9 1751.3,490.9 1756.3,495.8 1761.4,500.5 1766.6,505.2 1771.9,509.7 1777.3,514.1 1782.8,518.4 1788.4,522.6 1794,526.8 1799.6,530.9 1805.3,535 1810.9,539.1 1816.6,543.2 1822.3,547.3 1827.9,551.4 1833.4,555.6 1839,559.8 1844.4,564.1 1849.8,568.5 1855.1,572.9 1860.4,577.3 1865.8,581.8 1871.3,586.1 1876.8,590.5 1882.2,594.9 1887.5,599.4 1892.6,604.2 1897.5,609.3 1901.9,614.7 1905.9,620.4 1909.5,626.5 1912.8,632.8 1915.5,639.3 1917.9,645.9 1919.8,652.7 1921.3,659.5 1922.3,666.3 1922.9,673.2 1922.9,679.9 1922.6,686.7 1921.8,693.3 1920.7,699.9 1919.2,706.5 1917.3,713 1915.2,719.4 1912.7,725.9 1910,732.2 1907.1,738.5 1904,744.8 1900.7,751.1 1897.3,757.3 1893.7,763.4 1890.1,769.6 1886.4,775.7 1882.6,781.8 1878.9,787.8 1875.1,793.8 1871.3,799.8 1867.5,805.8 1863.7,811.7 1859.8,817.6 1856,823.4 1852.1,829.3 1848.2,835.1 1844.3,840.9 1840.3,846.6 1836.4,852.3 1832.4,858 1828.3,863.6 1824.3,869.2 1820.2,874.8 1816,880.4 1811.9,885.9 1807.7,891.3 1803.4,896.8 1799.1,902.2 1794.8,907.6 1790.5,912.9 1786,918.2 1781.6,923.4 1777.1,928.7 1772.5,933.9 1767.9,939 1763.3,944.1 1758.5,949.2 1753.8,954.2 1749,959.2 1744.1,964.2 1739.1,969.1 1734.1,974 1729.1,978.8 1723.9,983.6 1718.7,988.3 1713.5,993 1708.1,997.7 1702.7,1002.3 1697.2,1006.9" fill="none" stroke="#F9BE6F" stroke-width="3.6" stroke-linecap="butt" stroke-linejoin="round"/>
<polyline points="1684.5,66.1 1688.5,71.6 1692.5,77.1 1696.5,82.5 1700.5,88 1704.5,93.5 1708.5,99 1712.5,104.4 1716.4,109.9 1720.4,115.3 1724.4,120.8 1728.3,126.3 1732.3,131.7 1736.2,137.2 1740.2,142.6 1744.1,148.1 1748,153.6 1751.9,159 1755.8,164.5 1759.6,170 1763.5,175.5 1767.3,181 1771.1,186.5 1774.9,192 1778.7,197.6 1782.5,203.1 1786.2,208.7 1789.9,214.2 1793.6,219.8 1797.3,225.4 1800.9,231.1 1804.5,236.7 1808.1,242.3 1811.7,248 1815.2,253.7 1818.7,259.4 1822.2,265.2 1825.6,270.9 1829,276.7 1832.4,282.5 1835.7,288.4 1839,294.2 1842.3,300.1 1845.5,306 1848.7,312 1851.8,318 1854.9,324 1858,330 1861,336.1 1864,342.2 1866.9,348.3 1869.8,354.5 1872.6,360.6 1875.3,366.9 1878,373.1 1880.6,379.4 1883.2,385.6 1885.7,392 1888.1,398.3 1890.4,404.6 1892.7,411 1894.9,417.4 1896.9,423.8 1899,430.3 1900.9,436.7 1902.7,443.2 1904.5,449.7 1906.1,456.2 1907.6,462.8 1909.1,469.3 1910.4,475.9 1911.7,482.4 1912.8,489 1913.8,495.6 1914.7,502.3 1915.5,508.9 1916.1,515.5 1916.6,522.2 1917.1,528.8 1917.3,535.5 1917.5,542.2 1917.5,548.9 1917.4,555.6 1917.1,562.3 1916.8,569 1916.3,575.7 1915.7,582.4 1914.9,589 1914.1,595.7 1913.1,602.4 1912,609.1 1910.8,615.7 1909.6,622.4 1908.2,629 1906.7,635.6 1905.1,642.1 1903.4,648.7 1901.6,655.2 1899.8,661.7 1897.8,668.2 1895.8,674.6 1893.7,681 1891.5,687.4 1889.3,693.7 1887,700.1 1884.6,706.3 1882.2,712.6 1879.7,718.8 1877.1,725.1 1874.6,731.3 1871.9,737.5 1869.3,743.6 1866.6,749.8 1863.9,755.9 1861.1,762.1 1858.3,768.2 1855.5,774.3 1852.7,780.4 1849.9,786.5 1847.1,792.6 1844.3,798.8 1841.5,804.9 1838.6,811 1835.8,817.1 1832.9,823.2 1830.1,829.3 1827.2,835.3 1824.2,841.4 1821.3,847.4 1818.2,853.4 1815.2,859.4 1812.1,865.3 1808.9,871.2 1805.7,877.1 1802.4,882.9 1799,888.7 1795.5,894.4 1792,900.1 1788.4,905.8 1784.6,911.3 1780.8,916.9 1777,922.3 1773,927.7 1768.9,933.1 1764.8,938.3 1760.5,943.5 1756.1,948.7 1751.7,953.7 1747.2,958.7 1742.5,963.6 1737.8,968.4 1733,973.1 1728.1,977.8 1723.1,982.4 1718.1,986.8 1712.9,991.2 1707.7,995.5 1702.3,999.8 1696.9,1003.9 1691.4,1007.9" fill="none" stroke="#555555" stroke-width="3.6" stroke-linecap="butt" stroke-linejoin="round"/>
<polyline points="1683.1,68.5 1688.4,72.4 1693.7,76.2 1699,80.1 1704.4,84 1709.8,87.9 1715.3,91.7 1720.8,95.6 1726.4,99.5 1732,103.3 1737.5,107.2 1743.1,111.1 1748.7,115.1 1754.3,119 1760,123 1765.6,127 1771.1,131 1776.7,135.1 1782.2,139.2 1787.8,143.3 1793.2,147.5 1798.7,151.7 1804.1,156 1809.4,160.3 1814.7,164.7 1819.9,169.2 1825.1,173.7 1830.2,178.3 1835.2,182.9 1840.1,187.6 1845,192.4 1849.7,197.3 1854.4,202.2 1859,207.3 1863.4,212.4 1867.7,217.6 1872,222.9 1876.1,228.3 1880,233.9 1883.9,239.5 1887.6,245.2 1891.1,251 1894.5,256.9 1897.8,262.9 1900.9,268.9 1903.8,275.1 1906.6,281.3 1909.3,287.5 1911.7,293.9 1914,300.3 1916.1,306.7 1918,313.2 1919.8,319.7 1921.3,326.3 1922.7,332.9 1923.9,339.6 1924.9,346.2 1925.6,352.9 1926.2,359.6 1926.6,366.3 1926.7,373 1926.7,379.8 1926.5,386.5 1926.2,393.3 1925.6,400 1925,406.7 1924.2,413.5 1923.3,420.2 1922.3,427 1921.1,433.7 1919.9,440.4 1918.6,447.2 1917.2,453.9 1915.8,460.6 1914.3,467.3 1912.7,473.9 1911.1,480.6 1909.5,487.2 1907.8,493.8 1906.1,500.5 1904.4,507 1902.6,513.6 1900.8,520.2 1898.9,526.8 1897,533.3 1895.1,539.8 1893.1,546.3 1891.1,552.8 1889.1,559.3 1887,565.8 1884.9,572.3 1882.8,578.7 1880.7,585.2 1878.5,591.6 1876.3,598 1874,604.4 1871.7,610.8 1869.5,617.2 1867.1,623.6 1864.8,630 1862.4,636.4 1860,642.7 1857.6,649.1 1855.2,655.4 1852.7,661.7 1850.2,668.1 1847.7,674.4 1845.2,680.7 1842.6,687 1840.1,693.3 1837.5,699.6 1834.9,705.9 1832.3,712.1 1829.7,718.4 1827.1,724.7 1824.4,730.9 1821.7,737.2 1819.1,743.4 1816.4,749.7 1813.7,755.9 1811,762.2 1808.3,768.4 1805.6,774.7 1802.8,780.9 1800.1,787.1 1797.3,793.3 1794.6,799.6 1791.8,805.8 1789.1,812 1786.3,818.2 1783.6,824.4 1780.8,830.7 1778,836.9 1775.3,843.1 1772.5,849.3 1769.8,855.5 1767,861.8 1764.2,868 1761.5,874.2 1758.7,880.4 1756,886.6 1753.3,892.9 1750.5,899.1 1747.8,905.3 1745.1,911.6 1742.4,917.8 1739.7,924 1737,930.3 1734.3,936.5 1731.6,942.8 1729,949 1726.4,955.3 1723.7,961.5 1721.1,967.8 1718.5,974.1 1715.9,980.4 1713.4,986.6 1710.8,992.9 1708.3,999.2 1705.8,1005.5" fill="none" stroke="#C3A9D6" stroke-width="3.6" stroke-linecap="butt" stroke-linejoin="round"/>
<text x="1801.61" y="48.90" font-size="24.7" textLength="56.01" lengthAdjust="spacingAndGlyphs">SOC</text>
<text x="1746.65" y="267.60" font-size="24.7" textLength="46.44" lengthAdjust="spacingAndGlyphs">Cell</text>
<text x="1878.89" y="332.90" font-size="24.3" textLength="33.68" lengthAdjust="spacingAndGlyphs">D6</text>
<text x="1751.11" y="787.70" font-size="24.3" textLength="34.93" lengthAdjust="spacingAndGlyphs">D5</text>
<text transform="translate(1646.50,517.47) rotate(90)" font-size="24.7" textLength="57.41" lengthAdjust="spacingAndGlyphs">Time</text>
<text transform="translate(1948.80,201.89) rotate(90)" font-size="24.7" textLength="152.43" lengthAdjust="spacingAndGlyphs">Cell charging</text>
<text transform="translate(1948.80,623.71) rotate(90)" font-size="24.7" textLength="184.16" lengthAdjust="spacingAndGlyphs">Cell discharging</text>
</svg>
</body></html>
